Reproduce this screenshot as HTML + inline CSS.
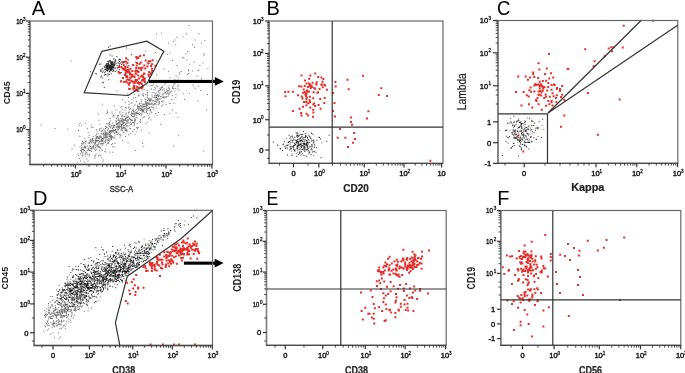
<!DOCTYPE html>
<html><head><meta charset="utf-8"><style>
html,body{margin:0;padding:0;background:#fff;}
body{width:685px;height:373px;overflow:hidden;}
svg{display:block;font-family:"Liberation Sans",sans-serif;filter:blur(0.35px);}
</style></head><body>
<svg width="685" height="373" viewBox="0 0 685 373">
<rect width="685" height="373" fill="#fff"/>
<path d="M127.2 117.3h1v1h-1zM157.7 96.4h1v1h-1zM142.6 106.2h1v1h-1zM99.2 128.7h1v1h-1zM105.6 134.3h1v1h-1zM156.8 98.9h1v1h-1zM148.1 118.3h1v1h-1zM143.9 104.3h1v1h-1zM117.8 119.7h1v1h-1zM104.6 134.2h1v1h-1zM104.4 130.6h1v1h-1zM101.4 130.5h1v1h-1zM117.8 127.3h1v1h-1zM116.7 115.3h1v1h-1zM123 127.4h1v1h-1zM177.3 85.8h1v1h-1zM144.3 107.8h1v1h-1zM127.8 116.1h1v1h-1zM173.6 83.5h1v1h-1zM96.6 130.7h1v1h-1zM94.8 139.4h1v1h-1zM131.9 113.5h1v1h-1zM85.6 151.7h1v1h-1zM81 150.7h1v1h-1zM119.2 111.8h1v1h-1zM116.2 127.3h1v1h-1zM161.6 85.8h1v1h-1zM128.4 111.8h1v1h-1zM119.4 121.5h1v1h-1zM120.4 106.4h1v1h-1zM102.2 138.1h1v1h-1zM77.9 155.3h1v1h-1zM95.3 138.5h1v1h-1zM132.8 109.3h1v1h-1zM96.5 136.3h1v1h-1zM106.4 122.9h1v1h-1zM77.6 153.6h1v1h-1zM148 98.6h1v1h-1zM95 142.5h1v1h-1zM105.2 125.9h1v1h-1zM156.8 100.3h1v1h-1zM118.3 125.7h1v1h-1zM152.2 100.4h1v1h-1zM132.2 112.7h1v1h-1zM138.6 114h1v1h-1zM87.7 132h1v1h-1zM122.3 126.8h1v1h-1zM117.5 126.7h1v1h-1zM156.1 101.5h1v1h-1zM105.5 135.5h1v1h-1zM125.4 113.4h1v1h-1zM85.4 146.2h1v1h-1zM110.7 136.5h1v1h-1zM106.6 137.6h1v1h-1zM94.3 143.7h1v1h-1zM147.1 92h1v1h-1zM112.1 136h1v1h-1zM168.2 95.6h1v1h-1zM126.4 128.9h1v1h-1zM126.5 120.9h1v1h-1zM130.5 102.9h1v1h-1zM134 122.3h1v1h-1zM92.6 140.7h1v1h-1zM113.9 105.3h1v1h-1zM101.6 141h1v1h-1zM112.6 116.6h1v1h-1zM88.6 134.7h1v1h-1zM172 86.5h1v1h-1zM102.1 149.8h1v1h-1zM131.1 111.2h1v1h-1zM105.2 137.3h1v1h-1zM158 112.1h1v1h-1zM133.6 129h1v1h-1zM92.9 142.2h1v1h-1zM150.4 99.8h1v1h-1zM163.7 84.6h1v1h-1zM157.9 91.5h1v1h-1zM123.9 124.9h1v1h-1zM94.7 145.6h1v1h-1zM96.4 140.8h1v1h-1zM161.1 101h1v1h-1zM121.6 115.1h1v1h-1zM96.1 140h1v1h-1zM154.2 103.6h1v1h-1zM130.4 121.6h1v1h-1zM126.3 130.7h1v1h-1zM110.8 134.9h1v1h-1zM113.5 126.9h1v1h-1zM100.9 140.8h1v1h-1zM83.1 142.4h1v1h-1zM154.3 86.9h1v1h-1zM116.4 131.9h1v1h-1zM124.1 121.8h1v1h-1zM104.7 136.6h1v1h-1zM142.7 94.4h1v1h-1zM81.1 149.1h1v1h-1zM108.8 126.2h1v1h-1zM81.2 144.5h1v1h-1zM90.8 124.7h1v1h-1zM169 88.4h1v1h-1zM131 123.2h1v1h-1zM115.7 132.2h1v1h-1zM120 118.2h1v1h-1zM150.7 99.2h1v1h-1zM106.8 139.6h1v1h-1zM123.4 95h1v1h-1zM134.3 112.5h1v1h-1zM110.3 137.2h1v1h-1zM121.8 130h1v1h-1zM140 121.9h1v1h-1zM157.8 103.9h1v1h-1zM96.7 144.5h1v1h-1zM163.1 95.8h1v1h-1zM76.9 161.7h1v1h-1zM142.4 104.1h1v1h-1zM150.4 104.1h1v1h-1zM94.9 150.3h1v1h-1zM113.5 146.8h1v1h-1zM147.8 102.8h1v1h-1zM80 153.3h1v1h-1zM128.6 119.1h1v1h-1zM143.3 116.6h1v1h-1zM120.4 123.9h1v1h-1zM136.8 123.1h1v1h-1zM99.3 130h1v1h-1zM97.6 138h1v1h-1zM112.8 130.2h1v1h-1zM94.8 147.2h1v1h-1zM107.8 142h1v1h-1zM164.9 82.8h1v1h-1zM125.7 112.6h1v1h-1zM109.2 136h1v1h-1zM101.9 130.5h1v1h-1zM164.6 82.4h1v1h-1zM112.7 137.2h1v1h-1zM170.4 91.5h1v1h-1zM121.3 128.5h1v1h-1zM121 119.5h1v1h-1zM155.7 104.5h1v1h-1zM139.3 107.2h1v1h-1zM125.7 130.3h1v1h-1zM114.6 120.6h1v1h-1zM153.9 92.5h1v1h-1zM112.4 131.4h1v1h-1zM158.2 89.9h1v1h-1zM85.1 152.9h1v1h-1zM116.5 131h1v1h-1zM117.5 115.5h1v1h-1zM165.1 92.6h1v1h-1zM101.5 134.1h1v1h-1zM145.7 112.1h1v1h-1zM132.5 108.6h1v1h-1zM137.3 107.4h1v1h-1zM129.6 128h1v1h-1zM169.6 103h1v1h-1zM104.3 151.1h1v1h-1zM111.6 130.9h1v1h-1zM96.5 141.3h1v1h-1zM83.9 161.4h1v1h-1zM98.8 137.9h1v1h-1zM160.8 88.5h1v1h-1zM151.5 103h1v1h-1zM90.2 148h1v1h-1zM128.9 111.5h1v1h-1zM119.5 111.2h1v1h-1zM128.5 106.6h1v1h-1zM134.3 121.1h1v1h-1zM105 127.9h1v1h-1zM167.3 90.1h1v1h-1zM118 128.7h1v1h-1zM127.5 122.8h1v1h-1zM130.4 113.9h1v1h-1zM95.6 144.6h1v1h-1zM85.5 140.9h1v1h-1zM110.1 126.4h1v1h-1zM140.6 99.3h1v1h-1zM147.2 113h1v1h-1zM139.9 110h1v1h-1zM92.5 138h1v1h-1zM159.4 93h1v1h-1zM145.6 103.3h1v1h-1zM153.5 104h1v1h-1zM121.7 109.3h1v1h-1zM159.5 88.1h1v1h-1zM85.1 146.5h1v1h-1zM80.1 160.4h1v1h-1zM99.1 136.1h1v1h-1zM99.7 143.5h1v1h-1zM94.4 157.7h1v1h-1zM122.7 119.1h1v1h-1zM85.1 147.4h1v1h-1zM126.7 130.7h1v1h-1zM92.8 145.3h1v1h-1zM134.8 119.8h1v1h-1zM82.2 148.6h1v1h-1zM104.9 151.4h1v1h-1zM162.4 104.5h1v1h-1zM121.8 127.9h1v1h-1zM147.3 109.8h1v1h-1zM133 97.6h1v1h-1zM129.8 124.2h1v1h-1zM98.7 138.3h1v1h-1zM126.9 124.7h1v1h-1zM85.3 155.7h1v1h-1zM146.8 102.3h1v1h-1zM165 80.8h1v1h-1zM151.6 103.7h1v1h-1zM85.2 143.2h1v1h-1zM106.9 130.2h1v1h-1zM107.4 128.7h1v1h-1zM90.5 141.4h1v1h-1zM128 97h1v1h-1zM147.5 115.2h1v1h-1zM106.7 136.5h1v1h-1zM153.2 108.5h1v1h-1zM146.7 121.4h1v1h-1zM93.9 143.4h1v1h-1zM142.7 92.7h1v1h-1zM151.7 91.9h1v1h-1zM96.3 129.3h1v1h-1zM124.4 116.3h1v1h-1zM128.9 117.3h1v1h-1zM128.3 100.7h1v1h-1zM91.3 148.2h1v1h-1zM131.6 101.9h1v1h-1zM128.1 119.7h1v1h-1zM151.3 102.5h1v1h-1zM145.3 102.4h1v1h-1zM104.8 133h1v1h-1zM138.2 106.2h1v1h-1zM154 95.2h1v1h-1zM155.7 85.3h1v1h-1zM95.9 141.1h1v1h-1zM130.1 133.2h1v1h-1zM98.9 150.3h1v1h-1zM125.4 127.7h1v1h-1zM163.6 88.3h1v1h-1zM110.9 144.1h1v1h-1zM101.2 136.6h1v1h-1zM120.3 126.6h1v1h-1zM130.9 112.8h1v1h-1zM92.1 145.8h1v1h-1zM110.4 127.2h1v1h-1zM92.5 142.2h1v1h-1zM133.5 105.5h1v1h-1zM150.3 99.9h1v1h-1zM112.1 151.8h1v1h-1zM110.4 130.9h1v1h-1zM121.5 120.6h1v1h-1zM97.8 143.4h1v1h-1zM101.7 143.5h1v1h-1zM107.7 123.6h1v1h-1zM118.2 125.3h1v1h-1zM88.8 153.9h1v1h-1zM142.4 110.9h1v1h-1zM127.8 121.6h1v1h-1zM104.9 148.6h1v1h-1zM85.5 141.2h1v1h-1zM140.1 108.6h1v1h-1zM90.3 138.7h1v1h-1zM95 155.4h1v1h-1zM91.2 126.7h1v1h-1zM90 141h1v1h-1zM159.4 92.4h1v1h-1zM105.1 142.1h1v1h-1zM106.7 139.9h1v1h-1zM149.1 113.5h1v1h-1zM128.5 103.9h1v1h-1zM96.7 146.6h1v1h-1zM114.7 125.8h1v1h-1zM154.7 93.4h1v1h-1zM110.1 136.2h1v1h-1zM139.2 103.7h1v1h-1zM87 128.2h1v1h-1zM138.7 107.2h1v1h-1zM141.8 94.6h1v1h-1zM148.7 98.1h1v1h-1zM134.7 117.5h1v1h-1zM109.7 134.4h1v1h-1zM87.5 160.6h1v1h-1zM118.4 122.1h1v1h-1zM142.9 95.4h1v1h-1zM96 133.5h1v1h-1zM103.2 128.4h1v1h-1zM122.4 112h1v1h-1zM136.5 112.6h1v1h-1zM156.1 92.5h1v1h-1zM92.4 126.8h1v1h-1zM98.7 146.2h1v1h-1zM146 104.4h1v1h-1zM131.3 119.4h1v1h-1zM135.6 111.8h1v1h-1zM178.5 89.4h1v1h-1zM166.3 93.5h1v1h-1zM150.5 111.3h1v1h-1zM142.9 110.4h1v1h-1zM109.1 134h1v1h-1zM131.9 120.1h1v1h-1zM100.5 127.8h1v1h-1zM142.5 106.8h1v1h-1zM143.2 106.1h1v1h-1zM138.6 112.6h1v1h-1zM113.7 115.6h1v1h-1zM112.3 145.9h1v1h-1zM111.5 130.1h1v1h-1zM82 141.3h1v1h-1zM151 88.6h1v1h-1zM123.9 120h1v1h-1zM111.6 130h1v1h-1zM123.6 115.8h1v1h-1zM136.7 111.6h1v1h-1zM108.6 125.3h1v1h-1zM149.1 107.1h1v1h-1zM159.4 90h1v1h-1zM109 130.5h1v1h-1zM91.1 150.9h1v1h-1zM140.8 129.5h1v1h-1zM172.4 81.5h1v1h-1zM91.8 138.1h1v1h-1zM134.5 104.3h1v1h-1zM148.7 109.4h1v1h-1zM161.2 87h1v1h-1zM94.9 139.5h1v1h-1zM86.9 145.4h1v1h-1zM172.7 82.3h1v1h-1zM92.7 136h1v1h-1zM95.5 136.6h1v1h-1zM124.7 101.8h1v1h-1zM117.9 114.8h1v1h-1zM140 105.3h1v1h-1zM95.1 141.3h1v1h-1zM157.7 94.1h1v1h-1zM99.3 123.4h1v1h-1zM142.9 103.6h1v1h-1zM84.6 154h1v1h-1zM115.8 131.4h1v1h-1zM83 150.5h1v1h-1zM106.6 126.4h1v1h-1zM104.6 139.9h1v1h-1zM138.6 106h1v1h-1zM116.8 116.8h1v1h-1zM82.8 142.1h1v1h-1zM175.5 93.9h1v1h-1zM156.8 99.4h1v1h-1zM159.1 103.3h1v1h-1zM97.7 133.2h1v1h-1zM111.1 139h1v1h-1zM100.6 133.1h1v1h-1zM94.4 142.1h1v1h-1zM123.5 131.6h1v1h-1zM90.2 139.4h1v1h-1zM97.3 139.9h1v1h-1zM154.4 102.8h1v1h-1zM119.6 136.7h1v1h-1zM96.6 136.1h1v1h-1zM131.4 99.3h1v1h-1zM103.2 134h1v1h-1zM120.3 123.6h1v1h-1zM99.7 136.6h1v1h-1zM124.8 135.9h1v1h-1zM130.6 120.1h1v1h-1zM124.8 130.2h1v1h-1zM110.2 120.5h1v1h-1zM146.9 112.9h1v1h-1zM156.5 114.7h1v1h-1zM98.4 147.1h1v1h-1zM92.9 144.9h1v1h-1zM89.2 145.5h1v1h-1zM171.3 98.9h1v1h-1zM160.7 87h1v1h-1zM97.2 137.2h1v1h-1zM169.5 92.7h1v1h-1zM96.6 145.6h1v1h-1zM119.6 120.6h1v1h-1zM119 127.8h1v1h-1zM162.7 93.4h1v1h-1zM85.3 151.2h1v1h-1zM105.8 133h1v1h-1zM129 109h1v1h-1zM85.4 147.5h1v1h-1zM99.6 145.4h1v1h-1zM118.1 118.1h1v1h-1zM153.3 96.8h1v1h-1zM141.2 113.6h1v1h-1zM146.8 94.6h1v1h-1zM141.8 109.5h1v1h-1zM139 102.7h1v1h-1zM150.1 109.9h1v1h-1zM134.5 133.8h1v1h-1zM137.8 127h1v1h-1zM103.1 132.9h1v1h-1zM93.3 147.4h1v1h-1zM143.3 109.4h1v1h-1zM98.6 142h1v1h-1zM161.2 105.6h1v1h-1zM125.8 107.6h1v1h-1zM107.9 142.9h1v1h-1zM162.6 93.1h1v1h-1zM95.5 153.6h1v1h-1zM120.9 125.8h1v1h-1zM89.5 140.2h1v1h-1zM169.3 92.2h1v1h-1zM124.3 127.3h1v1h-1zM145.4 105.2h1v1h-1zM100.8 140h1v1h-1zM145.2 100.9h1v1h-1zM133.9 93.8h1v1h-1zM130.6 124.2h1v1h-1zM164.1 96.6h1v1h-1zM114.5 129.8h1v1h-1zM113.7 130h1v1h-1zM133 121.9h1v1h-1zM148.3 98.9h1v1h-1zM105.8 127h1v1h-1zM134.2 112.9h1v1h-1zM100.7 149.4h1v1h-1zM124.6 109.6h1v1h-1zM141.9 117.3h1v1h-1zM88.6 142.6h1v1h-1zM136.1 101h1v1h-1zM166 90.7h1v1h-1zM112.8 114.9h1v1h-1zM116.5 126.5h1v1h-1zM140.1 118.9h1v1h-1zM119.6 134.4h1v1h-1zM138.9 106.5h1v1h-1zM88.1 149.5h1v1h-1zM124.4 127.9h1v1h-1zM121.6 115.9h1v1h-1zM161.4 96.3h1v1h-1zM84 150h1v1h-1zM116.1 122.6h1v1h-1zM131.6 112.8h1v1h-1zM123.4 122.7h1v1h-1zM90.9 147.3h1v1h-1zM125.6 114.5h1v1h-1zM99.5 134.8h1v1h-1zM94.3 149.3h1v1h-1zM153 100.3h1v1h-1zM99.4 147.2h1v1h-1zM114.5 138.2h1v1h-1zM141.3 113.7h1v1h-1zM136.4 131.4h1v1h-1zM121.9 114.5h1v1h-1zM145.9 111.1h1v1h-1zM116 123.9h1v1h-1zM128.1 134.3h1v1h-1zM148.8 117.2h1v1h-1zM134.8 96.9h1v1h-1zM129.8 107.9h1v1h-1zM111 135.9h1v1h-1zM124.3 128.8h1v1h-1zM111.5 137h1v1h-1zM141.5 108.6h1v1h-1zM114.5 135.2h1v1h-1zM118.1 132.6h1v1h-1zM141 107.8h1v1h-1zM119.3 134h1v1h-1zM106.2 113.1h1v1h-1zM147.2 108.1h1v1h-1zM109 121.8h1v1h-1zM150.1 109h1v1h-1zM143.4 104.4h1v1h-1zM116.5 119.7h1v1h-1zM136.4 114.7h1v1h-1zM82.2 143.6h1v1h-1zM109.3 122.5h1v1h-1zM155 88.6h1v1h-1zM126.3 120.2h1v1h-1zM126.5 126.2h1v1h-1zM133.8 123.8h1v1h-1zM136 112.7h1v1h-1zM125.5 129.6h1v1h-1zM114.5 129.3h1v1h-1zM100.4 139.5h1v1h-1zM102.4 140.3h1v1h-1zM106 144.5h1v1h-1zM116.7 125.5h1v1h-1zM177.8 84.5h1v1h-1zM109.6 131h1v1h-1zM117.3 128.5h1v1h-1zM108.9 123.5h1v1h-1zM126.3 129.6h1v1h-1zM163.7 89.8h1v1h-1zM155.2 101.2h1v1h-1zM109.3 123.9h1v1h-1zM102.1 139.6h1v1h-1zM155.8 101.1h1v1h-1zM119.5 121.5h1v1h-1zM132.3 131h1v1h-1zM90.3 150.1h1v1h-1zM155.1 113.1h1v1h-1zM106.8 142.8h1v1h-1zM118.4 119.2h1v1h-1zM97.2 136.4h1v1h-1zM114.2 133.1h1v1h-1zM149.3 103.5h1v1h-1zM146.1 103.5h1v1h-1zM118.5 123.8h1v1h-1zM146.8 92.6h1v1h-1zM113.3 125.1h1v1h-1zM111.5 111.6h1v1h-1zM123.4 125.7h1v1h-1zM97.5 133.2h1v1h-1zM108 127.8h1v1h-1zM134.6 110h1v1h-1zM142.8 109.6h1v1h-1zM87.7 137.1h1v1h-1zM138.6 95.1h1v1h-1zM146.9 95.5h1v1h-1zM115.4 109.5h1v1h-1zM85.4 140.2h1v1h-1zM136.6 127.4h1v1h-1zM99.4 128.2h1v1h-1zM132.2 122.1h1v1h-1zM139 106.6h1v1h-1zM134.1 115.6h1v1h-1zM104.5 132.7h1v1h-1zM111.5 137h1v1h-1zM80.1 150h1v1h-1zM148.8 102.6h1v1h-1zM105.4 139.1h1v1h-1zM89.1 149.8h1v1h-1zM104.5 129.8h1v1h-1zM108.8 132.1h1v1h-1zM136.9 105.2h1v1h-1zM80.8 151.4h1v1h-1zM103.1 137.7h1v1h-1zM156.1 97h1v1h-1zM150.6 99h1v1h-1zM130.9 114.9h1v1h-1zM125.7 117.8h1v1h-1zM100.8 140.2h1v1h-1zM152.6 104.8h1v1h-1zM141 100.8h1v1h-1zM123.6 122.6h1v1h-1zM96.6 139.8h1v1h-1zM101.8 140.4h1v1h-1zM112.5 127h1v1h-1zM109.4 132.4h1v1h-1zM87.7 142.7h1v1h-1zM115.2 131.3h1v1h-1zM118.6 126.9h1v1h-1zM106.4 134.7h1v1h-1zM112.5 131.3h1v1h-1zM108.6 132h1v1h-1zM114.3 125h1v1h-1zM130 118.9h1v1h-1zM121 124.9h1v1h-1zM100.9 139h1v1h-1zM146.1 108.6h1v1h-1zM123 127.3h1v1h-1zM118.1 122.2h1v1h-1zM140.2 108.1h1v1h-1zM141.6 113.6h1v1h-1zM150.9 106.5h1v1h-1zM146.3 101.6h1v1h-1zM132.8 109.6h1v1h-1zM137.2 108h1v1h-1zM96.7 139.7h1v1h-1zM137.1 106.2h1v1h-1zM103.5 137.1h1v1h-1zM102.8 132.3h1v1h-1zM91.8 139h1v1h-1zM113.7 132.5h1v1h-1zM81.5 146.8h1v1h-1zM134.2 114.2h1v1h-1zM142 110.6h1v1h-1zM146.1 109.4h1v1h-1zM94.8 141.7h1v1h-1zM131.4 115.6h1v1h-1zM148.3 99.7h1v1h-1zM81.7 154.6h1v1h-1zM98.6 142h1v1h-1zM104.5 132.5h1v1h-1zM119.7 125.8h1v1h-1zM98.1 143.2h1v1h-1zM124.9 123.3h1v1h-1zM110.4 138.6h1v1h-1zM133.8 119.4h1v1h-1zM125.2 120.1h1v1h-1zM134.6 112.3h1v1h-1zM102.7 132.8h1v1h-1zM136 112.1h1v1h-1zM141.3 109.9h1v1h-1zM139.9 119.7h1v1h-1zM89.4 146.4h1v1h-1zM161.8 87.1h1v1h-1zM127.3 117h1v1h-1zM104.8 136.5h1v1h-1zM116.8 122.9h1v1h-1zM122.6 119.7h1v1h-1zM123.3 121.5h1v1h-1zM102.9 138.4h1v1h-1zM105.4 135.9h1v1h-1zM111.9 128h1v1h-1zM143.4 108.9h1v1h-1zM116.9 125.2h1v1h-1zM85 146.1h1v1h-1zM118.9 121.5h1v1h-1zM99.5 136.6h1v1h-1zM82.1 152.7h1v1h-1zM168.6 85.5h1v1h-1zM105.1 134.7h1v1h-1zM125.1 124.2h1v1h-1zM110.2 130.1h1v1h-1zM87.8 147.8h1v1h-1zM156.8 94.2h1v1h-1zM159.6 98.6h1v1h-1zM97.7 143.9h1v1h-1zM115.1 129h1v1h-1zM111.6 124.4h1v1h-1zM95.9 137.3h1v1h-1zM134.4 117.6h1v1h-1zM143.6 112h1v1h-1zM142.2 108.7h1v1h-1zM134.3 117.7h1v1h-1zM82.9 147.3h1v1h-1zM101.2 137.4h1v1h-1zM122.6 122.9h1v1h-1zM137.6 113h1v1h-1zM113.4 124.5h1v1h-1zM117.4 129.8h1v1h-1zM148.4 106.7h1v1h-1zM83.7 144.7h1v1h-1zM105.1 131.5h1v1h-1zM106.1 136.4h1v1h-1zM172.4 86.1h1v1h-1zM102.3 129.8h1v1h-1zM88.9 150.3h1v1h-1zM115.2 128.8h1v1h-1zM133 113.3h1v1h-1zM96.4 149h1v1h-1zM146.8 102.8h1v1h-1zM99.5 136.9h1v1h-1zM136.4 111.8h1v1h-1zM98 137.6h1v1h-1zM153.7 96.8h1v1h-1zM99 140.7h1v1h-1zM139.2 107.6h1v1h-1zM149.4 100.9h1v1h-1zM103.2 142.8h1v1h-1zM90.8 147.7h1v1h-1zM126.5 121.7h1v1h-1zM121.2 125.6h1v1h-1zM120.8 126.5h1v1h-1zM145.7 111.2h1v1h-1zM119.6 125.7h1v1h-1zM121.6 130.4h1v1h-1zM121.8 121.1h1v1h-1zM119.3 125.3h1v1h-1zM116.4 124h1v1h-1zM97.7 140h1v1h-1zM106.6 136.7h1v1h-1zM104.8 141.6h1v1h-1zM103.5 134.9h1v1h-1zM144.2 106h1v1h-1zM92.9 142.3h1v1h-1zM99.3 136.6h1v1h-1zM121.3 118.1h1v1h-1zM107.3 134.1h1v1h-1zM100.7 131.5h1v1h-1zM112.4 131h1v1h-1zM121.7 123.7h1v1h-1zM133 111.1h1v1h-1zM168.6 87.7h1v1h-1zM151.6 96.8h1v1h-1zM116.6 134.1h1v1h-1zM119.7 121.7h1v1h-1zM117.3 133.8h1v1h-1zM101.4 139.7h1v1h-1zM165 91.7h1v1h-1zM89.1 141.9h1v1h-1zM100.5 142.8h1v1h-1zM134.6 120.2h1v1h-1zM127.4 115.4h1v1h-1zM104.9 134.7h1v1h-1zM160.7 97.7h1v1h-1zM114.2 129.8h1v1h-1zM128.5 125.2h1v1h-1zM89.2 142.8h1v1h-1zM154.1 100.4h1v1h-1zM92.3 139.8h1v1h-1zM113.8 136.8h1v1h-1zM154.8 96.7h1v1h-1zM160.9 86.9h1v1h-1zM156 97.1h1v1h-1zM147.6 102.7h1v1h-1zM102.2 144.6h1v1h-1zM84.1 147.1h1v1h-1zM119 126.3h1v1h-1zM88.1 148.4h1v1h-1zM165.6 96.6h1v1h-1zM81 150.3h1v1h-1zM109.6 136.8h1v1h-1zM99.5 141.1h1v1h-1zM83.1 148.9h1v1h-1zM121.9 124.1h1v1h-1zM89.5 145.7h1v1h-1zM156.3 94.9h1v1h-1zM136.3 116.8h1v1h-1zM113.1 125.9h1v1h-1zM150.5 106.2h1v1h-1zM145.5 108.4h1v1h-1zM109.8 132.8h1v1h-1zM150.2 99.3h1v1h-1zM161.6 94.5h1v1h-1zM130.4 118.5h1v1h-1zM108.7 134.4h1v1h-1zM157.7 98.7h1v1h-1zM162.6 96.9h1v1h-1zM109.3 130.1h1v1h-1zM90.1 145.9h1v1h-1zM151.5 95.2h1v1h-1zM136 116.7h1v1h-1zM102.6 138.5h1v1h-1zM124.8 118.5h1v1h-1zM108.2 138.2h1v1h-1zM158.4 98.4h1v1h-1zM112 122.4h1v1h-1zM98.3 139.7h1v1h-1zM83.8 142.2h1v1h-1zM110.2 136h1v1h-1zM171.8 94.9h1v1h-1zM100.7 136.7h1v1h-1zM116.3 126.3h1v1h-1zM168.4 89.9h1v1h-1zM82.4 152.1h1v1h-1zM104.8 137.1h1v1h-1zM148.7 108h1v1h-1zM90.5 141.1h1v1h-1zM162.5 100.2h1v1h-1zM149.3 99.5h1v1h-1zM94.9 143.1h1v1h-1zM129.4 122.5h1v1h-1zM126.1 123.2h1v1h-1zM135.7 108.8h1v1h-1zM108.3 131.8h1v1h-1zM112.6 128.4h1v1h-1zM101 137.4h1v1h-1zM108.5 139h1v1h-1zM97.4 136h1v1h-1zM156.2 99h1v1h-1zM155 100.9h1v1h-1zM109.8 133.3h1v1h-1zM134.9 113.8h1v1h-1zM120.3 129.6h1v1h-1zM105.1 137.3h1v1h-1zM110.7 134.9h1v1h-1zM167.6 93.1h1v1h-1zM109.6 138.6h1v1h-1zM127.8 112.6h1v1h-1zM163.4 97.5h1v1h-1zM105.8 133.8h1v1h-1zM146.5 103.4h1v1h-1zM91.7 140.2h1v1h-1zM140.6 102.9h1v1h-1zM146.5 103.1h1v1h-1zM149.1 100.2h1v1h-1zM167.2 91.7h1v1h-1zM137.8 105.8h1v1h-1zM168.3 94h1v1h-1zM106.2 136.7h1v1h-1zM123 121.7h1v1h-1zM99.9 136.3h1v1h-1zM90.9 142.4h1v1h-1zM117.8 123.1h1v1h-1zM137.8 108.5h1v1h-1zM144.7 106.3h1v1h-1zM82.2 149h1v1h-1zM162 89.6h1v1h-1zM103.3 136.3h1v1h-1zM105.7 131.9h1v1h-1zM148.2 103.4h1v1h-1zM155.4 104.4h1v1h-1zM141.4 111.4h1v1h-1zM110.9 131.7h1v1h-1zM118.6 120.1h1v1h-1zM150.4 97.9h1v1h-1zM111.2 125.6h1v1h-1zM146.3 107.1h1v1h-1zM144.7 103.4h1v1h-1zM119.5 125.7h1v1h-1zM158.2 96.1h1v1h-1zM113.4 130.3h1v1h-1zM139.8 113.2h1v1h-1zM133.2 113.2h1v1h-1zM108.9 131.7h1v1h-1zM123.5 119.2h1v1h-1zM126.3 120.7h1v1h-1zM125.2 118.1h1v1h-1zM93.2 139.8h1v1h-1zM173.5 84.4h1v1h-1zM167.8 87.2h1v1h-1zM87 149.7h1v1h-1zM162.6 101.5h1v1h-1zM124.7 118.5h1v1h-1zM92.9 146.3h1v1h-1zM147.1 104.5h1v1h-1zM117.7 123.5h1v1h-1zM138.2 109.8h1v1h-1zM146.7 102.4h1v1h-1zM124.6 119.3h1v1h-1zM86.6 154.2h1v1h-1zM146.8 97h1v1h-1zM136.7 113.4h1v1h-1zM157.2 98h1v1h-1zM103.3 134.2h1v1h-1zM143 106.3h1v1h-1zM154.8 102.9h1v1h-1zM109.5 132.1h1v1h-1zM115.2 130.1h1v1h-1zM110.1 135.2h1v1h-1zM81.2 142.9h1v1h-1zM100.8 143.1h1v1h-1zM109 140.8h1v1h-1zM92.3 147.3h1v1h-1zM143.2 110.8h1v1h-1zM115.6 122.8h1v1h-1zM125.3 119.5h1v1h-1zM106.9 132.6h1v1h-1zM112.5 129.3h1v1h-1zM141.7 111.5h1v1h-1zM118.7 122.6h1v1h-1zM129 117.8h1v1h-1zM116 121.2h1v1h-1zM126.5 120h1v1h-1zM154.7 98.4h1v1h-1zM104.8 133.9h1v1h-1zM122.7 120.2h1v1h-1zM134.6 119.1h1v1h-1zM90.5 140.8h1v1h-1zM165.9 88.7h1v1h-1zM121 121h1v1h-1zM103.5 141.5h1v1h-1zM140.5 114.9h1v1h-1zM146.9 105.1h1v1h-1zM131.6 113.6h1v1h-1zM158.7 95.1h1v1h-1zM91.6 148.6h1v1h-1zM122.3 119h1v1h-1zM138.9 113.9h1v1h-1zM158.7 100.9h1v1h-1zM132.5 115.7h1v1h-1zM131.2 120.1h1v1h-1zM114.1 132.4h1v1h-1zM125.9 125.2h1v1h-1zM126.3 117h1v1h-1zM156.1 101.2h1v1h-1zM146.6 101.9h1v1h-1zM142.5 106.5h1v1h-1zM159.8 96.1h1v1h-1zM89.1 145.4h1v1h-1zM143.3 103.5h1v1h-1zM120.7 120.1h1v1h-1zM141.4 104.9h1v1h-1zM108 139.9h1v1h-1zM118.1 132.4h1v1h-1zM146.4 105.6h1v1h-1zM86.5 152.6h1v1h-1zM107.9 133.3h1v1h-1zM121.2 124.1h1v1h-1zM150.8 102.5h1v1h-1zM105 132.4h1v1h-1zM147 100.1h1v1h-1zM104.6 137.7h1v1h-1zM107.9 133.3h1v1h-1zM125.9 117h1v1h-1zM133.4 116h1v1h-1zM154.8 98.6h1v1h-1zM154.2 102.8h1v1h-1zM104.2 137.1h1v1h-1zM139.4 107.6h1v1h-1zM132.1 116.3h1v1h-1zM115.5 129.3h1v1h-1zM142.8 104.1h1v1h-1zM155.8 96.8h1v1h-1zM120.9 127.5h1v1h-1zM159.4 98.5h1v1h-1zM94.5 147.4h1v1h-1zM95.4 135.1h1v1h-1zM142.7 105.9h1v1h-1zM106.3 132.8h1v1h-1zM126.9 119.5h1v1h-1zM121.9 122.3h1v1h-1zM95.1 140.2h1v1h-1zM142.2 110.8h1v1h-1zM143.4 109.5h1v1h-1zM96.1 137.9h1v1h-1zM104.9 141.4h1v1h-1zM144.6 108.3h1v1h-1zM157.2 95h1v1h-1zM151.6 103h1v1h-1zM121.1 121.1h1v1h-1zM110.8 134.9h1v1h-1zM123.3 132.3h1v1h-1zM170.8 90.5h1v1h-1zM192.5 84.8h1v1h-1zM84.9 141h1v1h-1zM79.5 146.2h1v1h-1zM71.5 148.5h1v1h-1zM188.8 92.9h1v1h-1zM82.7 155.5h1v1h-1zM156.2 95.5h1v1h-1zM110.9 125.3h1v1h-1zM100.3 147.7h1v1h-1zM101.3 140.2h1v1h-1zM152.3 85.2h1v1h-1zM174.6 88h1v1h-1zM140.7 109h1v1h-1zM102.6 159.5h1v1h-1zM98.7 154.4h1v1h-1zM150.5 100h1v1h-1zM151.2 112.2h1v1h-1zM107.3 112.3h1v1h-1zM116 117.9h1v1h-1zM133.8 81.6h1v1h-1zM184.2 99h1v1h-1zM137.9 81h1v1h-1zM175.4 97h1v1h-1zM153.5 89.3h1v1h-1zM138.3 93.7h1v1h-1zM132.4 112.4h1v1h-1zM154 103.5h1v1h-1zM133.6 125.2h1v1h-1zM160 123.7h1v1h-1zM97.9 145.8h1v1h-1zM112 143.2h1v1h-1zM178.7 73.5h1v1h-1zM120 134.7h1v1h-1zM173 88.3h1v1h-1zM188.2 69.2h1v1h-1zM142.3 106.4h1v1h-1zM84.4 146.1h1v1h-1zM166.5 96.1h1v1h-1zM152.4 106.9h1v1h-1zM106.4 123.4h1v1h-1zM179.3 72.2h1v1h-1zM130 128.1h1v1h-1zM81.1 124.7h1v1h-1zM81.8 140.7h1v1h-1zM102.5 161.3h1v1h-1zM146.5 62h1v1h-1zM169.5 77.2h1v1h-1zM86.4 158.4h1v1h-1zM78 129.9h1v1h-1zM143.2 145.8h1v1h-1zM123.1 80.8h1v1h-1zM127.6 142.6h1v1h-1zM169.3 112.7h1v1h-1zM182.7 93.3h1v1h-1zM197.8 69.9h1v1h-1zM165.3 97h1v1h-1zM74.1 144.8h1v1h-1zM94 155.6h1v1h-1zM143.7 89.3h1v1h-1zM192.3 70.4h1v1h-1zM137.6 95.5h1v1h-1zM122.3 117.4h1v1h-1zM123 125h1v1h-1zM107 111.8h1v1h-1zM109.6 151.7h1v1h-1zM104.8 141.1h1v1h-1zM84.9 122.7h1v1h-1zM138.5 109.3h1v1h-1zM127.9 106.8h1v1h-1zM156.9 86h1v1h-1zM148.9 103.9h1v1h-1zM189.1 63.7h1v1h-1zM114.4 143.1h1v1h-1zM180.8 70.9h1v1h-1zM122.1 139.9h1v1h-1zM152.1 100.2h1v1h-1zM173.5 102.8h1v1h-1zM121.4 114.5h1v1h-1zM133.6 111.1h1v1h-1zM150.7 85h1v1h-1zM88.9 155.5h1v1h-1zM136.2 126.9h1v1h-1zM101.3 157.4h1v1h-1zM148.1 108.1h1v1h-1zM198.2 69.5h1v1h-1zM196.6 75.8h1v1h-1zM109.5 133.5h1v1h-1zM137.1 128.2h1v1h-1zM121.6 106.2h1v1h-1zM119.8 113.6h1v1h-1zM164.1 114h1v1h-1zM159.1 101.7h1v1h-1zM140.8 105.7h1v1h-1zM145.3 123.3h1v1h-1zM144.9 101.5h1v1h-1zM155.4 95.1h1v1h-1zM188 70.3h1v1h-1zM192 44.3h1v1h-1zM197.9 85.8h1v1h-1zM176.6 65h1v1h-1zM84.4 137.7h1v1h-1zM125.1 106.9h1v1h-1zM169.1 102.7h1v1h-1zM111 130.2h1v1h-1zM146 105.8h1v1h-1zM78.9 125.2h1v1h-1zM99.2 137h1v1h-1zM122 99.3h1v1h-1zM81.5 155.3h1v1h-1zM123.3 126.9h1v1h-1zM106.5 136h1v1h-1zM177.4 116.8h1v1h-1zM111.3 137.8h1v1h-1zM117 134h1v1h-1zM167.5 91.6h1v1h-1zM141.8 106.5h1v1h-1zM100.3 154.9h1v1h-1zM146.4 84.4h1v1h-1zM98 155.6h1v1h-1zM102.1 143.1h1v1h-1zM150.3 119.5h1v1h-1zM133.6 122.6h1v1h-1zM111.7 113.3h1v1h-1zM138.8 90.8h1v1h-1zM148.7 132.4h1v1h-1zM78.9 158.1h1v1h-1zM106.8 110.2h1v1h-1zM108.4 135.8h1v1h-1zM177.5 76.8h1v1h-1zM79.4 123.1h1v1h-1zM116.4 90.5h1v1h-1zM97.9 113.4h1v1h-1zM158.1 102.4h1v1h-1zM172.1 87.8h1v1h-1zM80.8 147.8h1v1h-1zM177.2 88.6h1v1h-1zM155.7 107.6h1v1h-1zM101.8 103.7h1v1h-1zM186.8 74.1h1v1h-1zM109.6 118.1h1v1h-1zM168.1 70.7h1v1h-1zM82.2 141.1h1v1h-1zM125.6 116.4h1v1h-1zM132.1 109.9h1v1h-1zM183.5 57.6h1v1h-1zM174.4 78.7h1v1h-1zM142 142.9h1v1h-1zM79.3 135.7h1v1h-1zM127.1 93.6h1v1h-1zM121.7 129.3h1v1h-1zM200.6 79.6h1v1h-1zM153.2 106.7h1v1h-1zM145.2 50.4h1v1h-1zM153.1 83.4h1v1h-1zM167.9 42.4h1v1h-1zM156.1 60.5h1v1h-1zM159.9 89.1h1v1h-1zM188.4 25h1v1h-1zM207 94h1v1h-1zM174.3 90.5h1v1h-1zM186.5 59.4h1v1h-1zM194 46.8h1v1h-1zM188.2 73.1h1v1h-1zM187.2 51.1h1v1h-1zM144.6 98.4h1v1h-1zM201 77.7h1v1h-1zM155 52.1h1v1h-1zM156.2 97.2h1v1h-1zM177.6 79.2h1v1h-1zM182.6 36.4h1v1h-1zM193.6 61.8h1v1h-1zM163.5 68.6h1v1h-1zM205.9 109.5h1v1h-1zM185.3 53.4h1v1h-1zM199.4 64.9h1v1h-1zM175.5 112.4h1v1h-1zM149.1 62.9h1v1h-1zM145.3 98.9h1v1h-1zM186.1 33.2h1v1h-1zM172.2 59.9h1v1h-1zM173.1 41h1v1h-1zM165.7 104.1h1v1h-1zM156.1 74.2h1v1h-1zM175.3 44.2h1v1h-1zM161.1 32.8h1v1h-1zM202.5 62.4h1v1h-1zM156.1 33.2h1v1h-1zM207.4 68.2h1v1h-1zM200.4 90.1h1v1h-1zM169.4 52.4h1v1h-1zM194.7 39.6h1v1h-1zM182.2 57h1v1h-1zM174.8 39.5h1v1h-1zM197.3 100.4h1v1h-1zM198.5 33.2h1v1h-1zM157.6 91.2h1v1h-1zM203.4 54.5h1v1h-1zM146.6 90.1h1v1h-1zM144.9 93.9h1v1h-1zM175.9 36.7h1v1h-1zM164.1 92.6h1v1h-1zM172 109.6h1v1h-1zM175.6 75.5h1v1h-1zM174.9 82.5h1v1h-1zM203.5 53.5h1v1h-1zM204.2 40.2h1v1h-1zM167 91.5h1v1h-1zM178.1 135.2h1v1h-1zM70.6 60.4h1v1h-1zM54.4 128.1h1v1h-1zM96.1 73.7h1v1h-1zM144.1 116.2h1v1h-1zM98.4 119.8h1v1h-1zM203.2 150.4h1v1h-1zM173 145.5h1v1h-1zM194.8 87.7h1v1h-1zM139.4 121.1h1v1h-1zM166.8 53.8h1v1h-1zM200.9 42.5h1v1h-1zM40.7 124.5h1v1h-1zM135.1 150.1h1v1h-1zM67.2 128.8h1v1h-1zM306.3 135.5h1v1h-1zM292.5 146.6h1v1h-1zM305.8 140.8h1v1h-1zM307.4 150.4h1v1h-1zM307.8 143.5h1v1h-1zM289.6 143.6h1v1h-1zM303.1 138.9h1v1h-1zM289.8 141.4h1v1h-1zM302.8 149.3h1v1h-1zM306.9 141.3h1v1h-1zM286.6 144.8h1v1h-1zM290.1 147.5h1v1h-1zM299.9 143.3h1v1h-1zM305.9 144.3h1v1h-1zM291 150.5h1v1h-1zM299.2 137.7h1v1h-1zM306.2 149.5h1v1h-1zM302.4 137.3h1v1h-1zM313.8 140.8h1v1h-1zM302.2 137.9h1v1h-1zM307.3 143.4h1v1h-1zM300.9 139.5h1v1h-1zM301.2 143.8h1v1h-1zM296.5 147.7h1v1h-1zM304.2 143.2h1v1h-1zM297.1 146.1h1v1h-1zM297.8 142.5h1v1h-1zM308.3 152.5h1v1h-1zM299.2 151.1h1v1h-1zM305.2 143.2h1v1h-1zM307.9 139h1v1h-1zM285.4 145.2h1v1h-1zM308.3 153.4h1v1h-1zM298.2 141.9h1v1h-1zM301.5 139.6h1v1h-1zM297.5 133.2h1v1h-1zM298.5 138.8h1v1h-1zM292.8 138.3h1v1h-1zM285.7 147.4h1v1h-1zM306.5 136.2h1v1h-1zM286.1 137.8h1v1h-1zM306.9 147.6h1v1h-1zM288.3 140.8h1v1h-1zM290.5 142.2h1v1h-1zM293.5 139h1v1h-1zM302.6 137.5h1v1h-1zM295.6 132.1h1v1h-1zM292.2 153.5h1v1h-1zM309.9 138.1h1v1h-1zM301.1 142.4h1v1h-1zM296.9 151.8h1v1h-1zM300.1 143.2h1v1h-1zM295.8 152.9h1v1h-1zM303.8 141.1h1v1h-1zM305.5 155.4h1v1h-1zM291.8 134.7h1v1h-1zM296.6 142.9h1v1h-1zM304.6 148.3h1v1h-1zM301.6 145.7h1v1h-1zM297 141.4h1v1h-1zM299.7 145.5h1v1h-1zM299.2 133.6h1v1h-1zM308.4 142.3h1v1h-1zM299 153.1h1v1h-1zM300.1 147.8h1v1h-1zM306.2 156.2h1v1h-1zM294.9 149.6h1v1h-1zM312.1 149.4h1v1h-1zM300 141h1v1h-1zM299.7 150.8h1v1h-1zM289.1 149.6h1v1h-1zM321.3 142.2h1v1h-1zM289.5 143.7h1v1h-1zM309 151.6h1v1h-1zM301.3 146.7h1v1h-1zM313.2 155h1v1h-1zM309.4 151.8h1v1h-1zM304.4 140.3h1v1h-1zM313.2 134.3h1v1h-1zM513.4 131.3h1v1h-1zM514.3 125.2h1v1h-1zM523.6 125.7h1v1h-1zM513.7 134.1h1v1h-1zM521.9 132h1v1h-1zM513 127h1v1h-1zM524.5 124h1v1h-1zM509.7 130.3h1v1h-1zM510.1 118.1h1v1h-1zM511 132.4h1v1h-1zM520 137h1v1h-1zM515.1 131.8h1v1h-1zM525.4 131.2h1v1h-1zM531.7 133.2h1v1h-1zM517.1 130.8h1v1h-1zM528 135.3h1v1h-1zM522.6 131.8h1v1h-1zM515.1 136.9h1v1h-1zM518.3 139.6h1v1h-1zM509.2 122.5h1v1h-1zM530.1 127.5h1v1h-1zM526.1 130.3h1v1h-1zM522.8 123.3h1v1h-1zM516.2 120.7h1v1h-1zM512.1 133.6h1v1h-1zM517.2 121.2h1v1h-1zM516.7 135.2h1v1h-1zM526.5 131.7h1v1h-1zM517.2 141.8h1v1h-1zM520.8 126.1h1v1h-1zM524.8 139.6h1v1h-1zM518.3 131.8h1v1h-1zM529.2 138.7h1v1h-1zM522.1 134.5h1v1h-1zM521.8 144.3h1v1h-1zM520.2 120.9h1v1h-1zM519.9 137.8h1v1h-1zM523.7 128.5h1v1h-1zM498.6 130.1h1v1h-1zM521.9 127.4h1v1h-1zM513.8 137.4h1v1h-1zM520.5 130.6h1v1h-1zM520 135.7h1v1h-1zM541.6 125h1v1h-1zM507.6 123.2h1v1h-1zM513.5 130.3h1v1h-1zM517.3 128h1v1h-1zM512.7 129.1h1v1h-1zM519.9 138.5h1v1h-1zM521.1 132.9h1v1h-1zM520.9 138.6h1v1h-1zM516.6 130.5h1v1h-1zM523.7 143.6h1v1h-1zM526.8 117.4h1v1h-1zM518.3 133.6h1v1h-1zM519.4 140h1v1h-1zM524.9 126.9h1v1h-1zM531.4 141.5h1v1h-1zM512.5 129.8h1v1h-1zM518.8 144.9h1v1h-1zM531 120.8h1v1h-1zM507 137.1h1v1h-1zM521.1 141.3h1v1h-1zM536 139.1h1v1h-1zM525.8 138.9h1v1h-1zM530 136.6h1v1h-1zM516.4 133.3h1v1h-1zM525 123.8h1v1h-1zM543.3 129h1v1h-1zM527.6 133.5h1v1h-1zM524.2 141.4h1v1h-1zM521.2 130.5h1v1h-1zM530.7 140.5h1v1h-1zM537.4 136.1h1v1h-1zM99.1 273.5h1v1h-1zM101.1 247h1v1h-1zM104.3 276.5h1v1h-1zM113.9 255.6h1v1h-1zM106.4 277.8h1v1h-1zM102 275.4h1v1h-1zM125.5 270.4h1v1h-1zM121.8 267.8h1v1h-1zM85.9 284.8h1v1h-1zM100.4 271.8h1v1h-1zM136.7 257.4h1v1h-1zM149.5 249.5h1v1h-1zM111.3 279.2h1v1h-1zM83.8 286.8h1v1h-1zM107.6 255.5h1v1h-1zM115.2 259.5h1v1h-1zM80 299.9h1v1h-1zM110.1 269.7h1v1h-1zM82.2 275.5h1v1h-1zM112.5 255h1v1h-1zM141.1 252.7h1v1h-1zM81.6 288.4h1v1h-1zM76.6 291.5h1v1h-1zM125.8 271.5h1v1h-1zM93.1 290.9h1v1h-1zM73.8 279.8h1v1h-1zM135.8 251.2h1v1h-1zM104 264.4h1v1h-1zM90.9 269h1v1h-1zM64 288.9h1v1h-1zM84.2 276h1v1h-1zM71.3 289.1h1v1h-1zM91 264.7h1v1h-1zM119.9 264.5h1v1h-1zM56.8 294.8h1v1h-1zM134.2 246.6h1v1h-1zM132.3 260.8h1v1h-1zM157 241.4h1v1h-1zM81.3 279.3h1v1h-1zM105.5 272.4h1v1h-1zM119.7 262.5h1v1h-1zM144.1 247.2h1v1h-1zM95.4 276.5h1v1h-1zM99.6 276.6h1v1h-1zM112.6 271.1h1v1h-1zM100.6 280.1h1v1h-1zM57.5 300.5h1v1h-1zM143.6 251.9h1v1h-1zM87.7 281.3h1v1h-1zM79.2 283.2h1v1h-1zM115.4 260.8h1v1h-1zM90.4 281.7h1v1h-1zM117.4 262.7h1v1h-1zM90.3 257h1v1h-1zM114.9 271.5h1v1h-1zM125 257.5h1v1h-1zM136.5 254.6h1v1h-1zM112.7 262h1v1h-1zM118.5 270.3h1v1h-1zM150.9 252.2h1v1h-1zM174.6 231h1v1h-1zM134.6 253.9h1v1h-1zM112.7 261.2h1v1h-1zM80.2 282.8h1v1h-1zM76 292.6h1v1h-1zM66.8 285.8h1v1h-1zM74 298h1v1h-1zM68.5 291.9h1v1h-1zM118.8 256.3h1v1h-1zM89.4 282.7h1v1h-1zM111.3 274.5h1v1h-1zM80.3 284.9h1v1h-1zM133.2 262.5h1v1h-1zM83.5 273.8h1v1h-1zM88.6 274.5h1v1h-1zM109.6 276.2h1v1h-1zM154.1 242.7h1v1h-1zM112.9 272.7h1v1h-1zM98.3 268.3h1v1h-1zM76 285.2h1v1h-1zM90.8 272.1h1v1h-1zM91.4 283.8h1v1h-1zM79.5 286.4h1v1h-1zM112.1 279.7h1v1h-1zM141.6 249.3h1v1h-1zM83.5 286h1v1h-1zM120.8 271.1h1v1h-1zM86.8 273h1v1h-1zM77.9 299.1h1v1h-1zM69.2 274.2h1v1h-1zM72.3 296.1h1v1h-1zM84.8 276.9h1v1h-1zM136.2 260.2h1v1h-1zM80.3 290.6h1v1h-1zM71.6 287.6h1v1h-1zM82.6 283.9h1v1h-1zM184.6 220.6h1v1h-1zM107.9 264.2h1v1h-1zM73.9 294.6h1v1h-1zM141.8 245.9h1v1h-1zM111 265.6h1v1h-1zM125.3 265.9h1v1h-1zM116.6 261.7h1v1h-1zM52.1 296h1v1h-1zM61.5 295.1h1v1h-1zM122.9 270.4h1v1h-1zM108.3 272.8h1v1h-1zM99.2 278.9h1v1h-1zM78 276.6h1v1h-1zM80.7 292h1v1h-1zM95.3 277.1h1v1h-1zM129.3 258.5h1v1h-1zM81.5 282.9h1v1h-1zM125.7 268.8h1v1h-1zM124.4 258.1h1v1h-1zM163.4 236.8h1v1h-1zM99.2 277.8h1v1h-1zM73 285.3h1v1h-1zM82.9 278.4h1v1h-1zM119.2 271.2h1v1h-1zM101.2 267.7h1v1h-1zM131.3 260.4h1v1h-1zM143.6 239.2h1v1h-1zM100.9 280.4h1v1h-1zM64.6 283h1v1h-1zM87.8 292.3h1v1h-1zM88.8 268h1v1h-1zM95 277.2h1v1h-1zM87.4 279.3h1v1h-1zM78.4 297.3h1v1h-1zM128.1 273.2h1v1h-1zM122.5 257.3h1v1h-1zM107.2 271h1v1h-1zM73.1 281.2h1v1h-1zM118.5 265.5h1v1h-1zM115.5 260.6h1v1h-1zM106.2 264.5h1v1h-1zM114.1 278.3h1v1h-1zM96.8 276h1v1h-1zM80.7 276.1h1v1h-1zM82.5 294.2h1v1h-1zM153.6 246h1v1h-1zM62.6 289.9h1v1h-1zM96.6 290.1h1v1h-1zM93.3 269.4h1v1h-1zM107.5 267.2h1v1h-1zM147.3 253.6h1v1h-1zM92.4 272.2h1v1h-1zM174.2 225.7h1v1h-1zM154.7 246h1v1h-1zM117.7 266.1h1v1h-1zM56.5 297.3h1v1h-1zM103.7 270.8h1v1h-1zM126.9 257h1v1h-1zM115.2 273.7h1v1h-1zM110.2 280.7h1v1h-1zM110.7 263.6h1v1h-1zM99.9 260.9h1v1h-1zM72.3 285.3h1v1h-1zM58.5 284.9h1v1h-1zM114.3 263.6h1v1h-1zM113.2 260.6h1v1h-1zM85.5 286.6h1v1h-1zM84.5 265.9h1v1h-1zM88.1 284.8h1v1h-1zM163.8 232.9h1v1h-1zM77.5 292.7h1v1h-1zM98.9 265.3h1v1h-1zM78.3 280.8h1v1h-1zM86.8 275.2h1v1h-1zM126 261.1h1v1h-1zM121.2 264.1h1v1h-1zM145.7 249.1h1v1h-1zM134.8 255h1v1h-1zM86.6 286.7h1v1h-1zM61.1 296.8h1v1h-1zM111.9 271.9h1v1h-1zM162.2 239.5h1v1h-1zM146.8 243.6h1v1h-1zM105.1 276.3h1v1h-1zM133.2 257.1h1v1h-1zM115.4 277.6h1v1h-1zM63.7 301.8h1v1h-1zM146.6 247.2h1v1h-1zM105 274.3h1v1h-1zM132.1 264.2h1v1h-1zM109.7 267.4h1v1h-1zM70.7 283h1v1h-1zM58.4 298.3h1v1h-1zM96.3 276.4h1v1h-1zM80.5 277.6h1v1h-1zM86.3 278.3h1v1h-1zM108.1 259.8h1v1h-1zM103.7 256.3h1v1h-1zM151.4 245.4h1v1h-1zM85.2 295.7h1v1h-1zM160.5 235.6h1v1h-1zM118.9 274.2h1v1h-1zM112.9 255.9h1v1h-1zM112.9 272.4h1v1h-1zM113.6 264.5h1v1h-1zM113 280.7h1v1h-1zM132.2 261.9h1v1h-1zM107.4 258.9h1v1h-1zM80.4 292.1h1v1h-1zM117.4 274.7h1v1h-1zM150.4 248.4h1v1h-1zM106.8 255.5h1v1h-1zM145.2 243.6h1v1h-1zM150.4 249.2h1v1h-1zM115.7 270.9h1v1h-1zM67 287.7h1v1h-1zM74.8 281.3h1v1h-1zM92.9 284h1v1h-1zM137.6 250.7h1v1h-1zM84.1 298.1h1v1h-1zM150.9 247.8h1v1h-1zM118.8 275.7h1v1h-1zM97.7 268.3h1v1h-1zM87.2 279h1v1h-1zM80.3 277.9h1v1h-1zM92.3 290.4h1v1h-1zM174.6 223.3h1v1h-1zM99.7 264.6h1v1h-1zM110.5 270.4h1v1h-1zM131.2 265.1h1v1h-1zM58.2 294h1v1h-1zM127 268.4h1v1h-1zM156.1 243.2h1v1h-1zM94.7 272.5h1v1h-1zM113.4 267.1h1v1h-1zM86.4 274.1h1v1h-1zM113.9 259.9h1v1h-1zM100.5 278.5h1v1h-1zM145.4 255.7h1v1h-1zM104.9 280.9h1v1h-1zM84.9 286.1h1v1h-1zM79 284.2h1v1h-1zM97.8 274h1v1h-1zM98.6 275h1v1h-1zM130.4 257.9h1v1h-1zM69.5 282.5h1v1h-1zM126.3 272.4h1v1h-1zM126.5 268.7h1v1h-1zM119 265.8h1v1h-1zM71.2 284.5h1v1h-1zM113.8 259.2h1v1h-1zM73.9 289.4h1v1h-1zM100.5 280.9h1v1h-1zM76.5 287.9h1v1h-1zM80.7 292.8h1v1h-1zM105.4 278.3h1v1h-1zM117.2 257.4h1v1h-1zM112 257.4h1v1h-1zM92.7 284.1h1v1h-1zM84.2 288.4h1v1h-1zM96.9 287.5h1v1h-1zM107.7 272.8h1v1h-1zM140.3 257.8h1v1h-1zM123.6 260.2h1v1h-1zM125.9 267.7h1v1h-1zM129.9 266.1h1v1h-1zM109.3 260.4h1v1h-1zM110.2 271.6h1v1h-1zM73.6 299.2h1v1h-1zM79.9 280.2h1v1h-1zM115.1 252.9h1v1h-1zM120.3 265.8h1v1h-1zM97.5 268.1h1v1h-1zM114.1 270.6h1v1h-1zM81.7 270h1v1h-1zM111 269.7h1v1h-1zM122.8 257.4h1v1h-1zM120.5 266.8h1v1h-1zM123.1 260h1v1h-1zM92.9 261.3h1v1h-1zM93.8 270.3h1v1h-1zM106.9 281.8h1v1h-1zM146.4 247.3h1v1h-1zM146 248.1h1v1h-1zM94 283.6h1v1h-1zM105.1 270.6h1v1h-1zM163.6 229.8h1v1h-1zM114.3 283.7h1v1h-1zM113.6 275.7h1v1h-1zM92.1 292.7h1v1h-1zM58 293.1h1v1h-1zM163.4 234.4h1v1h-1zM136.2 242.7h1v1h-1zM106.6 262.9h1v1h-1zM121.8 282h1v1h-1zM108.5 262.9h1v1h-1zM95.9 270.8h1v1h-1zM75.1 281.1h1v1h-1zM72.1 285h1v1h-1zM75.3 286.1h1v1h-1zM116.6 261.3h1v1h-1zM88.4 273.8h1v1h-1zM74.7 290.4h1v1h-1zM156.8 240.5h1v1h-1zM106.6 268.6h1v1h-1zM82.1 290.7h1v1h-1zM101.4 269.2h1v1h-1zM145.7 259.4h1v1h-1zM81.5 294.4h1v1h-1zM165.2 236.6h1v1h-1zM88.3 281.1h1v1h-1zM104.7 284.2h1v1h-1zM112.9 267.4h1v1h-1zM75.4 281.5h1v1h-1zM149.9 242.1h1v1h-1zM120.3 255.4h1v1h-1zM70.2 289.4h1v1h-1zM100.6 265.9h1v1h-1zM81 277.9h1v1h-1zM106.4 268.6h1v1h-1zM163.6 234.9h1v1h-1zM66.5 297.6h1v1h-1zM90.9 307.7h1v1h-1zM156.6 241.5h1v1h-1zM99.8 274.7h1v1h-1zM82.9 286.5h1v1h-1zM59.3 288.9h1v1h-1zM66.4 289h1v1h-1zM112.2 267h1v1h-1zM110 281.4h1v1h-1zM89.8 276.2h1v1h-1zM131.2 256.7h1v1h-1zM104.4 277.1h1v1h-1zM110.8 275.7h1v1h-1zM72.3 293.1h1v1h-1zM105.1 275.7h1v1h-1zM98 272.8h1v1h-1zM124.4 260.5h1v1h-1zM102.1 277.7h1v1h-1zM146.9 251.1h1v1h-1zM151.2 243.3h1v1h-1zM152.3 242.9h1v1h-1zM105.1 277.5h1v1h-1zM100.8 268.8h1v1h-1zM113.7 260h1v1h-1zM138.7 257.2h1v1h-1zM72.2 288.9h1v1h-1zM67.6 290.3h1v1h-1zM89.4 289.5h1v1h-1zM87.4 285.6h1v1h-1zM65.6 284.8h1v1h-1zM118.2 272.8h1v1h-1zM117.4 277.7h1v1h-1zM137.3 258.4h1v1h-1zM115.2 261.4h1v1h-1zM77.6 269.8h1v1h-1zM96.9 279.7h1v1h-1zM80.3 287.2h1v1h-1zM102.9 283.1h1v1h-1zM114.6 263.6h1v1h-1zM106.6 264.8h1v1h-1zM94 274.6h1v1h-1zM166.9 237.9h1v1h-1zM128.9 271.2h1v1h-1zM111.7 257.3h1v1h-1zM125.9 266.1h1v1h-1zM62.8 290.6h1v1h-1zM87.2 284.6h1v1h-1zM103.8 277.4h1v1h-1zM126.5 262.1h1v1h-1zM148.6 239.9h1v1h-1zM76.2 293.4h1v1h-1zM121.8 256.4h1v1h-1zM94.4 273.6h1v1h-1zM150.4 240.9h1v1h-1zM64.3 282.5h1v1h-1zM102.2 249.3h1v1h-1zM98.2 292.6h1v1h-1zM86.1 275.6h1v1h-1zM109 271.7h1v1h-1zM174.1 226.8h1v1h-1zM107.4 273.4h1v1h-1zM76.6 274.7h1v1h-1zM102.9 278h1v1h-1zM89.7 287.6h1v1h-1zM111.3 270.7h1v1h-1zM84.4 277.5h1v1h-1zM101.8 279.6h1v1h-1zM108.8 263.3h1v1h-1zM144.9 247.4h1v1h-1zM75.9 286h1v1h-1zM62.2 289.3h1v1h-1zM108.6 263.3h1v1h-1zM100.8 281.5h1v1h-1zM156.1 244.1h1v1h-1zM88.6 273.9h1v1h-1zM126.2 260.8h1v1h-1zM72.5 299.6h1v1h-1zM84.9 280.1h1v1h-1zM159.2 237.9h1v1h-1zM126.9 271.3h1v1h-1zM108.2 283.5h1v1h-1zM69 285.3h1v1h-1zM56.9 303h1v1h-1zM112.8 262.1h1v1h-1zM153 246.6h1v1h-1zM67.7 283.6h1v1h-1zM105.2 255.9h1v1h-1zM61.8 297h1v1h-1zM124.8 280.3h1v1h-1zM166.7 234.5h1v1h-1zM84.2 266.6h1v1h-1zM82.6 274.8h1v1h-1zM81.9 281.2h1v1h-1zM83.7 270.5h1v1h-1zM128.2 265.7h1v1h-1zM75.7 284.1h1v1h-1zM113.3 270h1v1h-1zM108.7 264.8h1v1h-1zM87.7 265.4h1v1h-1zM82.6 286.3h1v1h-1zM89.3 297.1h1v1h-1zM99 262.6h1v1h-1zM127.8 265.7h1v1h-1zM124.1 269.6h1v1h-1zM119.1 254.5h1v1h-1zM81.9 277.2h1v1h-1zM84.9 266.3h1v1h-1zM150.7 244.6h1v1h-1zM93.7 279.4h1v1h-1zM107.3 272.4h1v1h-1zM91.5 273.6h1v1h-1zM115.7 269.4h1v1h-1zM104.8 285.5h1v1h-1zM148.4 251.8h1v1h-1zM145.2 243.5h1v1h-1zM117.2 275.6h1v1h-1zM91.7 269.5h1v1h-1zM104.1 275.8h1v1h-1zM148.8 245.3h1v1h-1zM128.5 244.8h1v1h-1zM170.1 230.6h1v1h-1zM163.2 228.1h1v1h-1zM130.4 264.4h1v1h-1zM110.3 265.7h1v1h-1zM86.9 277.1h1v1h-1zM63.8 285.4h1v1h-1zM146.8 257.5h1v1h-1zM117 254.1h1v1h-1zM67.1 280.5h1v1h-1zM87.1 281.8h1v1h-1zM65.2 292.6h1v1h-1zM62.6 303.9h1v1h-1zM122.5 263.6h1v1h-1zM66.4 279.1h1v1h-1zM122.3 265.5h1v1h-1zM113.8 271.7h1v1h-1zM99.5 283.1h1v1h-1zM108.5 275.7h1v1h-1zM72.4 280.1h1v1h-1zM82.7 290h1v1h-1zM80.6 290.1h1v1h-1zM67 284.4h1v1h-1zM133.6 255.9h1v1h-1zM101.4 274.5h1v1h-1zM151.4 240.4h1v1h-1zM98.4 280h1v1h-1zM107.4 280h1v1h-1zM96 258.1h1v1h-1zM138.9 256.6h1v1h-1zM107.4 272.8h1v1h-1zM133.9 254.2h1v1h-1zM117.1 263.1h1v1h-1zM106.6 265.3h1v1h-1zM127.7 270h1v1h-1zM80.7 285.2h1v1h-1zM79.2 281.6h1v1h-1zM100.4 264.1h1v1h-1zM136.1 266.6h1v1h-1zM57.1 295.1h1v1h-1zM90.1 283.3h1v1h-1zM97.4 286.5h1v1h-1zM174.4 226.3h1v1h-1zM179 226h1v1h-1zM87.8 280.8h1v1h-1zM100.4 273.3h1v1h-1zM103.8 253.7h1v1h-1zM83 279.6h1v1h-1zM78.2 287.4h1v1h-1zM120.8 280.3h1v1h-1zM76.4 293.3h1v1h-1zM72 297.2h1v1h-1zM148.7 256.2h1v1h-1zM141.3 255.3h1v1h-1zM107.4 287.6h1v1h-1zM97.3 290.3h1v1h-1zM90.5 284.5h1v1h-1zM119.9 268.3h1v1h-1zM127 270.5h1v1h-1zM137.5 259h1v1h-1zM146 256.4h1v1h-1zM134 262.5h1v1h-1zM128.4 269.3h1v1h-1zM96.3 288.3h1v1h-1zM81 293.4h1v1h-1zM144.6 260.4h1v1h-1zM121.2 274.5h1v1h-1zM137.4 264.3h1v1h-1zM107.2 285.6h1v1h-1zM121.8 273.3h1v1h-1zM107.8 279.3h1v1h-1zM73.3 289.2h1v1h-1zM90.3 290.5h1v1h-1zM73.7 288.7h1v1h-1zM129.6 264.9h1v1h-1zM81.4 282.7h1v1h-1zM86.5 284.1h1v1h-1zM132.1 264.2h1v1h-1zM94 283.2h1v1h-1zM84.3 281.3h1v1h-1zM117.5 277.8h1v1h-1zM97.2 281.6h1v1h-1zM72.7 291.8h1v1h-1zM126.4 268.3h1v1h-1zM86.4 293h1v1h-1zM97.5 282.8h1v1h-1zM145.1 255.7h1v1h-1zM139.8 252.1h1v1h-1zM71.2 287.3h1v1h-1zM71.4 290.5h1v1h-1zM75.9 287.2h1v1h-1zM84 284.9h1v1h-1zM85 288.6h1v1h-1zM95.8 284.7h1v1h-1zM99.7 282.6h1v1h-1zM85.1 290.4h1v1h-1zM70.6 294.5h1v1h-1zM79.1 292.5h1v1h-1zM129.9 262.8h1v1h-1zM112.8 275.9h1v1h-1zM114.6 271h1v1h-1zM138.6 264.9h1v1h-1zM149.2 256.3h1v1h-1zM100.6 282.3h1v1h-1zM126.8 269.6h1v1h-1zM105.6 275.8h1v1h-1zM123.9 270.9h1v1h-1zM80.5 292.5h1v1h-1zM99.3 282.5h1v1h-1zM130.4 267.7h1v1h-1zM127.4 273h1v1h-1zM81.2 289.4h1v1h-1zM104.4 286.8h1v1h-1zM113.9 278h1v1h-1zM107.3 278.5h1v1h-1zM102.1 276.7h1v1h-1zM77.9 288.8h1v1h-1zM102.6 290.1h1v1h-1zM79.7 287.1h1v1h-1zM101.8 286.3h1v1h-1zM91.9 280.5h1v1h-1zM117.7 278.7h1v1h-1zM140.1 258h1v1h-1zM70.5 292.8h1v1h-1zM122.2 264.5h1v1h-1zM117.7 271.8h1v1h-1zM92.6 276.3h1v1h-1zM127.7 269.8h1v1h-1zM128.2 266.9h1v1h-1zM100 281h1v1h-1zM86.8 289.9h1v1h-1zM148.1 257.4h1v1h-1zM136.1 265h1v1h-1zM114 275h1v1h-1zM74.6 292.4h1v1h-1zM83.7 292.1h1v1h-1zM81.3 290h1v1h-1zM82.8 291.1h1v1h-1zM120.6 271.5h1v1h-1zM137.3 265.3h1v1h-1zM128.9 264h1v1h-1zM103.3 281.9h1v1h-1zM77.6 288h1v1h-1zM78.9 289.1h1v1h-1zM101.8 279.1h1v1h-1zM107.1 278h1v1h-1zM125.3 275.1h1v1h-1zM129.4 264.6h1v1h-1zM96.9 283.4h1v1h-1zM77.6 289.2h1v1h-1zM114.9 275.4h1v1h-1zM79.9 294.2h1v1h-1zM71.8 294.1h1v1h-1zM80 284.7h1v1h-1zM102.9 279.8h1v1h-1zM83.4 287.2h1v1h-1zM115.5 271h1v1h-1zM102.1 278.2h1v1h-1zM125 268.2h1v1h-1zM84.8 288.1h1v1h-1zM66.4 311.2h1v1h-1zM54.2 325.6h1v1h-1zM63.3 310.8h1v1h-1zM61.7 298.7h1v1h-1zM66.1 312.8h1v1h-1zM79.8 292.7h1v1h-1zM44.8 317.1h1v1h-1zM64.2 312h1v1h-1zM49.2 309.8h1v1h-1zM61.3 295.6h1v1h-1zM76.8 300.3h1v1h-1zM73 303.6h1v1h-1zM76 295.5h1v1h-1zM81.7 293.5h1v1h-1zM61.6 317.2h1v1h-1zM62.1 309.2h1v1h-1zM54.1 310h1v1h-1zM61.1 305.7h1v1h-1zM71.3 305.6h1v1h-1zM74.1 303.8h1v1h-1zM75.3 300.8h1v1h-1zM67.5 294.9h1v1h-1zM44.3 314.6h1v1h-1zM73.3 298.8h1v1h-1zM82.4 298.3h1v1h-1zM86.1 304.6h1v1h-1zM46.7 324.5h1v1h-1zM60.5 315.4h1v1h-1zM67.1 308.2h1v1h-1zM71.6 301.6h1v1h-1zM80.6 302h1v1h-1zM44.2 314.9h1v1h-1zM87.7 293.3h1v1h-1zM64.2 301.5h1v1h-1zM95.8 291.7h1v1h-1zM81.8 299.2h1v1h-1zM62.8 325.1h1v1h-1zM92.2 296.5h1v1h-1zM67.3 304.7h1v1h-1zM50.4 321.9h1v1h-1zM54.8 309.6h1v1h-1zM68.2 314.4h1v1h-1zM78.5 306.4h1v1h-1zM60 336.6h1v1h-1zM90.7 286.8h1v1h-1zM57.1 311.7h1v1h-1zM97.7 290.5h1v1h-1zM74.3 305.8h1v1h-1zM77.2 306.6h1v1h-1zM62.4 301.3h1v1h-1zM67.7 300.5h1v1h-1zM61.9 313h1v1h-1zM66.3 314.8h1v1h-1zM83.3 290.3h1v1h-1zM78.1 289.2h1v1h-1zM81.4 306.6h1v1h-1zM63.2 316.2h1v1h-1zM58.8 321h1v1h-1zM69.8 297.3h1v1h-1zM92.7 291.6h1v1h-1zM75.4 303.8h1v1h-1zM55.7 316.6h1v1h-1zM79.4 298.8h1v1h-1zM86.3 295.9h1v1h-1zM77.6 308.8h1v1h-1zM77.4 298.4h1v1h-1zM74.2 298.7h1v1h-1zM69 302.1h1v1h-1zM62.4 305.2h1v1h-1zM77.8 302.8h1v1h-1zM64.4 307.1h1v1h-1zM52.9 310.5h1v1h-1zM87.2 305.1h1v1h-1zM88.6 296.8h1v1h-1zM51 312.6h1v1h-1zM79.1 308.2h1v1h-1zM71.6 300h1v1h-1zM58.8 310.9h1v1h-1zM59.4 310.1h1v1h-1zM53.8 310.2h1v1h-1zM65.4 305.1h1v1h-1zM54.5 314h1v1h-1zM72.8 292.2h1v1h-1zM91.1 290.8h1v1h-1zM57 313.7h1v1h-1zM56.3 314.7h1v1h-1zM67.2 308.9h1v1h-1zM49.8 333.8h1v1h-1zM52.9 320.2h1v1h-1zM53.7 312.9h1v1h-1zM81.7 297.6h1v1h-1zM68.4 307h1v1h-1zM80.3 302.9h1v1h-1zM82.6 296.3h1v1h-1zM60.7 324.4h1v1h-1zM55 305.2h1v1h-1zM47.1 321.5h1v1h-1zM77.1 305h1v1h-1zM67.8 297.1h1v1h-1zM82.5 301.9h1v1h-1zM74.9 307.6h1v1h-1zM54.9 309.1h1v1h-1zM64.8 326.1h1v1h-1zM63.4 315.1h1v1h-1zM49.5 312.9h1v1h-1zM53.1 311.1h1v1h-1zM75.3 296.7h1v1h-1zM73 305.2h1v1h-1zM64.7 309.4h1v1h-1zM51.3 304.3h1v1h-1zM57 303.7h1v1h-1zM65.1 302.6h1v1h-1zM76.7 298.3h1v1h-1zM64.1 306h1v1h-1zM77.9 296h1v1h-1zM62.1 315.5h1v1h-1zM71.4 311.9h1v1h-1zM78.3 301.5h1v1h-1zM62.5 290.8h1v1h-1zM67.2 306.5h1v1h-1zM47.2 321.1h1v1h-1zM52.4 315h1v1h-1zM73.6 304.8h1v1h-1zM49.6 316.8h1v1h-1zM54 301.8h1v1h-1zM67.2 287h1v1h-1zM89.8 298.1h1v1h-1zM99.4 286.6h1v1h-1zM77.5 303.1h1v1h-1zM60.8 307.6h1v1h-1zM54 312.7h1v1h-1zM62.9 320.5h1v1h-1zM46.2 308.3h1v1h-1zM58.8 311.7h1v1h-1zM74.6 294.1h1v1h-1zM73.4 304.8h1v1h-1zM90.2 297.1h1v1h-1zM61.6 316.8h1v1h-1zM64 310.2h1v1h-1zM77.3 291.4h1v1h-1zM56.5 314.5h1v1h-1zM56.4 320.1h1v1h-1zM96.5 297h1v1h-1zM58.8 328.6h1v1h-1zM86.6 300.3h1v1h-1zM61.7 300.8h1v1h-1zM87.4 292.2h1v1h-1zM79.6 299h1v1h-1zM59.1 320.5h1v1h-1zM47.8 309.3h1v1h-1zM73.7 310h1v1h-1zM60.7 316.1h1v1h-1zM59.7 303.5h1v1h-1zM76 306.3h1v1h-1zM64.3 302.7h1v1h-1zM57.6 311.9h1v1h-1zM85 295.2h1v1h-1zM80.9 301.2h1v1h-1zM80.6 291h1v1h-1zM60.1 315.4h1v1h-1zM96.1 278.3h1v1h-1zM66.6 303.6h1v1h-1zM61.8 306.4h1v1h-1zM51.6 327.3h1v1h-1zM82.7 302.8h1v1h-1zM76.4 298.6h1v1h-1zM89.2 288.2h1v1h-1zM49.9 316.4h1v1h-1zM48.4 312.7h1v1h-1zM87.6 310.5h1v1h-1zM56.1 289.4h1v1h-1zM60.3 311.4h1v1h-1zM50.3 296.1h1v1h-1zM65.7 315.3h1v1h-1zM54.9 306.9h1v1h-1zM47.9 328.4h1v1h-1zM94.6 289.4h1v1h-1zM52.3 323.4h1v1h-1zM62.4 311.8h1v1h-1zM53.7 323.1h1v1h-1zM80.8 298.8h1v1h-1zM78.9 279.1h1v1h-1zM91.1 290.1h1v1h-1zM64.3 295.1h1v1h-1zM78.1 306.5h1v1h-1zM81 302.8h1v1h-1zM84.1 298.1h1v1h-1zM51.3 318.1h1v1h-1zM66 308.8h1v1h-1zM71.7 299.1h1v1h-1zM60.5 328h1v1h-1zM80.2 301.6h1v1h-1zM72.5 302.4h1v1h-1zM80.6 289.2h1v1h-1zM77.1 296.6h1v1h-1zM64.2 308.6h1v1h-1zM50.3 314.1h1v1h-1zM55.7 308.7h1v1h-1zM65.4 306.7h1v1h-1zM92.8 286h1v1h-1zM54.3 313.4h1v1h-1zM82.3 288.3h1v1h-1zM55.1 305.2h1v1h-1zM70.7 299.3h1v1h-1zM88.3 301.1h1v1h-1zM65.8 312.2h1v1h-1zM55.4 313.7h1v1h-1zM57.8 301.5h1v1h-1zM76.5 298.2h1v1h-1zM74.8 309h1v1h-1zM71.5 313.5h1v1h-1zM55 301.2h1v1h-1zM77.3 297.7h1v1h-1zM82.8 298.8h1v1h-1zM64.9 310.8h1v1h-1zM56.4 312h1v1h-1zM70.4 309.6h1v1h-1zM80.6 289.7h1v1h-1zM66.2 320.8h1v1h-1zM69 296.7h1v1h-1zM77 301.4h1v1h-1zM90.5 298.1h1v1h-1zM48.8 325.2h1v1h-1zM73.4 309.3h1v1h-1zM47.9 323.2h1v1h-1zM58.4 322.8h1v1h-1zM75.7 301.7h1v1h-1zM53.2 320.2h1v1h-1zM74 314.7h1v1h-1zM79.1 294.7h1v1h-1zM75.3 292.4h1v1h-1zM82.1 291.8h1v1h-1zM71.4 315.3h1v1h-1zM65.8 317h1v1h-1zM96.9 288.5h1v1h-1zM60.1 312.8h1v1h-1zM50 318h1v1h-1zM67.2 315.7h1v1h-1zM70.1 290.5h1v1h-1zM61 305.6h1v1h-1zM92.5 291.3h1v1h-1zM60.1 313.7h1v1h-1zM54.4 314.6h1v1h-1zM66.8 303.8h1v1h-1zM55.9 315.6h1v1h-1zM72 284.6h1v1h-1zM58.6 337.9h1v1h-1zM59.9 317.1h1v1h-1zM74.3 309.3h1v1h-1zM72.9 298h1v1h-1zM47.3 320.3h1v1h-1zM70.5 321.7h1v1h-1zM70.1 319.8h1v1h-1zM60.8 311h1v1h-1zM61 299.7h1v1h-1zM70.4 305.9h1v1h-1zM79.7 298h1v1h-1zM78.6 306.2h1v1h-1zM82.9 289.3h1v1h-1zM65.5 305h1v1h-1zM56.4 314.8h1v1h-1zM75.9 298.2h1v1h-1zM52.7 322.9h1v1h-1zM45.8 311.3h1v1h-1zM50.7 305.4h1v1h-1zM46.1 314.8h1v1h-1zM64.1 315.9h1v1h-1zM61.6 307.1h1v1h-1zM94 288.6h1v1h-1zM84.1 303.1h1v1h-1zM82.1 300.2h1v1h-1zM76.1 297.7h1v1h-1zM54.9 315.1h1v1h-1zM54.2 312.8h1v1h-1zM80.7 303.1h1v1h-1zM78 301.8h1v1h-1zM47.9 311.9h1v1h-1zM63.1 305.2h1v1h-1zM56.7 308.7h1v1h-1zM68.3 308.9h1v1h-1zM65.5 311.4h1v1h-1zM64.3 301.2h1v1h-1zM71.8 302.9h1v1h-1zM79.3 302.6h1v1h-1zM86.1 303.4h1v1h-1zM66.6 309.6h1v1h-1zM62.5 326.4h1v1h-1zM85 297.8h1v1h-1zM46 323h1v1h-1zM77.2 298.2h1v1h-1zM48.3 310.2h1v1h-1zM59.3 312.7h1v1h-1zM90.7 297.7h1v1h-1zM58.5 314.2h1v1h-1zM47.9 318.4h1v1h-1zM51.7 312.8h1v1h-1zM92.1 287.7h1v1h-1zM64.3 306.8h1v1h-1zM60.7 314.2h1v1h-1zM87.1 301.7h1v1h-1zM84 275.6h1v1h-1zM56.2 317.8h1v1h-1zM51.4 324h1v1h-1zM87 304.2h1v1h-1zM62.2 313.1h1v1h-1zM65.8 313.6h1v1h-1zM52.8 311.1h1v1h-1zM63.9 308.5h1v1h-1zM87.9 299.4h1v1h-1zM87.6 288.2h1v1h-1zM55.2 307.5h1v1h-1zM73.1 305.3h1v1h-1zM52.2 304.5h1v1h-1zM67.9 307.5h1v1h-1zM81.1 289.6h1v1h-1zM58 314.1h1v1h-1zM68.8 305.3h1v1h-1zM55 309.2h1v1h-1zM58 304.1h1v1h-1zM72.1 300h1v1h-1zM60.6 291.7h1v1h-1zM55.2 310.1h1v1h-1zM61.3 312.3h1v1h-1zM78.5 309.4h1v1h-1zM63.4 304.9h1v1h-1zM71.5 303.5h1v1h-1zM58.1 324.1h1v1h-1zM72.8 317.6h1v1h-1zM47.2 314.3h1v1h-1zM47.5 324.7h1v1h-1zM55.7 323h1v1h-1zM77.7 303.5h1v1h-1zM52.3 306.3h1v1h-1zM64.5 301.2h1v1h-1zM98 293.4h1v1h-1zM58 332.4h1v1h-1zM54.1 313.5h1v1h-1zM56.7 325.4h1v1h-1zM68.2 321.5h1v1h-1zM90.2 287.7h1v1h-1zM45 314h1v1h-1zM68.3 318.5h1v1h-1zM44.3 324.7h1v1h-1zM97.8 293.4h1v1h-1zM64.6 308.1h1v1h-1zM74 307.7h1v1h-1zM58 307.2h1v1h-1zM64.8 328.2h1v1h-1zM82.4 290.8h1v1h-1zM50.3 301.6h1v1h-1zM56 314.6h1v1h-1zM59.3 324h1v1h-1zM81 295.4h1v1h-1zM87.8 295.4h1v1h-1zM76.9 293.7h1v1h-1zM55.9 312.1h1v1h-1zM60.6 302.6h1v1h-1zM75.1 294.2h1v1h-1zM65 296.3h1v1h-1zM61.4 306h1v1h-1zM98.3 300.5h1v1h-1zM58.2 312h1v1h-1zM80.1 301.6h1v1h-1zM52.5 332.3h1v1h-1zM89.2 291h1v1h-1zM58.8 303.4h1v1h-1zM88.9 298h1v1h-1zM76.2 293.1h1v1h-1zM86.3 299h1v1h-1zM71.5 312.8h1v1h-1zM48.3 307.6h1v1h-1zM63 305.2h1v1h-1zM95.4 301.3h1v1h-1zM49.6 307.1h1v1h-1zM67.6 301h1v1h-1zM65.2 308.6h1v1h-1zM63.8 306h1v1h-1zM59.6 304.8h1v1h-1zM56.4 325.3h1v1h-1zM55.4 308.8h1v1h-1zM56.5 315.2h1v1h-1zM45.8 315h1v1h-1zM76.7 299.4h1v1h-1zM87.7 287h1v1h-1zM55.7 320.9h1v1h-1zM46.8 314.1h1v1h-1zM60.8 320.6h1v1h-1zM50 306.8h1v1h-1zM64.8 304.9h1v1h-1zM55.9 316.6h1v1h-1zM70.1 306.2h1v1h-1zM77.5 296.5h1v1h-1zM83.8 295.8h1v1h-1zM77 292.4h1v1h-1zM82.2 299h1v1h-1zM100.8 274.4h1v1h-1zM64.4 310.9h1v1h-1zM52.6 325.6h1v1h-1zM53.3 321.6h1v1h-1zM64.3 315h1v1h-1zM73.5 299.4h1v1h-1zM83.2 301.9h1v1h-1zM53 311.2h1v1h-1zM67.2 305.9h1v1h-1zM48.6 315.9h1v1h-1zM70.2 279h1v1h-1zM85.7 303.4h1v1h-1zM60.6 314.6h1v1h-1zM73.9 309.3h1v1h-1zM72.2 296.8h1v1h-1zM75.5 308.6h1v1h-1zM52 318h1v1h-1zM65.9 289h1v1h-1zM47.9 304.7h1v1h-1zM63.3 309.6h1v1h-1zM48.5 312.6h1v1h-1zM95.6 292h1v1h-1zM62.6 305.2h1v1h-1zM56 325.2h1v1h-1zM88.5 283.2h1v1h-1zM63.7 297.4h1v1h-1zM68 299.1h1v1h-1zM85.2 287.9h1v1h-1zM68.4 302h1v1h-1zM61.7 309.4h1v1h-1zM77.1 291.6h1v1h-1zM58.4 314.8h1v1h-1zM52.3 325.3h1v1h-1zM75.5 310h1v1h-1zM65.5 323.5h1v1h-1zM100.1 296.2h1v1h-1zM68.8 305.9h1v1h-1zM88.4 307.6h1v1h-1zM45.6 322.5h1v1h-1zM43.1 330.4h1v1h-1zM60.2 309h1v1h-1zM82.5 283.9h1v1h-1zM66.4 298.3h1v1h-1zM72.1 306h1v1h-1zM62.5 315h1v1h-1zM62.1 309h1v1h-1zM60.8 319.7h1v1h-1zM58.4 302.2h1v1h-1zM45.4 313.1h1v1h-1zM74.7 310.5h1v1h-1zM58.7 312h1v1h-1zM88.6 295.5h1v1h-1zM70.9 316.1h1v1h-1zM53 323.6h1v1h-1zM59.5 305h1v1h-1zM53.3 315.8h1v1h-1zM79 288.7h1v1h-1zM57.4 312.6h1v1h-1zM68.8 309h1v1h-1zM63.3 294.4h1v1h-1zM60.4 323.6h1v1h-1zM83.6 310.7h1v1h-1zM68.5 311h1v1h-1zM57.9 319.6h1v1h-1zM54.1 326.6h1v1h-1zM58.6 310.3h1v1h-1zM53.8 322.6h1v1h-1zM73 306.3h1v1h-1zM77.2 290.2h1v1h-1zM71.5 298h1v1h-1zM76.2 298.1h1v1h-1zM77.5 309h1v1h-1zM68.3 306.4h1v1h-1zM52.6 322.2h1v1h-1zM74.2 300.4h1v1h-1zM44.1 310.1h1v1h-1zM64.1 324.8h1v1h-1zM54.1 336.7h1v1h-1zM73.5 305.5h1v1h-1zM74.3 301.9h1v1h-1zM61 321.4h1v1h-1zM70.3 296.7h1v1h-1zM76.6 300.7h1v1h-1zM65.7 295.5h1v1h-1zM55.9 316.8h1v1h-1zM50.5 317.9h1v1h-1zM85.3 294.4h1v1h-1zM49.3 311.6h1v1h-1zM55.2 301.4h1v1h-1zM78.5 294.5h1v1h-1zM45 326.2h1v1h-1zM52.6 312.4h1v1h-1zM61.4 321h1v1h-1zM53.4 308.1h1v1h-1zM48.5 317.3h1v1h-1zM79.1 297.2h1v1h-1zM54.2 312.4h1v1h-1zM88 300.2h1v1h-1zM48 303.1h1v1h-1zM58.2 318.7h1v1h-1zM69.7 311.2h1v1h-1zM50.9 316.3h1v1h-1zM64.7 308.5h1v1h-1zM66.7 305.9h1v1h-1zM71.2 310.4h1v1h-1zM91.6 294.9h1v1h-1zM61.3 302.4h1v1h-1zM88.4 296.4h1v1h-1zM57.7 321.4h1v1h-1zM72.6 306.5h1v1h-1zM63.4 309.3h1v1h-1zM80.8 301.9h1v1h-1zM69.9 302.9h1v1h-1zM84.1 294.7h1v1h-1zM52.1 299.8h1v1h-1zM56.9 311h1v1h-1zM68 314.1h1v1h-1zM71.3 301.2h1v1h-1zM61.1 302.5h1v1h-1zM80.8 305.9h1v1h-1zM61.9 311.5h1v1h-1zM91.3 295.1h1v1h-1zM90.5 297.3h1v1h-1zM45.4 322.6h1v1h-1zM73.2 303.7h1v1h-1zM84.7 291.9h1v1h-1zM46.6 329.8h1v1h-1zM76.7 302h1v1h-1zM70.3 299.4h1v1h-1zM67.4 308.5h1v1h-1zM57.7 322.5h1v1h-1zM77.6 291.4h1v1h-1zM56.7 324.3h1v1h-1zM53.7 313.2h1v1h-1zM60.8 327.8h1v1h-1zM96.9 294.2h1v1h-1zM62.8 308.7h1v1h-1zM52.7 325.1h1v1h-1zM63.5 320.3h1v1h-1zM78.6 298.3h1v1h-1zM71.6 306.2h1v1h-1zM75.3 298.3h1v1h-1zM82.3 305.2h1v1h-1zM57.5 300.1h1v1h-1zM60.8 309.4h1v1h-1zM84.3 283.4h1v1h-1zM61.1 315h1v1h-1zM67.4 289.3h1v1h-1zM82.3 291.4h1v1h-1zM72.5 306.3h1v1h-1zM88.3 293h1v1h-1zM44.7 316.1h1v1h-1zM73 297.1h1v1h-1zM67.2 303.4h1v1h-1zM63.9 294.9h1v1h-1zM58.1 314.7h1v1h-1zM61.4 317h1v1h-1zM79.7 304.4h1v1h-1zM65.5 307.6h1v1h-1zM54.6 323.5h1v1h-1zM74.9 306.2h1v1h-1zM79.6 305.7h1v1h-1zM62.1 312.8h1v1h-1zM51.7 315.8h1v1h-1zM77.7 295.9h1v1h-1z" fill="#5a5a5a" fill-opacity="0.85"/>
<path d="M109 64.4h1v1h-1zM109.3 66.2h1v1h-1zM107 67h1v1h-1zM110.6 70.3h1v1h-1zM109.9 60.3h1v1h-1zM107.5 68.5h1v1h-1zM108 69h1v1h-1zM107.4 65h1v1h-1zM107 66.5h1v1h-1zM108.8 67.8h1v1h-1zM112.2 68.4h1v1h-1zM111.9 62.4h1v1h-1zM103.6 66.5h1v1h-1zM110.3 68.1h1v1h-1zM111 69h1v1h-1zM108.6 66.1h1v1h-1zM106.3 63.1h1v1h-1zM110.1 69.4h1v1h-1zM111.1 64.7h1v1h-1zM109.5 69h1v1h-1zM108.9 66.6h1v1h-1zM108.8 65.9h1v1h-1zM108.9 65.6h1v1h-1zM110.5 69.2h1v1h-1zM113 67.4h1v1h-1zM106.8 63h1v1h-1zM108.5 64.7h1v1h-1zM111.1 69.5h1v1h-1zM106.6 67.4h1v1h-1zM105.9 65.5h1v1h-1zM107 68h1v1h-1zM109.5 66h1v1h-1zM107.6 67.4h1v1h-1zM106.4 67.3h1v1h-1zM109.4 65.6h1v1h-1zM109.8 65h1v1h-1zM105.8 69.6h1v1h-1zM111.9 62.7h1v1h-1zM108.9 66h1v1h-1zM108.8 66.4h1v1h-1zM113 67.1h1v1h-1zM109.8 67h1v1h-1zM107.8 67.2h1v1h-1zM114.5 64.2h1v1h-1zM107.4 68.7h1v1h-1zM110.2 68.4h1v1h-1zM111.6 66.1h1v1h-1zM108.9 71h1v1h-1zM110.5 68.9h1v1h-1zM110 65.9h1v1h-1zM113.9 62.3h1v1h-1zM108.3 69.3h1v1h-1zM109.7 67.4h1v1h-1zM110.5 65.4h1v1h-1zM107.7 63.9h1v1h-1zM104.5 65.2h1v1h-1zM110.5 66.5h1v1h-1zM110.3 67.6h1v1h-1zM111.1 67.2h1v1h-1zM110.2 62.7h1v1h-1zM112.5 66.7h1v1h-1zM109.5 65h1v1h-1zM110.3 66.7h1v1h-1zM107.3 68.8h1v1h-1zM108 65.4h1v1h-1zM109 65.2h1v1h-1zM106 63.7h1v1h-1zM108.4 64.8h1v1h-1zM105.4 64.7h1v1h-1zM113 65h1v1h-1zM113.9 63.4h1v1h-1zM109.4 68.6h1v1h-1zM110.5 66.5h1v1h-1zM108 65.8h1v1h-1zM112.3 65.2h1v1h-1zM109.7 65.2h1v1h-1zM110.1 67.4h1v1h-1zM109.1 67.3h1v1h-1zM108.4 64.7h1v1h-1zM107.1 68h1v1h-1zM110.7 65.6h1v1h-1zM107.3 67h1v1h-1zM111.4 67.2h1v1h-1zM111.4 69.1h1v1h-1zM111.1 64.3h1v1h-1zM108.8 65.9h1v1h-1zM108.9 61.3h1v1h-1zM107.1 67.6h1v1h-1zM110 64.9h1v1h-1zM106.3 63.3h1v1h-1zM109.9 66.7h1v1h-1zM110 67.4h1v1h-1zM110.4 63.9h1v1h-1zM104.4 68.8h1v1h-1zM108.8 64.4h1v1h-1zM106.9 70h1v1h-1zM110.1 62.2h1v1h-1zM104.6 68.9h1v1h-1zM109.2 71.2h1v1h-1zM105.7 69h1v1h-1zM113.2 64.9h1v1h-1zM106.3 68.2h1v1h-1zM108.1 64.4h1v1h-1zM108 67.2h1v1h-1zM105.8 69.8h1v1h-1zM107.3 65.3h1v1h-1zM111 66.1h1v1h-1zM110.2 68.8h1v1h-1zM112.4 66.9h1v1h-1zM106.6 64.4h1v1h-1zM108.1 64.9h1v1h-1zM106.6 64.4h1v1h-1zM111.1 67.8h1v1h-1zM114 64.7h1v1h-1zM110.8 67.1h1v1h-1zM108.6 64.8h1v1h-1zM106.6 65.5h1v1h-1zM107.7 67.7h1v1h-1zM112.5 64.5h1v1h-1zM105.8 66.7h1v1h-1zM111.3 62.9h1v1h-1zM115.5 62.8h1v1h-1zM111.4 62h1v1h-1zM108.8 73.9h1v1h-1zM100.8 75.6h1v1h-1zM111.9 68.8h1v1h-1zM110.2 61.1h1v1h-1zM108.1 63.3h1v1h-1zM110.9 69.4h1v1h-1zM107.2 67.3h1v1h-1zM115.2 61.5h1v1h-1zM111.8 66h1v1h-1zM110.1 61.4h1v1h-1zM107.2 70.8h1v1h-1zM107.9 67.5h1v1h-1zM113.3 65.5h1v1h-1zM104.6 67.3h1v1h-1zM105.1 71.2h1v1h-1zM108.4 64.6h1v1h-1zM120.1 62.6h1v1h-1zM114.5 67h1v1h-1zM121.5 61.5h1v1h-1zM111.6 66.8h1v1h-1zM110.8 67.8h1v1h-1zM98.9 63.8h1v1h-1zM109.6 69.3h1v1h-1zM119.3 58.6h1v1h-1zM113.6 63.9h1v1h-1zM115.3 61.4h1v1h-1zM113.2 58.8h1v1h-1zM110.5 63.7h1v1h-1zM111.4 67.4h1v1h-1zM114.6 68h1v1h-1zM114.3 60.8h1v1h-1zM112.6 61h1v1h-1zM116.8 66.7h1v1h-1zM110.9 62.2h1v1h-1zM110.6 73.2h1v1h-1zM110.1 66.2h1v1h-1zM104.6 66.5h1v1h-1zM119 63.5h1v1h-1zM102.2 77.5h1v1h-1zM107.8 62.3h1v1h-1zM127.9 59.4h1v1h-1zM109.1 65.7h1v1h-1zM107.5 73.2h1v1h-1zM110.8 64.1h1v1h-1zM116.3 56h1v1h-1zM111.4 66.9h1v1h-1zM116.6 64.9h1v1h-1zM115.6 69.8h1v1h-1zM112.3 70.7h1v1h-1zM130.9 54.3h1v1h-1zM111.5 64.1h1v1h-1zM107.5 65.8h1v1h-1zM108.2 66.2h1v1h-1zM112.3 61.4h1v1h-1zM113.4 62.7h1v1h-1zM111.6 55.6h1v1h-1zM112.6 64.9h1v1h-1zM103.2 70.6h1v1h-1zM118.9 69.3h1v1h-1zM111 68.1h1v1h-1zM109 64.9h1v1h-1zM103.9 72.3h1v1h-1zM106.1 64.2h1v1h-1zM106.3 66.4h1v1h-1zM108.1 60.5h1v1h-1zM105.5 74.3h1v1h-1zM112.8 66.3h1v1h-1zM110.2 61.6h1v1h-1zM104.9 69.3h1v1h-1zM109.5 69.8h1v1h-1zM107.4 69.6h1v1h-1zM117.4 62.4h1v1h-1zM95.4 72.9h1v1h-1zM108.4 64.8h1v1h-1zM102.1 71.8h1v1h-1zM110.6 69h1v1h-1zM115 59.6h1v1h-1zM100.3 71.1h1v1h-1zM122.5 63.3h1v1h-1zM108.3 79.3h1v1h-1zM118.9 59.3h1v1h-1zM109.3 60h1v1h-1zM108 46.8h1v1h-1zM126.7 58.8h1v1h-1zM113.5 58.2h1v1h-1zM119.1 64.9h1v1h-1zM104.8 74h1v1h-1zM100.3 63.4h1v1h-1zM123.6 73.8h1v1h-1zM128.4 65.1h1v1h-1zM126.3 64.5h1v1h-1zM125.9 47.6h1v1h-1zM112.5 63.4h1v1h-1zM111 63.2h1v1h-1zM118.2 59.4h1v1h-1zM107.2 60.9h1v1h-1zM112.7 70.4h1v1h-1zM103.8 74.7h1v1h-1zM121.1 64h1v1h-1zM100.7 70.6h1v1h-1zM120.8 72.1h1v1h-1zM100.5 76.6h1v1h-1zM109.7 45.5h1v1h-1zM100.5 69.6h1v1h-1zM118.2 62.4h1v1h-1zM102.2 82.1h1v1h-1zM106.7 68.2h1v1h-1zM120.2 59.4h1v1h-1zM102.2 68.2h1v1h-1zM114.7 71h1v1h-1zM105.8 67.6h1v1h-1zM90.1 77.1h1v1h-1zM111.1 61.5h1v1h-1zM117.3 68.3h1v1h-1zM100.3 70.7h1v1h-1zM109.6 54.6h1v1h-1zM107.4 75.6h1v1h-1zM100.4 69.1h1v1h-1zM113 69.5h1v1h-1zM107.4 73.5h1v1h-1zM135.2 61.5h1v1h-1zM102.8 82.3h1v1h-1zM115.3 60h1v1h-1zM119 61h1v1h-1zM90.1 71.2h1v1h-1zM103.8 87h1v1h-1zM117.9 66.9h1v1h-1zM313.5 150.9h1v1h-1zM311.9 145.6h1v1h-1zM297.6 138.9h1v1h-1zM305.1 135.9h1v1h-1zM306.6 139.8h1v1h-1zM303.1 145.8h1v1h-1zM302.1 145.1h1v1h-1zM312.3 140h1v1h-1zM309.6 136.7h1v1h-1zM294.3 136.7h1v1h-1zM301.4 139.5h1v1h-1zM294.2 150.8h1v1h-1zM304.8 137.1h1v1h-1zM294 150h1v1h-1zM303.4 142.8h1v1h-1zM299.4 140.7h1v1h-1zM313.7 147h1v1h-1zM299.2 143.8h1v1h-1zM310.8 148.7h1v1h-1zM303.7 149.7h1v1h-1zM305.6 145.5h1v1h-1zM314.2 145.4h1v1h-1zM303.1 143.4h1v1h-1zM311 145.5h1v1h-1zM289.4 138.2h1v1h-1zM307 145.8h1v1h-1zM298.7 144.8h1v1h-1zM299.5 139.4h1v1h-1zM300.6 154.5h1v1h-1zM312.9 139.4h1v1h-1zM286.6 145.1h1v1h-1zM300.8 134.1h1v1h-1zM295.1 139.8h1v1h-1zM309.2 136.1h1v1h-1zM297.3 138.9h1v1h-1zM303.9 143.1h1v1h-1zM297.5 145.3h1v1h-1zM305.5 149.2h1v1h-1zM308.1 147.8h1v1h-1zM297.5 149.6h1v1h-1zM300.9 146.7h1v1h-1zM296.3 140.7h1v1h-1zM308.9 151.4h1v1h-1zM285 147.7h1v1h-1zM296.9 148.1h1v1h-1zM300.6 136.9h1v1h-1zM300 137.8h1v1h-1zM297 140.4h1v1h-1zM291.2 146.3h1v1h-1zM316.3 139.7h1v1h-1zM282.9 143.6h1v1h-1zM311.4 143.9h1v1h-1zM304.1 146.5h1v1h-1zM294.3 145h1v1h-1zM300.5 134.1h1v1h-1zM307 142h1v1h-1zM309.6 146.3h1v1h-1zM293.8 145.2h1v1h-1zM308.8 146.3h1v1h-1zM310.9 140.5h1v1h-1zM297.9 144.7h1v1h-1zM289.6 145.7h1v1h-1zM303.5 147.1h1v1h-1zM305.6 144.6h1v1h-1zM318.5 136.7h1v1h-1zM292.7 146.5h1v1h-1zM296.2 135.6h1v1h-1zM311.9 151.5h1v1h-1zM293.5 148.9h1v1h-1zM288.6 134.8h1v1h-1zM303.7 145.7h1v1h-1zM292.5 145.8h1v1h-1zM304.5 138.8h1v1h-1zM297.9 154h1v1h-1zM288.8 140.9h1v1h-1zM307.9 149.7h1v1h-1zM301.8 153.3h1v1h-1zM288.1 142h1v1h-1zM284.4 146.3h1v1h-1zM293.9 145.3h1v1h-1zM304.7 146.7h1v1h-1zM300.2 143.7h1v1h-1zM301.5 149.3h1v1h-1zM306.2 142.3h1v1h-1zM303.5 154.9h1v1h-1zM284.1 141.3h1v1h-1zM297.6 143.9h1v1h-1zM310.7 138.4h1v1h-1zM299.4 149h1v1h-1zM295.9 139.8h1v1h-1zM296.9 141h1v1h-1zM308.9 141.8h1v1h-1zM277.2 144.5h1v1h-1zM296.2 155.7h1v1h-1zM286.8 147.4h1v1h-1zM305.8 143.6h1v1h-1zM303.9 142.6h1v1h-1zM294.6 143.9h1v1h-1zM306 143.3h1v1h-1zM291.5 136.1h1v1h-1zM289.7 146.6h1v1h-1zM292.2 136.8h1v1h-1zM307.1 137.8h1v1h-1zM291.9 140.2h1v1h-1zM293.4 145h1v1h-1zM302 148.8h1v1h-1zM298 144.9h1v1h-1zM307 144.7h1v1h-1zM295.2 143.8h1v1h-1zM290.8 148h1v1h-1zM296.7 134.5h1v1h-1zM300.8 145.5h1v1h-1zM314.1 143.7h1v1h-1zM296.1 141.8h1v1h-1zM300.8 146.6h1v1h-1zM310.6 149.2h1v1h-1zM294.1 143.3h1v1h-1zM303.4 148h1v1h-1zM304.3 150.9h1v1h-1zM299.3 144.2h1v1h-1zM300.7 136.5h1v1h-1zM306.9 147.3h1v1h-1zM289.8 148.5h1v1h-1zM300.3 140h1v1h-1zM305.7 145h1v1h-1zM298.7 135h1v1h-1zM295.5 142h1v1h-1zM287 154.6h1v1h-1zM292.6 139.7h1v1h-1zM297 132.5h1v1h-1zM292.9 148.5h1v1h-1zM292.3 141.8h1v1h-1zM296.8 145.4h1v1h-1zM303.6 144.6h1v1h-1zM301 151.2h1v1h-1zM287.6 141.9h1v1h-1zM296.4 132.7h1v1h-1zM301.6 148.7h1v1h-1zM298.9 140.7h1v1h-1zM306.5 144.2h1v1h-1zM304.2 148.5h1v1h-1zM305.9 144.2h1v1h-1zM299.7 152.3h1v1h-1zM298 142.5h1v1h-1zM302.6 140.7h1v1h-1zM303.1 131h1v1h-1zM308.5 139.7h1v1h-1zM306.6 148.8h1v1h-1zM297.3 145h1v1h-1zM290.5 139.6h1v1h-1zM297.3 146.3h1v1h-1zM298.6 147.2h1v1h-1zM305.7 139.9h1v1h-1zM296.6 148.3h1v1h-1zM313 141.6h1v1h-1zM311.3 147.4h1v1h-1zM304.9 135.9h1v1h-1zM302.2 133.9h1v1h-1zM292.9 146.8h1v1h-1zM304.3 143.9h1v1h-1zM300.6 144.7h1v1h-1zM301.8 140.8h1v1h-1zM296.3 142.3h1v1h-1zM298.8 152.3h1v1h-1zM302.5 142.7h1v1h-1zM282.4 144.2h1v1h-1zM320.4 157.3h1v1h-1zM311.7 133.4h1v1h-1zM312.7 142.5h1v1h-1zM304.8 132.9h1v1h-1zM310.5 153.9h1v1h-1zM279.7 148h1v1h-1zM296.3 135.8h1v1h-1zM303.4 137h1v1h-1zM308.4 134.8h1v1h-1zM294.1 143.1h1v1h-1zM326.3 140.8h1v1h-1zM290 136.5h1v1h-1zM298 141.6h1v1h-1zM306.9 137.1h1v1h-1zM287.6 144.6h1v1h-1zM311.3 144h1v1h-1zM328.7 134.8h1v1h-1zM304.9 134.9h1v1h-1zM307.5 142.4h1v1h-1zM291.3 154.9h1v1h-1zM282.1 150.1h1v1h-1zM295.6 139.7h1v1h-1zM297.9 136h1v1h-1zM313.8 151.3h1v1h-1zM272.8 141.5h1v1h-1zM280.1 148.5h1v1h-1zM296.5 146.5h1v1h-1zM297.1 136.7h1v1h-1zM315.5 151.8h1v1h-1zM306.7 149.1h1v1h-1zM277.4 144.8h1v1h-1zM319.1 137.1h1v1h-1zM311 132.5h1v1h-1zM319.9 138.5h1v1h-1zM301.7 135.7h1v1h-1zM300.7 140.2h1v1h-1zM297.3 134.9h1v1h-1zM316 147.3h1v1h-1zM520.5 130.3h1v1h-1zM505.5 140.8h1v1h-1zM529.2 142.1h1v1h-1zM512.4 123.8h1v1h-1zM505.1 130h1v1h-1zM513.4 121.9h1v1h-1zM534.9 129.7h1v1h-1zM523.6 137.1h1v1h-1zM533.2 125.1h1v1h-1zM524.4 144.6h1v1h-1zM513.4 142.7h1v1h-1zM523.9 122.2h1v1h-1zM509.1 136.1h1v1h-1zM512.2 125.2h1v1h-1zM512 131.7h1v1h-1zM514.9 137.4h1v1h-1zM513.4 115.8h1v1h-1zM520.6 124.9h1v1h-1zM523.6 140.6h1v1h-1zM516.1 121.5h1v1h-1zM518.3 138.5h1v1h-1zM525.6 136.6h1v1h-1zM524.5 142h1v1h-1zM518.5 134.6h1v1h-1zM533.4 137.2h1v1h-1zM519.1 127.1h1v1h-1zM514.4 131.4h1v1h-1zM520.2 140h1v1h-1zM516.2 137.4h1v1h-1zM506.3 129.4h1v1h-1zM535.4 127.8h1v1h-1zM528.2 142h1v1h-1zM521.9 139.3h1v1h-1zM526.7 128.5h1v1h-1zM528.5 125.5h1v1h-1zM526.8 133.6h1v1h-1zM513.6 145.1h1v1h-1zM511.8 131.7h1v1h-1zM522.7 134.4h1v1h-1zM527 138.8h1v1h-1zM510.5 148h1v1h-1zM531.7 131.1h1v1h-1zM529.8 129.7h1v1h-1zM519.3 139.5h1v1h-1zM512.3 133.7h1v1h-1zM522.2 144.1h1v1h-1zM505.8 135.8h1v1h-1zM527.7 129h1v1h-1zM521.9 122.8h1v1h-1zM525.1 121.3h1v1h-1zM523.2 135.4h1v1h-1zM520.8 147.2h1v1h-1zM514.2 133.1h1v1h-1zM519.3 125.7h1v1h-1zM528.4 140.4h1v1h-1zM530.9 136.2h1v1h-1zM522.7 129.3h1v1h-1zM514.7 138.3h1v1h-1zM514.8 137.4h1v1h-1zM518.5 120.4h1v1h-1zM519.4 130.8h1v1h-1zM514.6 130.6h1v1h-1zM525.8 145.7h1v1h-1zM519.5 146.3h1v1h-1zM520.5 125.5h1v1h-1zM531.3 128.9h1v1h-1zM518.7 139.8h1v1h-1zM531.3 125h1v1h-1zM528.2 128.5h1v1h-1zM525.8 146.5h1v1h-1zM519 140.9h1v1h-1zM514.2 136.7h1v1h-1zM518 135h1v1h-1zM513.6 130.6h1v1h-1zM523.3 130.7h1v1h-1zM525.4 142.1h1v1h-1zM507.5 142.6h1v1h-1zM520.9 132.5h1v1h-1zM529.1 117.7h1v1h-1zM508.2 137.3h1v1h-1zM521.1 124.1h1v1h-1zM519.3 141.1h1v1h-1zM506.9 122.6h1v1h-1zM524.2 120.4h1v1h-1zM516.3 136.5h1v1h-1zM514.9 134.2h1v1h-1zM517.1 139.7h1v1h-1zM517.2 130.9h1v1h-1zM519.3 139.5h1v1h-1zM523.5 137.5h1v1h-1zM516.5 138.4h1v1h-1zM510.5 121.5h1v1h-1zM514.3 125.3h1v1h-1zM517.2 130.8h1v1h-1zM525.6 129.4h1v1h-1zM523.1 135.7h1v1h-1zM517.5 120h1v1h-1zM521.3 138.7h1v1h-1zM533.7 132.3h1v1h-1zM515.6 123.8h1v1h-1zM523 133.5h1v1h-1zM524.7 129.7h1v1h-1zM513.3 137.5h1v1h-1zM527.5 126.4h1v1h-1zM518.5 136.9h1v1h-1zM521.1 122.9h1v1h-1zM535.8 138.7h1v1h-1zM512.3 125h1v1h-1zM521.3 134.2h1v1h-1zM525.9 127.1h1v1h-1zM520.8 130.4h1v1h-1zM524.3 134.7h1v1h-1zM521 132.8h1v1h-1zM524.9 130.8h1v1h-1zM528.5 148.6h1v1h-1zM521.1 126.7h1v1h-1zM517.1 139.2h1v1h-1zM519.7 142.1h1v1h-1zM512.1 146h1v1h-1zM531.4 140.9h1v1h-1zM528.5 133.5h1v1h-1zM513.2 135.2h1v1h-1zM514.9 129.5h1v1h-1zM519.4 146h1v1h-1zM532.4 121h1v1h-1zM525.5 135.5h1v1h-1zM521.7 137.5h1v1h-1zM513.8 121.2h1v1h-1zM522.7 133.8h1v1h-1zM542.2 118.7h1v1h-1zM527.4 138.4h1v1h-1zM520.1 122.2h1v1h-1zM518.1 118.5h1v1h-1zM520.8 148.4h1v1h-1zM519.1 121.9h1v1h-1zM510.8 147h1v1h-1zM524.2 145h1v1h-1zM518 127h1v1h-1zM518.1 155.5h1v1h-1zM520.5 123.5h1v1h-1zM524.1 145.3h1v1h-1zM520 143.5h1v1h-1zM526.7 132.9h1v1h-1zM534.1 122.7h1v1h-1zM530 136.8h1v1h-1zM510.6 122.4h1v1h-1zM538.7 121.2h1v1h-1zM520.9 149.2h1v1h-1zM531.4 120.2h1v1h-1zM514.1 126h1v1h-1zM505.6 130.3h1v1h-1zM527.2 141.7h1v1h-1zM525.1 129.7h1v1h-1zM515.9 133.9h1v1h-1zM526.7 141.7h1v1h-1zM520.9 128.3h1v1h-1zM502 154.9h1v1h-1zM512.9 143h1v1h-1zM540.9 136.9h1v1h-1zM524.3 128.3h1v1h-1zM520.4 123.5h1v1h-1zM82.7 282.2h1v1h-1zM99.8 271.2h1v1h-1zM124.6 264h1v1h-1zM71.9 276.9h1v1h-1zM80.6 296.4h1v1h-1zM84.2 275.4h1v1h-1zM108 272.2h1v1h-1zM121.7 268.5h1v1h-1zM148.4 252.1h1v1h-1zM146.4 248h1v1h-1zM84.6 284.6h1v1h-1zM82.7 277.9h1v1h-1zM127.5 268.2h1v1h-1zM131.6 256h1v1h-1zM105.9 278.7h1v1h-1zM140.8 247h1v1h-1zM114.6 270h1v1h-1zM112.1 245.9h1v1h-1zM129.6 251.7h1v1h-1zM112.6 273h1v1h-1zM123.5 259.6h1v1h-1zM148.8 248.3h1v1h-1zM93.4 260.5h1v1h-1zM122.2 275.1h1v1h-1zM162.6 235h1v1h-1zM123.8 264.9h1v1h-1zM132.9 248.1h1v1h-1zM137.4 252.5h1v1h-1zM57.6 290.7h1v1h-1zM123.3 267.7h1v1h-1zM124.5 264h1v1h-1zM120 268.9h1v1h-1zM119.3 269.8h1v1h-1zM103 268.7h1v1h-1zM113.6 269.6h1v1h-1zM104.9 267.8h1v1h-1zM108 264.7h1v1h-1zM73.4 286h1v1h-1zM71.7 270.2h1v1h-1zM127.7 270.9h1v1h-1zM79.1 283.4h1v1h-1zM125.8 271h1v1h-1zM91.2 278.1h1v1h-1zM115.3 256.5h1v1h-1zM91.2 268.4h1v1h-1zM101 274.3h1v1h-1zM115.1 287.3h1v1h-1zM87.4 280.2h1v1h-1zM106.4 266.6h1v1h-1zM86.1 284.7h1v1h-1zM74.7 286.2h1v1h-1zM142.2 253.1h1v1h-1zM175.6 222.9h1v1h-1zM135.6 259.7h1v1h-1zM97.9 258.9h1v1h-1zM67.8 294.5h1v1h-1zM88.7 269.3h1v1h-1zM137.4 253.5h1v1h-1zM133.8 257h1v1h-1zM68 287.5h1v1h-1zM116.1 280.9h1v1h-1zM104 253.4h1v1h-1zM145.5 248.9h1v1h-1zM126.3 261.1h1v1h-1zM101.3 282.3h1v1h-1zM79.8 295.4h1v1h-1zM130.7 250.6h1v1h-1zM81.3 273.5h1v1h-1zM60.2 296.2h1v1h-1zM81.2 273.3h1v1h-1zM116 265.2h1v1h-1zM90.1 276.8h1v1h-1zM102.7 264.1h1v1h-1zM101.9 270.6h1v1h-1zM93.1 270.2h1v1h-1zM92.6 274.4h1v1h-1zM129.4 244.4h1v1h-1zM96.8 273.1h1v1h-1zM81.1 294.5h1v1h-1zM146.7 251h1v1h-1zM72.2 283.9h1v1h-1zM98.3 262.3h1v1h-1zM157.7 241.8h1v1h-1zM70.5 290.9h1v1h-1zM104.5 269.9h1v1h-1zM85.5 283.3h1v1h-1zM65.4 283.7h1v1h-1zM129.6 243.8h1v1h-1zM107.8 270.6h1v1h-1zM71.2 301.9h1v1h-1zM113.2 272.8h1v1h-1zM73.1 276.8h1v1h-1zM63.9 289.4h1v1h-1zM70.8 289.4h1v1h-1zM65.7 294.6h1v1h-1zM112 259.2h1v1h-1zM106.1 251.4h1v1h-1zM118.8 264.9h1v1h-1zM70.1 283.1h1v1h-1zM143.4 253.2h1v1h-1zM125.2 265.1h1v1h-1zM88.2 288.7h1v1h-1zM167.3 235.6h1v1h-1zM108.9 268.6h1v1h-1zM118.8 266.8h1v1h-1zM114.5 273.5h1v1h-1zM80.3 283.1h1v1h-1zM93.7 270.7h1v1h-1zM96.5 271h1v1h-1zM180.4 227.3h1v1h-1zM94.8 286.9h1v1h-1zM94.6 264.4h1v1h-1zM127.6 268.1h1v1h-1zM122.7 267.6h1v1h-1zM73.8 286.2h1v1h-1zM109.9 274h1v1h-1zM127.9 256.2h1v1h-1zM106.5 272.8h1v1h-1zM81 282.2h1v1h-1zM103.6 274h1v1h-1zM156.1 238.7h1v1h-1zM113.9 271.5h1v1h-1zM108.2 274.2h1v1h-1zM58 291.3h1v1h-1zM94.1 302.2h1v1h-1zM128.2 258.8h1v1h-1zM112 261.3h1v1h-1zM118.2 275.6h1v1h-1zM76.1 281.7h1v1h-1zM157.3 240.5h1v1h-1zM128.6 254.2h1v1h-1zM100.8 276.5h1v1h-1zM79.2 273.9h1v1h-1zM109.7 260.7h1v1h-1zM109.6 275.8h1v1h-1zM66.9 276.7h1v1h-1zM93.7 283.1h1v1h-1zM143.3 247.6h1v1h-1zM102 263.3h1v1h-1zM75.1 286.9h1v1h-1zM144.2 249.7h1v1h-1zM102.6 279.5h1v1h-1zM61 297.7h1v1h-1zM77.9 278.5h1v1h-1zM155.1 239.7h1v1h-1zM166.2 234.4h1v1h-1zM151.6 242.9h1v1h-1zM76.9 282.5h1v1h-1zM99.7 290.2h1v1h-1zM83.2 264.1h1v1h-1zM117.7 268h1v1h-1zM77.2 285.7h1v1h-1zM85.7 301.3h1v1h-1zM74.1 296.4h1v1h-1zM95.4 280.3h1v1h-1zM85 277.8h1v1h-1zM93.2 277.1h1v1h-1zM86.9 281.5h1v1h-1zM94 273.5h1v1h-1zM118.4 270.4h1v1h-1zM118.1 274.3h1v1h-1zM89.3 280h1v1h-1zM139.8 257.8h1v1h-1zM62.5 290.4h1v1h-1zM69.2 283.6h1v1h-1zM84.8 272.1h1v1h-1zM129.7 253.2h1v1h-1zM73 287.9h1v1h-1zM152.1 239.1h1v1h-1zM107 274.9h1v1h-1zM124.4 254h1v1h-1zM105.7 278.5h1v1h-1zM101.4 267.3h1v1h-1zM96.6 279.4h1v1h-1zM95.2 271.3h1v1h-1zM113 254.6h1v1h-1zM157.6 237.5h1v1h-1zM84.9 296.6h1v1h-1zM102.9 279.2h1v1h-1zM112.9 269.8h1v1h-1zM130.4 263.6h1v1h-1zM56.6 294.2h1v1h-1zM129.8 259.8h1v1h-1zM64.7 285.2h1v1h-1zM135.2 258.1h1v1h-1zM123.2 258.5h1v1h-1zM112.9 261.5h1v1h-1zM73.5 280.9h1v1h-1zM137.7 259.3h1v1h-1zM110.6 271.1h1v1h-1zM152.5 249.3h1v1h-1zM77.4 284.3h1v1h-1zM138.1 250.5h1v1h-1zM77.6 278.8h1v1h-1zM127.5 249.2h1v1h-1zM95.1 279.6h1v1h-1zM110.9 264.4h1v1h-1zM110.3 278.5h1v1h-1zM104.2 270.5h1v1h-1zM110.9 269h1v1h-1zM75.6 290.1h1v1h-1zM143.5 250.5h1v1h-1zM81.1 287.7h1v1h-1zM92.8 266.5h1v1h-1zM123.1 263.5h1v1h-1zM103.2 271h1v1h-1zM89.2 275.4h1v1h-1zM78.9 273.7h1v1h-1zM118.2 263.1h1v1h-1zM70.5 292.7h1v1h-1zM108.6 266.5h1v1h-1zM109.3 270.1h1v1h-1zM86.8 266.5h1v1h-1zM148.4 243.8h1v1h-1zM140.1 252.5h1v1h-1zM91.4 284.6h1v1h-1zM90.7 284.8h1v1h-1zM187.9 223.7h1v1h-1zM93.6 278.1h1v1h-1zM79.8 279.9h1v1h-1zM112.4 281h1v1h-1zM81.9 285.7h1v1h-1zM86.8 283.1h1v1h-1zM91.3 278.1h1v1h-1zM110.5 263h1v1h-1zM82.8 278.2h1v1h-1zM154.4 246.9h1v1h-1zM99.1 274.8h1v1h-1zM111.7 250.8h1v1h-1zM82.4 281.4h1v1h-1zM118.2 252.4h1v1h-1zM121.1 279.9h1v1h-1zM110.2 271.3h1v1h-1zM134.9 249.8h1v1h-1zM59.1 289.6h1v1h-1zM143.3 253.4h1v1h-1zM105.4 270.7h1v1h-1zM109.9 259.5h1v1h-1zM108.8 274.9h1v1h-1zM69.2 289.6h1v1h-1zM113.9 259.8h1v1h-1zM134 246.8h1v1h-1zM113.7 280h1v1h-1zM127 270h1v1h-1zM60.7 303.4h1v1h-1zM76.8 283.9h1v1h-1zM82.3 280.5h1v1h-1zM115.9 267.7h1v1h-1zM110.2 254.6h1v1h-1zM173.9 229.5h1v1h-1zM82.7 273.6h1v1h-1zM148.6 245h1v1h-1zM163.4 236h1v1h-1zM103.5 274.2h1v1h-1zM62.4 289.1h1v1h-1zM88.1 287h1v1h-1zM107.2 289.3h1v1h-1zM60.1 298.8h1v1h-1zM83.7 282.8h1v1h-1zM86.9 277.1h1v1h-1zM122 271.1h1v1h-1zM120.6 256.5h1v1h-1zM82.3 294.5h1v1h-1zM130.7 265.2h1v1h-1zM105.8 272h1v1h-1zM114.8 281.1h1v1h-1zM154.5 248.8h1v1h-1zM75.8 283.5h1v1h-1zM95.5 273.9h1v1h-1zM72.8 275.2h1v1h-1zM64 298.1h1v1h-1zM119.7 265.8h1v1h-1zM178.1 224.6h1v1h-1zM97.1 273.5h1v1h-1zM132.7 261.2h1v1h-1zM90.6 277h1v1h-1zM76.5 297.4h1v1h-1zM98 267.5h1v1h-1zM95.2 263.3h1v1h-1zM89.3 290.8h1v1h-1zM114 271.4h1v1h-1zM103.1 287.7h1v1h-1zM99.5 280.2h1v1h-1zM141.8 250.9h1v1h-1zM134.8 252.8h1v1h-1zM121.7 262.4h1v1h-1zM117.6 276.5h1v1h-1zM92.1 267.6h1v1h-1zM102.5 266.5h1v1h-1zM101.7 277h1v1h-1zM120.9 253h1v1h-1zM102.4 281.1h1v1h-1zM112 275.8h1v1h-1zM81.5 280.9h1v1h-1zM67.3 282.3h1v1h-1zM177.9 220h1v1h-1zM67.9 300h1v1h-1zM144.1 251.5h1v1h-1zM94.3 270.3h1v1h-1zM117 277.9h1v1h-1zM96.5 263.4h1v1h-1zM127.2 258.1h1v1h-1zM112.8 269.9h1v1h-1zM69.5 305.8h1v1h-1zM166.3 233h1v1h-1zM108.6 265.7h1v1h-1zM118.2 253.5h1v1h-1zM77.4 290.8h1v1h-1zM68.8 291.3h1v1h-1zM97.7 269.9h1v1h-1zM106.2 279.7h1v1h-1zM100.4 290.3h1v1h-1zM116.6 270.8h1v1h-1zM83.4 296.8h1v1h-1zM118.7 257.3h1v1h-1zM80 277.2h1v1h-1zM167.5 228.2h1v1h-1zM102.8 260.2h1v1h-1zM105.6 262.5h1v1h-1zM93.9 272.1h1v1h-1zM107.5 263.6h1v1h-1zM120 269.6h1v1h-1zM90.3 271.6h1v1h-1zM116.9 261.6h1v1h-1zM118.9 269.9h1v1h-1zM68.2 283.8h1v1h-1zM105.6 272.7h1v1h-1zM89.9 277.7h1v1h-1zM118.3 274h1v1h-1zM120.3 259.2h1v1h-1zM101.9 280.3h1v1h-1zM120.4 268.2h1v1h-1zM75.3 278.4h1v1h-1zM129.1 267.3h1v1h-1zM141.6 246h1v1h-1zM95.8 265.7h1v1h-1zM106.6 267.9h1v1h-1zM80.3 290.5h1v1h-1zM130.7 261.7h1v1h-1zM161.8 245.1h1v1h-1zM144.3 250.2h1v1h-1zM102.7 249.6h1v1h-1zM77.7 275.9h1v1h-1zM92.2 278.4h1v1h-1zM76.1 286.6h1v1h-1zM115.1 257.5h1v1h-1zM145.4 244.8h1v1h-1zM148.4 246.6h1v1h-1zM68.8 288.2h1v1h-1zM123.9 244.8h1v1h-1zM104.7 279.2h1v1h-1zM81.4 283.8h1v1h-1zM140.3 253.2h1v1h-1zM65.8 284.8h1v1h-1zM93.2 276.7h1v1h-1zM117.3 274.9h1v1h-1zM80.5 288.5h1v1h-1zM143.8 257.4h1v1h-1zM164.4 234.5h1v1h-1zM106.2 251.8h1v1h-1zM123.3 257.8h1v1h-1zM116.3 251.8h1v1h-1zM101.5 283.6h1v1h-1zM70.7 309.2h1v1h-1zM85.4 292.4h1v1h-1zM113.2 256.8h1v1h-1zM106.1 269.9h1v1h-1zM108.1 271.2h1v1h-1zM85.4 283.4h1v1h-1zM114.9 252.1h1v1h-1zM105.1 287.4h1v1h-1zM120.8 266.8h1v1h-1zM93 291.9h1v1h-1zM149.8 247.7h1v1h-1zM107.1 283.4h1v1h-1zM90.9 273.1h1v1h-1zM115.5 279.1h1v1h-1zM146.2 254.6h1v1h-1zM102.9 280h1v1h-1zM92.9 272h1v1h-1zM97 261.9h1v1h-1zM86.3 285.5h1v1h-1zM62.8 297h1v1h-1zM136.2 252.5h1v1h-1zM88.3 257.8h1v1h-1zM149.4 248.1h1v1h-1zM92.9 285.5h1v1h-1zM128.5 263.5h1v1h-1zM190.9 217.1h1v1h-1zM66.5 285.1h1v1h-1zM123.6 266h1v1h-1zM76.4 282.7h1v1h-1zM105.5 279.9h1v1h-1zM119.4 256.6h1v1h-1zM66.1 298.7h1v1h-1zM70.3 272.1h1v1h-1zM126.7 270.4h1v1h-1zM133.5 264.6h1v1h-1zM73.7 299.2h1v1h-1zM138.6 242h1v1h-1zM160.6 236.9h1v1h-1zM94 289.3h1v1h-1zM143 254.9h1v1h-1zM104.3 268.4h1v1h-1zM163.5 229.9h1v1h-1zM95.3 247.3h1v1h-1zM97.7 271.5h1v1h-1zM93.8 267.7h1v1h-1zM132.8 259.5h1v1h-1zM100.8 291.6h1v1h-1zM93.9 295.8h1v1h-1zM124 262.4h1v1h-1zM133.8 251.4h1v1h-1zM95.4 283.6h1v1h-1zM114.9 274.2h1v1h-1zM109.2 278.8h1v1h-1zM114.5 262.8h1v1h-1zM105.6 266.5h1v1h-1zM144.7 253h1v1h-1zM78.9 278.5h1v1h-1zM103 276.6h1v1h-1zM130.7 251.7h1v1h-1zM62.1 290.3h1v1h-1zM105.3 270.7h1v1h-1zM147.3 247.6h1v1h-1zM115.2 265.6h1v1h-1zM124.8 247.8h1v1h-1zM92.6 287.8h1v1h-1zM139.4 249.8h1v1h-1zM115.3 275.8h1v1h-1zM141.6 247.5h1v1h-1zM112.3 272.1h1v1h-1zM162.8 239.4h1v1h-1zM84.1 296.9h1v1h-1zM107.7 280.3h1v1h-1zM105.7 277.2h1v1h-1zM87.2 269.4h1v1h-1zM96.2 286.1h1v1h-1zM113.2 274.9h1v1h-1zM65.8 299.1h1v1h-1zM129.1 268.8h1v1h-1zM74.2 294.5h1v1h-1zM148.9 252.9h1v1h-1zM149.1 248.9h1v1h-1zM120.3 254.8h1v1h-1zM112 267.6h1v1h-1zM87 287.4h1v1h-1zM101.4 260.3h1v1h-1zM68.8 297.3h1v1h-1zM64.6 303.9h1v1h-1zM151.7 243.2h1v1h-1zM132.2 263.6h1v1h-1zM123 267.7h1v1h-1zM72.7 293.9h1v1h-1zM119.5 270.5h1v1h-1zM94.9 276.4h1v1h-1zM119 265.4h1v1h-1zM58.9 302.1h1v1h-1zM99.1 276.2h1v1h-1zM95 284.9h1v1h-1zM137.1 256.7h1v1h-1zM102.6 284.1h1v1h-1zM86 280.9h1v1h-1zM70.5 291.7h1v1h-1zM134.8 258.5h1v1h-1zM94.5 270.9h1v1h-1zM103.1 289h1v1h-1zM107.9 270.3h1v1h-1zM120.4 261.6h1v1h-1zM128.7 255.5h1v1h-1zM107.1 270.5h1v1h-1zM113.7 261.1h1v1h-1zM80 296.7h1v1h-1zM78.2 276.2h1v1h-1zM129.2 260.7h1v1h-1zM82.9 277.6h1v1h-1zM96.6 262.2h1v1h-1zM139.2 263.8h1v1h-1zM76.1 269h1v1h-1zM114.6 278.8h1v1h-1zM130.1 246.2h1v1h-1zM124.9 253.4h1v1h-1zM103.2 284.2h1v1h-1zM105.1 273.1h1v1h-1zM77.3 281.2h1v1h-1zM73 287.9h1v1h-1zM65.2 292.4h1v1h-1zM148.3 254.1h1v1h-1zM77.9 282h1v1h-1zM97.6 285.8h1v1h-1zM112.2 286.2h1v1h-1zM87.2 283.4h1v1h-1zM129.4 256.3h1v1h-1zM122.6 259.6h1v1h-1zM108.2 267h1v1h-1zM107.6 265.1h1v1h-1zM160.8 230.4h1v1h-1zM82.8 284.2h1v1h-1zM105.9 276.2h1v1h-1zM120.4 263.8h1v1h-1zM131.7 257.2h1v1h-1zM117.5 262.5h1v1h-1zM113.5 271.7h1v1h-1zM163.8 233h1v1h-1zM80.6 281h1v1h-1zM123.1 270.8h1v1h-1zM97.4 290.8h1v1h-1zM76.2 274.7h1v1h-1zM124.5 263.2h1v1h-1zM80.8 283.5h1v1h-1zM136.4 253h1v1h-1zM127.9 265.3h1v1h-1zM122.2 265.8h1v1h-1zM111.2 267.6h1v1h-1zM87.4 282.8h1v1h-1zM79.5 281.1h1v1h-1zM118.1 280.1h1v1h-1zM180 223h1v1h-1zM95.4 273.8h1v1h-1zM74.5 293.9h1v1h-1zM59.5 298.3h1v1h-1zM110.7 268.9h1v1h-1zM158.6 239.6h1v1h-1zM65.7 292.2h1v1h-1zM138.6 248.7h1v1h-1zM96.6 273.2h1v1h-1zM121.5 257.5h1v1h-1zM125.5 258.8h1v1h-1zM73.1 287.8h1v1h-1zM70.1 288.3h1v1h-1zM111.5 261.2h1v1h-1zM104.9 284.5h1v1h-1zM77.5 287.1h1v1h-1zM91.8 287.1h1v1h-1zM86.5 283.9h1v1h-1zM92.1 275.9h1v1h-1zM91.1 279.2h1v1h-1zM101 283.2h1v1h-1zM134 264.5h1v1h-1zM85.7 286.3h1v1h-1zM113.6 271.5h1v1h-1zM132.4 265.2h1v1h-1zM112.5 281.6h1v1h-1zM93.2 279.5h1v1h-1zM83.5 286.9h1v1h-1zM71.3 284h1v1h-1zM61.3 310.6h1v1h-1zM80.8 287.6h1v1h-1zM95.2 272.1h1v1h-1zM65.4 291.8h1v1h-1zM75.7 280.4h1v1h-1zM60.2 294.3h1v1h-1zM63.5 289.5h1v1h-1zM85.4 285.4h1v1h-1zM137.7 253.1h1v1h-1zM179.9 225.1h1v1h-1zM109 265h1v1h-1zM64.8 298.3h1v1h-1zM79.3 291.4h1v1h-1zM103.7 273.8h1v1h-1zM170.2 230h1v1h-1zM139.7 254.9h1v1h-1zM104.2 267.3h1v1h-1zM107.2 288.6h1v1h-1zM87.1 284.2h1v1h-1zM76.7 295.1h1v1h-1zM81.6 272.9h1v1h-1zM87.2 270h1v1h-1zM89.6 276.7h1v1h-1zM76.6 294.6h1v1h-1zM80.1 273.4h1v1h-1zM105.6 270.5h1v1h-1zM89 286.4h1v1h-1zM84.7 282.9h1v1h-1zM104.1 267.4h1v1h-1zM134.6 242.5h1v1h-1zM66.1 298.4h1v1h-1zM96.4 262.6h1v1h-1zM178.7 223.6h1v1h-1zM76.1 300.3h1v1h-1zM102.3 278.7h1v1h-1zM93.1 283.4h1v1h-1zM81.4 284.1h1v1h-1zM117.3 262.7h1v1h-1zM110.9 258.1h1v1h-1zM95.6 266.9h1v1h-1zM102.9 279.5h1v1h-1zM72.1 305.4h1v1h-1zM141.2 249.2h1v1h-1zM122.9 252.4h1v1h-1zM97.6 271.3h1v1h-1zM125.5 263.7h1v1h-1zM129.9 259.9h1v1h-1zM83.5 277.3h1v1h-1zM132.3 261.7h1v1h-1zM119.1 273.7h1v1h-1zM148.3 252.7h1v1h-1zM77.8 269.2h1v1h-1zM123.9 262.7h1v1h-1zM93.4 287.8h1v1h-1zM138.9 252.9h1v1h-1zM114.8 268.3h1v1h-1zM85.8 292.1h1v1h-1zM85.7 277.8h1v1h-1zM152.1 243.5h1v1h-1zM116.6 274.5h1v1h-1zM64.1 294.7h1v1h-1zM82.6 294.6h1v1h-1zM104.4 274.2h1v1h-1zM79.8 291.6h1v1h-1zM67.5 289.6h1v1h-1zM83.8 259.1h1v1h-1zM64.8 298.8h1v1h-1zM130.3 258.9h1v1h-1zM116.3 275.7h1v1h-1zM99.3 273.2h1v1h-1zM136.3 262.9h1v1h-1zM80.2 303.3h1v1h-1zM55.9 300.2h1v1h-1zM128.3 267.1h1v1h-1zM111.1 272.5h1v1h-1zM90 281.2h1v1h-1zM109.1 272.7h1v1h-1zM109.2 257h1v1h-1zM132.9 256.7h1v1h-1zM69.3 288.6h1v1h-1zM86.5 274.1h1v1h-1zM110.5 272.5h1v1h-1zM117.3 269.4h1v1h-1zM110.2 274.7h1v1h-1zM116 278.7h1v1h-1zM120.1 249.2h1v1h-1zM168.3 234h1v1h-1zM115 274.1h1v1h-1zM74.3 291.3h1v1h-1zM79.1 288.7h1v1h-1zM146.1 252.6h1v1h-1zM108 265.3h1v1h-1zM61.3 292.8h1v1h-1zM107.3 270.6h1v1h-1zM154.6 238.3h1v1h-1zM116.2 275.8h1v1h-1zM87.8 275.7h1v1h-1zM125.5 257.4h1v1h-1zM90.8 290.3h1v1h-1zM106.4 278.2h1v1h-1zM121.7 276.2h1v1h-1zM116.5 260.2h1v1h-1zM73.4 291.5h1v1h-1zM95.5 296.2h1v1h-1zM107.3 258.8h1v1h-1zM69.5 281.3h1v1h-1zM79.1 277.8h1v1h-1zM116.8 249.3h1v1h-1zM72.5 287.9h1v1h-1zM71 290.2h1v1h-1zM66.1 297.4h1v1h-1zM124.9 263.4h1v1h-1zM89.2 277.1h1v1h-1zM86.2 274.5h1v1h-1zM109.9 256.1h1v1h-1zM168 231.6h1v1h-1zM83.7 289.9h1v1h-1zM80.3 289.2h1v1h-1zM92.7 295.9h1v1h-1zM62.5 299.8h1v1h-1zM88.3 269.9h1v1h-1zM90.5 265.3h1v1h-1zM122.9 265.7h1v1h-1zM115.1 272.5h1v1h-1zM96 268.2h1v1h-1zM59.8 294.7h1v1h-1zM60.4 292h1v1h-1zM128.9 256.1h1v1h-1zM116.8 279.9h1v1h-1zM114 260.4h1v1h-1zM130.9 259.9h1v1h-1zM104.5 261.9h1v1h-1zM90.9 282.6h1v1h-1zM72.5 276.3h1v1h-1zM93.4 276.7h1v1h-1zM79.5 283.2h1v1h-1zM145.6 252.8h1v1h-1zM122.4 256h1v1h-1zM85 275.3h1v1h-1zM104.6 270.3h1v1h-1zM109.4 257.3h1v1h-1zM153.4 245.6h1v1h-1zM102.2 278.3h1v1h-1zM154.4 243h1v1h-1zM80.7 286.1h1v1h-1zM114.3 270.3h1v1h-1zM69.3 284.7h1v1h-1zM104.9 269.5h1v1h-1zM158.6 235.3h1v1h-1zM117.9 262.9h1v1h-1zM61.9 287.6h1v1h-1zM103.7 277.8h1v1h-1zM150.4 246.7h1v1h-1zM108.6 279.3h1v1h-1zM80.5 263h1v1h-1zM97.6 279h1v1h-1zM123.5 264.2h1v1h-1zM94.5 275.5h1v1h-1zM94.2 281.6h1v1h-1zM71.2 297.5h1v1h-1zM69.6 296.7h1v1h-1zM74 287h1v1h-1zM76.5 301.1h1v1h-1zM122.4 273.9h1v1h-1zM112.7 270.3h1v1h-1zM130.2 260.8h1v1h-1zM74.9 287.5h1v1h-1zM97.8 268.1h1v1h-1zM106.8 273.5h1v1h-1zM110.9 266.7h1v1h-1zM91.2 259.7h1v1h-1zM127.8 267.5h1v1h-1zM125.6 262.4h1v1h-1zM106.9 274.2h1v1h-1zM83.8 283.8h1v1h-1zM122.5 259.2h1v1h-1zM73.5 303.9h1v1h-1zM86.3 290h1v1h-1zM100.8 288.7h1v1h-1zM112 263.5h1v1h-1zM89.3 280.5h1v1h-1zM169.2 232.6h1v1h-1zM193 215.6h1v1h-1zM120.7 257.1h1v1h-1zM86.1 291.8h1v1h-1zM127.7 255.1h1v1h-1zM138.6 260.4h1v1h-1zM95.4 301h1v1h-1zM91 293.9h1v1h-1zM156.1 238.6h1v1h-1zM106.6 271.8h1v1h-1zM99.2 274.9h1v1h-1zM113.3 273.1h1v1h-1zM96.6 276.1h1v1h-1zM107.4 258h1v1h-1zM77.8 278h1v1h-1zM93.8 286.3h1v1h-1zM75.7 285.3h1v1h-1zM157.5 238.1h1v1h-1zM116.2 266.4h1v1h-1zM92.9 261.6h1v1h-1zM183.8 224.5h1v1h-1zM72.5 283.2h1v1h-1zM91.5 279.5h1v1h-1zM138.3 240.9h1v1h-1zM77.9 265.8h1v1h-1zM69.1 293.6h1v1h-1zM135.7 247.4h1v1h-1zM69.5 290.8h1v1h-1zM71.5 293h1v1h-1zM117.8 263.7h1v1h-1zM79.5 291.3h1v1h-1zM95.2 267.2h1v1h-1zM79.9 269.5h1v1h-1zM112.9 256.3h1v1h-1zM71.9 298.5h1v1h-1zM85.2 272.2h1v1h-1zM115.4 269.4h1v1h-1zM85.8 295.9h1v1h-1zM75.2 291.4h1v1h-1zM92.6 274.6h1v1h-1zM144.8 244.8h1v1h-1zM69.8 283.2h1v1h-1zM102.6 275.2h1v1h-1zM64.7 290.1h1v1h-1zM83.9 280.4h1v1h-1zM146.3 251.4h1v1h-1zM122 271.9h1v1h-1zM115.2 270.3h1v1h-1zM144.2 251.2h1v1h-1zM133 260h1v1h-1zM97.4 264.8h1v1h-1zM196.4 217.5h1v1h-1zM139.3 258.2h1v1h-1zM98 276h1v1h-1zM80.1 280.9h1v1h-1zM115.5 256.1h1v1h-1zM123.9 262.9h1v1h-1zM84.3 264.5h1v1h-1zM114.2 273.3h1v1h-1zM90.7 284.9h1v1h-1zM128.4 250.8h1v1h-1zM100.5 274.2h1v1h-1zM80.7 288.6h1v1h-1zM86.1 278h1v1h-1zM68.4 295.8h1v1h-1zM90.7 288.1h1v1h-1zM98.7 275.5h1v1h-1zM114.5 266.2h1v1h-1zM147.7 250.5h1v1h-1zM128.5 265.5h1v1h-1zM79.7 278.8h1v1h-1zM109 266.6h1v1h-1zM64.8 286.3h1v1h-1zM66.3 292.5h1v1h-1zM75.7 285.1h1v1h-1zM136.6 257.8h1v1h-1zM115.3 268.5h1v1h-1zM73.6 282.4h1v1h-1zM86.7 283.4h1v1h-1zM101.4 269.3h1v1h-1zM157.7 238.1h1v1h-1zM69.7 287.8h1v1h-1zM108.6 264.1h1v1h-1zM75.4 266h1v1h-1zM117.7 267.4h1v1h-1zM99.7 275.9h1v1h-1zM97.7 266.4h1v1h-1zM105.4 268.5h1v1h-1zM61.5 291.8h1v1h-1zM66.6 292.7h1v1h-1zM140.1 252.9h1v1h-1zM112 270.5h1v1h-1zM87.8 283h1v1h-1zM115.8 258.2h1v1h-1zM74.7 282.9h1v1h-1zM126.8 260.1h1v1h-1zM86.3 299.7h1v1h-1zM102.9 288.4h1v1h-1zM84.1 277.1h1v1h-1zM138.8 257h1v1h-1zM124.1 267.5h1v1h-1zM125.1 256.1h1v1h-1zM116.6 274h1v1h-1zM84.4 265.9h1v1h-1zM115.5 259.5h1v1h-1zM93.8 278.8h1v1h-1zM146.1 251.6h1v1h-1zM118.6 263.1h1v1h-1zM87.8 264.6h1v1h-1zM137.3 255.6h1v1h-1zM124.1 267.5h1v1h-1zM80.1 284.1h1v1h-1zM79.6 279.2h1v1h-1zM60.3 298.1h1v1h-1zM124.8 262.9h1v1h-1zM121.4 254.8h1v1h-1zM87.1 288.4h1v1h-1zM86.2 284.7h1v1h-1zM65.2 282.8h1v1h-1zM104.8 280.9h1v1h-1zM73.4 268.8h1v1h-1zM160.5 238.6h1v1h-1zM88.1 265.3h1v1h-1zM77.2 283.4h1v1h-1zM141.6 245.3h1v1h-1zM72.2 268.6h1v1h-1zM67.9 285.1h1v1h-1zM120 267h1v1h-1zM98.6 279.8h1v1h-1zM127.6 260.7h1v1h-1zM116.8 284.6h1v1h-1zM167.9 232.7h1v1h-1zM150.3 242.3h1v1h-1zM119.9 278.9h1v1h-1zM125.8 259.7h1v1h-1zM98.6 272.8h1v1h-1zM117.3 249.7h1v1h-1zM97.2 277.7h1v1h-1zM115.3 252.8h1v1h-1zM92.3 275.3h1v1h-1zM104.7 263.8h1v1h-1zM106.2 269.5h1v1h-1zM81.2 280.7h1v1h-1zM115.7 255.4h1v1h-1zM83.4 271.1h1v1h-1zM62.9 296.2h1v1h-1zM109.6 265.4h1v1h-1zM78.1 282.2h1v1h-1zM99 275.7h1v1h-1zM68.7 266.1h1v1h-1zM96.4 271.6h1v1h-1zM75 274.1h1v1h-1zM93.8 276.8h1v1h-1zM79.2 302.2h1v1h-1zM85.8 298.9h1v1h-1zM103.9 284.3h1v1h-1zM67.1 283.7h1v1h-1zM94.3 275.5h1v1h-1zM175.5 223.3h1v1h-1zM151.8 243.7h1v1h-1zM85.1 267.3h1v1h-1zM118.1 263.3h1v1h-1zM65.8 304h1v1h-1zM64.2 292.2h1v1h-1zM57.1 297.5h1v1h-1zM85.8 276.2h1v1h-1zM124.8 271.6h1v1h-1zM67.2 309.9h1v1h-1zM139.3 251.5h1v1h-1zM99.2 253.9h1v1h-1zM89.3 278.4h1v1h-1zM116.3 276.7h1v1h-1zM86 268.8h1v1h-1zM110.3 267.6h1v1h-1zM87.9 268.8h1v1h-1zM130.4 261.6h1v1h-1zM123.6 254.4h1v1h-1zM122.2 261.3h1v1h-1zM113.7 255.1h1v1h-1zM117.8 262.1h1v1h-1zM77.6 290.6h1v1h-1zM102.2 285.2h1v1h-1zM106.2 278.3h1v1h-1zM76.3 296.5h1v1h-1zM142.7 261.5h1v1h-1zM108.4 265.4h1v1h-1zM88.2 287h1v1h-1zM132.7 268.1h1v1h-1zM97.4 286.4h1v1h-1zM122.1 280.4h1v1h-1zM124.9 272.8h1v1h-1zM78.9 296.5h1v1h-1zM91.1 284.7h1v1h-1zM124.6 266.4h1v1h-1zM82.2 286.8h1v1h-1zM124 271.1h1v1h-1zM120.5 276.5h1v1h-1zM124.9 270.6h1v1h-1zM89.7 287.5h1v1h-1zM90.7 286.9h1v1h-1zM121.7 279.7h1v1h-1zM118.7 277.3h1v1h-1zM92.3 284h1v1h-1zM110.4 274.4h1v1h-1zM87.6 286.3h1v1h-1zM75.4 286.7h1v1h-1zM130.4 269.9h1v1h-1zM72.7 292.2h1v1h-1zM87.2 287.2h1v1h-1zM128.2 270.5h1v1h-1zM90.3 286.9h1v1h-1zM104.6 278.7h1v1h-1zM117.7 270.5h1v1h-1zM102.8 281.1h1v1h-1zM91.2 282.6h1v1h-1zM138.5 257.2h1v1h-1zM96.6 282.8h1v1h-1zM83.5 294.3h1v1h-1zM102 291.1h1v1h-1zM103.9 283.7h1v1h-1zM130.5 269.2h1v1h-1zM137.5 262.2h1v1h-1zM112.4 275h1v1h-1zM131.1 261.4h1v1h-1zM75.8 292.8h1v1h-1zM133.5 265.7h1v1h-1zM123.5 270.1h1v1h-1zM77 286h1v1h-1zM94 286.2h1v1h-1zM137.2 266.3h1v1h-1zM79.6 275.7h1v1h-1zM87.4 284.4h1v1h-1zM124.9 270.9h1v1h-1zM71.9 290h1v1h-1zM96.2 290.4h1v1h-1zM114.6 274.8h1v1h-1zM116.5 280.1h1v1h-1zM80.5 285.9h1v1h-1zM81.4 291.5h1v1h-1zM128.2 268.4h1v1h-1zM108.4 269.5h1v1h-1zM96.9 280.4h1v1h-1zM117.1 268.2h1v1h-1zM141.5 257.8h1v1h-1zM89.2 287.8h1v1h-1zM91.8 285.4h1v1h-1zM126 271.7h1v1h-1zM114.7 277.6h1v1h-1zM96.5 282.1h1v1h-1zM110.3 280.3h1v1h-1zM114.2 277.2h1v1h-1zM123.2 276h1v1h-1zM103.2 284.7h1v1h-1zM72.4 293.5h1v1h-1zM131.5 268.5h1v1h-1zM76.2 287h1v1h-1zM99.5 287.5h1v1h-1zM124.4 273.7h1v1h-1zM78.1 291h1v1h-1zM123 268.8h1v1h-1zM138.9 262h1v1h-1zM116 272h1v1h-1zM136.2 266.8h1v1h-1zM119 277.2h1v1h-1zM76.3 292.9h1v1h-1zM113.5 270.7h1v1h-1zM123.4 266.1h1v1h-1zM107.6 282h1v1h-1zM120.8 269h1v1h-1zM105 281.5h1v1h-1zM134.4 266.7h1v1h-1zM79.5 291.1h1v1h-1zM83.3 294h1v1h-1zM101 276h1v1h-1zM109.3 286.1h1v1h-1zM80 298.5h1v1h-1zM82.7 299.6h1v1h-1zM147.6 257.8h1v1h-1zM105.9 276h1v1h-1zM98.9 282.2h1v1h-1zM144.8 252.3h1v1h-1zM93.7 281.4h1v1h-1zM119 281.3h1v1h-1zM112.8 270h1v1h-1zM73.1 284.5h1v1h-1zM88.1 289.3h1v1h-1zM83.1 289.4h1v1h-1zM111.2 274.3h1v1h-1zM72.7 294h1v1h-1zM143.9 254.8h1v1h-1zM86.3 287.1h1v1h-1zM136.4 262.9h1v1h-1zM98.6 281.1h1v1h-1zM119.8 275h1v1h-1zM93.7 280.7h1v1h-1zM95.2 287.5h1v1h-1zM137.7 263.4h1v1h-1zM103 277h1v1h-1zM76.5 293h1v1h-1zM97.2 286.5h1v1h-1zM109.9 277.9h1v1h-1zM143.5 260h1v1h-1zM123.2 266.5h1v1h-1zM103.8 279.1h1v1h-1zM102.5 285.4h1v1h-1zM74.2 286.2h1v1h-1zM79.3 294.5h1v1h-1zM77.3 284.4h1v1h-1zM75.5 291.2h1v1h-1zM146.6 258.4h1v1h-1zM69.8 294h1v1h-1zM121.8 280.8h1v1h-1zM122 270.6h1v1h-1zM142.7 260.7h1v1h-1zM88.3 288.1h1v1h-1zM125.2 271.3h1v1h-1zM117.3 277.7h1v1h-1zM140.9 261.3h1v1h-1zM147 253h1v1h-1zM70.6 295.2h1v1h-1zM100.1 287.1h1v1h-1zM95.2 284.9h1v1h-1zM76.4 295.7h1v1h-1zM113.2 276.2h1v1h-1zM110.1 279.6h1v1h-1zM68.9 291.3h1v1h-1zM76.6 286.7h1v1h-1zM102.4 287h1v1h-1zM69.2 290.3h1v1h-1zM90 287h1v1h-1zM125.6 274.8h1v1h-1zM128.1 267.8h1v1h-1zM85.9 295h1v1h-1zM93.7 279.3h1v1h-1zM115.6 272h1v1h-1zM107.9 281.1h1v1h-1zM134.7 257.5h1v1h-1zM120.3 278.8h1v1h-1zM100 289.2h1v1h-1zM118.1 276.5h1v1h-1zM90 290.1h1v1h-1zM133 261.5h1v1h-1zM147.6 255.8h1v1h-1zM110.6 274.5h1v1h-1zM115.1 281.3h1v1h-1zM116.2 265.7h1v1h-1zM125.6 272.3h1v1h-1zM117.5 276.7h1v1h-1zM91.9 285.9h1v1h-1zM119.1 274.4h1v1h-1zM109.7 285.5h1v1h-1zM123.5 278.2h1v1h-1zM126.7 267.2h1v1h-1zM77.1 289.7h1v1h-1zM141.5 258.6h1v1h-1zM107.4 283.7h1v1h-1zM137.3 262.4h1v1h-1zM85 283.5h1v1h-1zM69.9 285.2h1v1h-1zM109.2 280.4h1v1h-1zM147 255.9h1v1h-1zM105.6 283.5h1v1h-1zM69.9 290.1h1v1h-1zM74.4 287.5h1v1h-1zM134.7 264.9h1v1h-1zM121.2 274.2h1v1h-1zM112.3 278.8h1v1h-1zM136.1 263.7h1v1h-1zM116.3 270.9h1v1h-1zM89.1 281.1h1v1h-1zM135 266.9h1v1h-1zM76.3 294.1h1v1h-1zM131.9 265.9h1v1h-1zM129.9 266.4h1v1h-1zM137.3 262h1v1h-1zM78.1 291h1v1h-1zM93.9 287.6h1v1h-1zM133.2 265.7h1v1h-1zM135.7 266h1v1h-1zM146.1 259.2h1v1h-1zM106.3 274.8h1v1h-1zM111.4 279.7h1v1h-1zM137.6 264.6h1v1h-1zM77 294.1h1v1h-1zM96.5 286.4h1v1h-1zM101.5 285.7h1v1h-1zM133.2 262.8h1v1h-1zM80.7 291.2h1v1h-1zM119.4 271.6h1v1h-1zM124.1 272.4h1v1h-1zM85.9 286h1v1h-1zM120 270.6h1v1h-1zM98.4 290h1v1h-1zM90.4 290h1v1h-1zM103.7 281.8h1v1h-1zM96.7 277.9h1v1h-1zM138.8 263.9h1v1h-1zM98.6 283.4h1v1h-1zM142.7 260.9h1v1h-1zM141.3 257.7h1v1h-1zM114.7 276.1h1v1h-1zM94.8 286.2h1v1h-1zM144.7 259.9h1v1h-1zM90.8 287.6h1v1h-1zM94.9 283.5h1v1h-1zM117.9 274.9h1v1h-1zM128.3 271.6h1v1h-1z" fill="#000" fill-opacity="0.85"/>
<path d="M143.3 80h2v2h-2zM135.7 57.4h2v2h-2zM128.2 79h2v2h-2zM143.3 64.4h2v2h-2zM138.1 81.6h2v2h-2zM137.2 74.4h2v2h-2zM147.7 60.2h2v2h-2zM133.5 75.9h2v2h-2zM143.8 77.4h2v2h-2zM138.1 77.5h2v2h-2zM139.2 55.1h2v2h-2zM135.6 85.8h2v2h-2zM124.2 67.5h2v2h-2zM144.7 59.5h2v2h-2zM123.2 61.1h2v2h-2zM137.3 57h2v2h-2zM151.2 70h2v2h-2zM133.6 82.1h2v2h-2zM147.2 62.4h2v2h-2zM118.1 66h2v2h-2zM141.5 85.7h2v2h-2zM128.1 87.8h2v2h-2zM140 75.4h2v2h-2zM137.7 67.3h2v2h-2zM120.4 66h2v2h-2zM140.3 69h2v2h-2zM134.4 70.3h2v2h-2zM135.2 72.7h2v2h-2zM129.7 73.3h2v2h-2zM150 64.9h2v2h-2zM122.9 64.2h2v2h-2zM134.6 72.6h2v2h-2zM122.5 60.9h2v2h-2zM127.5 69h2v2h-2zM126.4 62.1h2v2h-2zM140.7 82.7h2v2h-2zM144 81h2v2h-2zM149.7 72.9h2v2h-2zM137.6 71h2v2h-2zM150.1 72.3h2v2h-2zM136.6 81.8h2v2h-2zM126.7 66.2h2v2h-2zM128.9 72h2v2h-2zM146.4 65.6h2v2h-2zM140.8 87.5h2v2h-2zM141.7 79.1h2v2h-2zM118.4 72.2h2v2h-2zM133 86.4h2v2h-2zM130.9 73.7h2v2h-2zM136.1 69.9h2v2h-2zM128.8 88.1h2v2h-2zM132.1 64.1h2v2h-2zM143.5 72.8h2v2h-2zM121.5 67.6h2v2h-2zM151 63.2h2v2h-2zM154.3 64.8h2v2h-2zM124.3 66.1h2v2h-2zM148.1 70.9h2v2h-2zM138 82.7h2v2h-2zM134.3 80.2h2v2h-2zM121.9 76.9h2v2h-2zM117.6 71h2v2h-2zM139.5 67h2v2h-2zM125.2 75.8h2v2h-2zM148.3 75.4h2v2h-2zM135.2 66.9h2v2h-2zM139.6 86.4h2v2h-2zM151.7 59.3h2v2h-2zM139.5 81.7h2v2h-2zM132.2 87.5h2v2h-2zM133.6 81.4h2v2h-2zM121.6 61.2h2v2h-2zM135.1 88.3h2v2h-2zM129.5 67.7h2v2h-2zM136 62h2v2h-2zM141.9 75.8h2v2h-2zM120.2 80.2h2v2h-2zM142.9 72.6h2v2h-2zM126.7 81.8h2v2h-2zM134.9 80.5h2v2h-2zM149.4 60.3h2v2h-2zM125.2 57.3h2v2h-2zM135.3 55.9h2v2h-2zM131.5 75h2v2h-2zM124.8 71.9h2v2h-2zM137.3 86.4h2v2h-2zM136.7 90.1h2v2h-2zM148.5 75.8h2v2h-2zM144.2 67.4h2v2h-2zM147.5 73.8h2v2h-2zM143.5 79.2h2v2h-2zM135.7 64.6h2v2h-2zM125.7 74.9h2v2h-2zM127 71.3h2v2h-2zM133.1 85h2v2h-2zM142.9 54.3h2v2h-2zM142.7 77.3h2v2h-2zM132.7 85.7h2v2h-2zM137.2 56.4h2v2h-2zM134.7 79.1h2v2h-2zM150.9 67.8h2v2h-2zM141 79.6h2v2h-2zM125.1 70h2v2h-2zM125.9 69.4h2v2h-2zM118.9 71.9h2v2h-2zM138.5 62.9h2v2h-2zM122.3 67.9h2v2h-2zM139.8 61.4h2v2h-2zM126 68.9h2v2h-2zM126.4 76h2v2h-2zM123.3 80.9h2v2h-2zM123.4 68.9h2v2h-2zM124.9 60.6h2v2h-2zM141.5 74.4h2v2h-2zM128.9 81.8h2v2h-2zM127.9 83.8h2v2h-2zM141.4 66.8h2v2h-2zM126.2 78.5h2v2h-2zM128.9 73.5h2v2h-2zM131.3 70h2v2h-2zM124.2 73.9h2v2h-2zM130.6 75.9h2v2h-2zM139 82.2h2v2h-2zM134.7 69.4h2v2h-2zM133.2 82.3h2v2h-2zM133 87.1h2v2h-2zM130.6 80h2v2h-2zM134.8 79.7h2v2h-2zM129.2 76.9h2v2h-2zM127.9 71.1h2v2h-2zM130.5 79.7h2v2h-2zM134.5 78.9h2v2h-2zM131.7 80.7h2v2h-2zM133.4 89.8h2v2h-2zM119.9 80.6h2v2h-2zM136 79.1h2v2h-2zM141.7 84.8h2v2h-2zM136.7 70.3h2v2h-2zM128.4 71.3h2v2h-2zM125.8 75.1h2v2h-2zM131.4 73.7h2v2h-2zM125.1 80.5h2v2h-2zM133.6 75.4h2v2h-2zM324.1 84.6h2v2h-2zM302.1 91.7h2v2h-2zM287.4 90.8h2v2h-2zM284.2 91.1h2v2h-2zM323.4 83.7h2v2h-2zM307.1 102.2h2v2h-2zM301.5 97.5h2v2h-2zM300.5 74.5h2v2h-2zM297.1 94.3h2v2h-2zM321.5 80.7h2v2h-2zM307.2 114.6h2v2h-2zM325.9 88.7h2v2h-2zM306 89.5h2v2h-2zM284.5 95.2h2v2h-2zM316.4 91.8h2v2h-2zM304.3 93.5h2v2h-2zM305.6 112.8h2v2h-2zM323.7 96.9h2v2h-2zM305.4 104.2h2v2h-2zM319.6 107.7h2v2h-2zM308 82.5h2v2h-2zM300.5 114.5h2v2h-2zM313.1 102.5h2v2h-2zM302 105.7h2v2h-2zM320.3 83.8h2v2h-2zM317.6 104h2v2h-2zM308.6 99.2h2v2h-2zM314.1 87.8h2v2h-2zM305.2 101h2v2h-2zM317 91.3h2v2h-2zM305.7 96.5h2v2h-2zM314.2 105.1h2v2h-2zM298.5 107.8h2v2h-2zM309 101.2h2v2h-2zM312.2 108.8h2v2h-2zM300.1 111.9h2v2h-2zM303.9 79.4h2v2h-2zM302.7 88.4h2v2h-2zM315.3 83h2v2h-2zM300.8 95.4h2v2h-2zM312.4 111.6h2v2h-2zM323.3 102.1h2v2h-2zM311.6 81.7h2v2h-2zM291.9 90.7h2v2h-2zM309.3 106.6h2v2h-2zM318.5 87.9h2v2h-2zM305.2 93.1h2v2h-2zM319.2 97.9h2v2h-2zM314.2 72.4h2v2h-2zM312.3 103.6h2v2h-2zM305.5 98.3h2v2h-2zM303 101.1h2v2h-2zM305.5 82.5h2v2h-2zM308.7 85h2v2h-2zM313.3 87.1h2v2h-2zM312.3 97.2h2v2h-2zM305.1 95.1h2v2h-2zM308.8 95.8h2v2h-2zM312 115.7h2v2h-2zM291.9 109.9h2v2h-2zM300.4 85.6h2v2h-2zM308.2 90.6h2v2h-2zM322.4 78h2v2h-2zM310.2 84.4h2v2h-2zM320.4 76.5h2v2h-2zM321.7 86.2h2v2h-2zM308.9 83.6h2v2h-2zM310.5 84.4h2v2h-2zM312.6 91.3h2v2h-2zM306.9 85.9h2v2h-2zM306.3 91.2h2v2h-2zM309.7 86.9h2v2h-2zM317.2 75.9h2v2h-2zM309.4 84.7h2v2h-2zM310.9 86.1h2v2h-2zM309.3 74.4h2v2h-2zM303.9 91.1h2v2h-2zM321 83.5h2v2h-2zM298.1 85.3h2v2h-2zM308.2 77.7h2v2h-2zM315.5 83.6h2v2h-2zM303.7 84.9h2v2h-2zM315.7 81.2h2v2h-2zM334.4 80.9h2v2h-2zM334.7 85.5h2v2h-2zM332 92h2v2h-2zM333.5 102h2v2h-2zM332 110h2v2h-2zM334 115.5h2v2h-2zM346.5 78.7h2v2h-2zM347.7 88.3h2v2h-2zM362 74.8h2v2h-2zM380.3 87.2h2v2h-2zM377.8 93.9h2v2h-2zM386 95h2v2h-2zM367.4 110.3h2v2h-2zM366 117.6h2v2h-2zM349.9 116.5h2v2h-2zM349.9 121h2v2h-2zM351 123.8h2v2h-2zM339 127.9h2v2h-2zM344.4 136.7h2v2h-2zM353.1 132h2v2h-2zM354 138h2v2h-2zM336.7 136.7h2v2h-2zM347 146h2v2h-2zM352 141.8h2v2h-2zM429.4 159.8h2v2h-2zM529.6 86.4h2v2h-2zM550.6 100h2v2h-2zM541.7 89.8h2v2h-2zM541.8 79.9h2v2h-2zM552.8 83.5h2v2h-2zM539.6 83.3h2v2h-2zM543.5 86.1h2v2h-2zM540.3 83.6h2v2h-2zM547.3 82.1h2v2h-2zM543.2 97.1h2v2h-2zM542.1 87.5h2v2h-2zM538.7 85.2h2v2h-2zM541.9 85.7h2v2h-2zM547.2 85.9h2v2h-2zM527.7 95.6h2v2h-2zM539.4 90.1h2v2h-2zM537.7 93.9h2v2h-2zM538.4 68.5h2v2h-2zM528.3 89.2h2v2h-2zM544.6 93.6h2v2h-2zM535.1 99h2v2h-2zM538.8 87.4h2v2h-2zM537.2 76.9h2v2h-2zM530.2 90.7h2v2h-2zM537.5 83.6h2v2h-2zM529.1 76.5h2v2h-2zM534.5 83.5h2v2h-2zM538.3 93.5h2v2h-2zM540.2 94.4h2v2h-2zM540.5 91.5h2v2h-2zM547.9 52.9h2v2h-2zM537.6 62.2h2v2h-2zM545.8 67.5h2v2h-2zM567.2 68h2v2h-2zM532.2 71.6h2v2h-2zM532.2 73.3h2v2h-2zM544 72.9h2v2h-2zM550 72.2h2v2h-2zM517.2 75.5h2v2h-2zM524.7 75.5h2v2h-2zM533.3 75.9h2v2h-2zM526.9 78.7h2v2h-2zM552.2 76.5h2v2h-2zM538.7 80.8h2v2h-2zM545.1 79.7h2v2h-2zM548.3 77.6h2v2h-2zM534.4 83h2v2h-2zM533.3 84.5h2v2h-2zM535.5 84h2v2h-2zM540.8 85.1h2v2h-2zM543 86.2h2v2h-2zM550.5 84h2v2h-2zM553.7 84h2v2h-2zM561.2 85.1h2v2h-2zM515 90.9h2v2h-2zM522.6 90.9h2v2h-2zM533.3 90.5h2v2h-2zM537.6 90.5h2v2h-2zM537.6 93.7h2v2h-2zM546.2 89.4h2v2h-2zM550.5 88.8h2v2h-2zM555.8 87.9h2v2h-2zM559 87.9h2v2h-2zM525.8 94.3h2v2h-2zM536.5 96.9h2v2h-2zM545.1 95.8h2v2h-2zM548.8 95.8h2v2h-2zM552.6 95.2h2v2h-2zM555.8 94.3h2v2h-2zM551.5 92.2h2v2h-2zM561.2 93.7h2v2h-2zM535.5 100.1h2v2h-2zM547.3 100.1h2v2h-2zM550.5 101.2h2v2h-2zM555.4 101.2h2v2h-2zM563.3 99.1h2v2h-2zM520.4 104.4h2v2h-2zM528 103.3h2v2h-2zM537.6 103.3h2v2h-2zM545.1 104.8h2v2h-2zM548.3 103.3h2v2h-2zM551.5 104.4h2v2h-2zM531.2 106.6h2v2h-2zM540.8 108.7h2v2h-2zM551.5 108.1h2v2h-2zM563.3 114.5h2v2h-2zM622.7 24.7h2v2h-2zM652.3 19.7h2v2h-2zM584.2 48.2h2v2h-2zM607.7 47.5h2v2h-2zM610.3 46.2h2v2h-2zM612.7 46.2h2v2h-2zM621.7 46.5h2v2h-2zM611 50.2h2v2h-2zM603.6 55.2h2v2h-2zM593.6 60.3h2v2h-2zM592.6 65.3h2v2h-2zM566.7 67.7h2v2h-2zM586.9 92.1h2v2h-2zM618.7 98.5h2v2h-2zM560 125.7h2v2h-2zM596.9 133.7h2v2h-2zM556 87h2v2h-2zM559 90h2v2h-2zM555 97h2v2h-2zM560 96h2v2h-2zM536.6 127h2v2h-2zM522.3 150.6h2v2h-2zM516.5 135.5h2v2h-2zM188.2 253.3h2v2h-2zM163.2 255.6h2v2h-2zM148.8 263.5h2v2h-2zM186.2 253.3h2v2h-2zM153.7 267.6h2v2h-2zM165 263.4h2v2h-2zM186.7 237.6h2v2h-2zM156.5 256.6h2v2h-2zM180.2 257h2v2h-2zM176.5 242.5h2v2h-2zM196.8 247.9h2v2h-2zM163.3 251.3h2v2h-2zM161.4 258.7h2v2h-2zM173.1 256.3h2v2h-2zM159.8 258.7h2v2h-2zM165.5 259.4h2v2h-2zM174.9 249.4h2v2h-2zM180.7 250h2v2h-2zM178 244.6h2v2h-2zM175 247.5h2v2h-2zM149.6 262h2v2h-2zM177.7 251h2v2h-2zM155.4 262.8h2v2h-2zM186.7 247.4h2v2h-2zM188.6 243.2h2v2h-2zM157.6 259.3h2v2h-2zM193 243.9h2v2h-2zM175.6 251.9h2v2h-2zM180.5 250h2v2h-2zM181.1 252.8h2v2h-2zM181 259.5h2v2h-2zM149 261.4h2v2h-2zM172.2 250.2h2v2h-2zM196.3 248.2h2v2h-2zM182.4 239.5h2v2h-2zM168.9 261.1h2v2h-2zM194 240.5h2v2h-2zM189.5 245.2h2v2h-2zM165.5 254.5h2v2h-2zM185.1 242.5h2v2h-2zM155.3 256.1h2v2h-2zM150.7 263.5h2v2h-2zM171.1 259.5h2v2h-2zM186.5 253.5h2v2h-2zM178.4 249.4h2v2h-2zM166.8 250.9h2v2h-2zM182.4 249.1h2v2h-2zM179.6 248.1h2v2h-2zM192.2 242.4h2v2h-2zM181.9 253.1h2v2h-2zM175.7 247.7h2v2h-2zM157.6 258.4h2v2h-2zM194.7 247.9h2v2h-2zM170.7 259.5h2v2h-2zM173.2 245.8h2v2h-2zM195.7 242.8h2v2h-2zM171.2 254.8h2v2h-2zM176.9 250.6h2v2h-2zM170.9 248.4h2v2h-2zM186.1 247.1h2v2h-2zM174.2 243.5h2v2h-2zM151.4 264.7h2v2h-2zM146.7 269.8h2v2h-2zM190.1 246.7h2v2h-2zM183 253.5h2v2h-2zM150.4 265.6h2v2h-2zM186.1 241.7h2v2h-2zM172.9 249.4h2v2h-2zM181.1 248.3h2v2h-2zM193 249.3h2v2h-2zM161.5 263.5h2v2h-2zM144.2 265.1h2v2h-2zM177.4 250h2v2h-2zM161 261.4h2v2h-2zM180.4 252h2v2h-2zM174.8 243.5h2v2h-2zM175.6 246.3h2v2h-2zM184.6 247.9h2v2h-2zM151 262.2h2v2h-2zM169.2 252.6h2v2h-2zM151.5 261.9h2v2h-2zM172.3 261.8h2v2h-2zM161.3 267.4h2v2h-2zM198.2 251.5h2v2h-2zM189.6 257.4h2v2h-2zM183.4 248.6h2v2h-2zM187.4 245.5h2v2h-2zM158.3 264.4h2v2h-2zM169.5 252h2v2h-2zM173.7 250.1h2v2h-2zM144.7 267.2h2v2h-2zM159.9 266.9h2v2h-2zM183.1 241.5h2v2h-2zM191.1 248.5h2v2h-2zM168.8 254.5h2v2h-2zM151.1 267.6h2v2h-2zM187.6 249h2v2h-2zM168.2 265.2h2v2h-2zM155.9 262.8h2v2h-2zM155.7 269.6h2v2h-2zM182.1 247.4h2v2h-2zM165.1 264h2v2h-2zM172.3 250h2v2h-2zM164.8 266h2v2h-2zM191.3 245h2v2h-2zM168.7 252.2h2v2h-2zM167 255.2h2v2h-2zM194.3 249.7h2v2h-2zM185 248.5h2v2h-2zM195.5 245.1h2v2h-2zM182.1 248.7h2v2h-2zM180.9 241.4h2v2h-2zM157 263.8h2v2h-2zM167.8 259.3h2v2h-2zM149.7 264h2v2h-2zM165.2 254h2v2h-2zM175.9 262.8h2v2h-2zM153.9 265.3h2v2h-2zM153.7 268.7h2v2h-2zM170.2 258.2h2v2h-2zM179.9 253.6h2v2h-2zM179.4 247.4h2v2h-2zM165.7 256.5h2v2h-2zM153.1 264.1h2v2h-2zM197.1 250.3h2v2h-2zM169.8 251h2v2h-2zM168.3 255h2v2h-2zM145.1 270h2v2h-2zM181.7 249h2v2h-2zM182 245h2v2h-2zM182.1 256.8h2v2h-2zM170 262.8h2v2h-2zM169.2 260.2h2v2h-2zM186.6 251.8h2v2h-2zM196.3 257.8h2v2h-2zM174.8 255.4h2v2h-2zM173.6 246.5h2v2h-2zM186.7 249h2v2h-2zM158.8 253.7h2v2h-2zM159 274.9h2v2h-2zM181.5 249.8h2v2h-2zM171.8 245.8h2v2h-2zM187.1 249.7h2v2h-2zM182.8 253h2v2h-2zM142.5 265.9h2v2h-2zM171.7 260.2h2v2h-2zM179.8 251.8h2v2h-2zM192.7 253h2v2h-2zM179.1 249.7h2v2h-2zM155.9 260.9h2v2h-2zM193.6 243.4h2v2h-2zM188.4 250h2v2h-2zM165.3 256.9h2v2h-2zM167.2 262.6h2v2h-2zM182.1 248.9h2v2h-2zM176.5 252.5h2v2h-2zM156.3 258.3h2v2h-2zM166.3 250.8h2v2h-2zM197.8 252.2h2v2h-2zM165.7 254.4h2v2h-2zM150.9 269.9h2v2h-2zM178 254.6h2v2h-2zM175.2 247.6h2v2h-2zM183.1 247.3h2v2h-2zM137.1 287.3h2v2h-2zM124.8 300.1h2v2h-2zM126.2 281.8h2v2h-2zM134.3 294.1h2v2h-2zM126.7 302.6h2v2h-2zM134.6 291h2v2h-2zM135.2 274h2v2h-2zM132.6 278.3h2v2h-2zM132.2 287.5h2v2h-2zM133.8 284.3h2v2h-2zM130.8 281h2v2h-2zM137.3 287.4h2v2h-2zM137.2 286.4h2v2h-2zM129.1 293h2v2h-2zM142.5 286.8h2v2h-2zM128.3 289.6h2v2h-2zM149.5 343.6h2v2h-2zM162 343.6h2v2h-2zM173 343.6h2v2h-2zM178 343.6h2v2h-2zM194 343.6h2v2h-2zM395.5 269.5h2v2h-2zM388.4 273.5h2v2h-2zM411.5 250.8h2v2h-2zM383.8 269.6h2v2h-2zM396.6 274.7h2v2h-2zM387.6 268.9h2v2h-2zM412 267.9h2v2h-2zM401.5 266.8h2v2h-2zM416.9 257.3h2v2h-2zM406.8 264.4h2v2h-2zM406 268.9h2v2h-2zM380.9 277.6h2v2h-2zM375.8 280.2h2v2h-2zM406.3 257.1h2v2h-2zM413.8 266.1h2v2h-2zM413.4 253.2h2v2h-2zM420 257.7h2v2h-2zM414.7 259.2h2v2h-2zM402.7 267.7h2v2h-2zM409.5 264.4h2v2h-2zM395.3 273.7h2v2h-2zM421.1 255.6h2v2h-2zM420.6 262.5h2v2h-2zM411.6 264.5h2v2h-2zM387.9 268.5h2v2h-2zM402.4 257.5h2v2h-2zM408.3 265.8h2v2h-2zM413.5 262.9h2v2h-2zM406.6 267.5h2v2h-2zM411.9 261.1h2v2h-2zM410.6 260.2h2v2h-2zM406.9 265.2h2v2h-2zM382.6 272.6h2v2h-2zM409.9 265.8h2v2h-2zM398.6 275.7h2v2h-2zM414.1 258h2v2h-2zM383.3 280.4h2v2h-2zM402.4 248.8h2v2h-2zM392.5 272.5h2v2h-2zM400.3 260.6h2v2h-2zM420.6 267.7h2v2h-2zM411.7 256.8h2v2h-2zM415.6 265.9h2v2h-2zM414 255.5h2v2h-2zM378.3 266.5h2v2h-2zM409.5 266.7h2v2h-2zM411.3 266.8h2v2h-2zM409.2 258h2v2h-2zM389.6 280.9h2v2h-2zM396.1 264.8h2v2h-2zM408.2 271.7h2v2h-2zM390.8 262.5h2v2h-2zM401.6 259.5h2v2h-2zM398.9 266.5h2v2h-2zM382.3 266.6h2v2h-2zM380.4 273.8h2v2h-2zM387.1 257.7h2v2h-2zM400 266.5h2v2h-2zM417.6 256.9h2v2h-2zM410.8 256.5h2v2h-2zM392.3 268.6h2v2h-2zM412.6 260.3h2v2h-2zM412.9 258.8h2v2h-2zM417.7 263.5h2v2h-2zM408.8 264.1h2v2h-2zM404.3 265.5h2v2h-2zM409.6 270.1h2v2h-2zM382.2 271.1h2v2h-2zM406.4 268.3h2v2h-2zM378.8 270.6h2v2h-2zM406.5 266.6h2v2h-2zM408.3 265.8h2v2h-2zM396.5 263.5h2v2h-2zM384.4 261.6h2v2h-2zM401.9 257.7h2v2h-2zM384.3 264.8h2v2h-2zM395.8 269.5h2v2h-2zM408.5 261.7h2v2h-2zM380 271.5h2v2h-2zM418.9 261.7h2v2h-2zM416.1 264h2v2h-2zM396.6 274.3h2v2h-2zM413.5 257.8h2v2h-2zM412.7 264.2h2v2h-2zM409.2 266.3h2v2h-2zM397.1 260.7h2v2h-2zM395.1 267.4h2v2h-2zM388.5 264.2h2v2h-2zM412.7 260.1h2v2h-2zM407.8 265.1h2v2h-2zM421 250.7h2v2h-2zM406.1 258.7h2v2h-2zM377.2 270.3h2v2h-2zM387.6 269.4h2v2h-2zM377.8 269h2v2h-2zM390.6 269.7h2v2h-2zM402.4 259.3h2v2h-2zM404.2 261.4h2v2h-2zM405.7 266.9h2v2h-2zM394.8 268.4h2v2h-2zM416.3 260.5h2v2h-2zM398.6 265.5h2v2h-2zM389.1 273.7h2v2h-2zM397.6 273.5h2v2h-2zM395.2 264.3h2v2h-2zM385.4 265.5h2v2h-2zM405.5 258.3h2v2h-2zM401.2 274h2v2h-2zM377 269.4h2v2h-2zM393.5 260.4h2v2h-2zM381.5 271.6h2v2h-2zM394.7 272.7h2v2h-2zM386 263.2h2v2h-2zM380.4 271.1h2v2h-2zM395.7 258.7h2v2h-2zM377.7 269.3h2v2h-2zM378.3 279.5h2v2h-2zM411.8 263.1h2v2h-2zM388.3 267.2h2v2h-2zM412.4 262.1h2v2h-2zM398.4 267.5h2v2h-2zM404.1 263.5h2v2h-2zM414.5 254.5h2v2h-2zM383.4 264.8h2v2h-2zM379.2 282.3h2v2h-2zM428 249.4h2v2h-2zM388.7 255.7h2v2h-2zM360 291.5h2v2h-2zM369.7 289.4h2v2h-2zM371.5 296.1h2v2h-2zM372.7 302.9h2v2h-2zM364.3 306.7h2v2h-2zM360.6 309.9h2v2h-2zM373.9 307.2h2v2h-2zM367.3 312.7h2v2h-2zM368.5 312.7h2v2h-2zM372.7 312.7h2v2h-2zM370.9 316.6h2v2h-2zM372.7 317.8h2v2h-2zM361.8 318.6h2v2h-2zM373.3 322.4h2v2h-2zM378.1 306.3h2v2h-2zM381.1 309.9h2v2h-2zM382.3 292.2h2v2h-2zM384.8 294.6h2v2h-2zM387.2 293h2v2h-2zM389.6 290.3h2v2h-2zM383 297.3h2v2h-2zM382.3 301.1h2v2h-2zM384.8 303.5h2v2h-2zM385.4 307.9h2v2h-2zM388.4 309.3h2v2h-2zM389 308.7h2v2h-2zM390.2 311.5h2v2h-2zM384.8 319.2h2v2h-2zM383.6 320h2v2h-2zM394.4 312.1h2v2h-2zM394.4 316.3h2v2h-2zM394.4 301.5h2v2h-2zM395 299.4h2v2h-2zM395.6 296.3h2v2h-2zM395 293h2v2h-2zM397.4 308.7h2v2h-2zM398 309.6h2v2h-2zM399.8 302.7h2v2h-2zM399.8 305.7h2v2h-2zM403.5 299.1h2v2h-2zM403.5 303.5h2v2h-2zM402.9 290h2v2h-2zM402.9 287.6h2v2h-2zM405.9 294.6h2v2h-2zM406.5 302.7h2v2h-2zM406.5 306.7h2v2h-2zM404.7 309.1h2v2h-2zM407.1 309.6h2v2h-2zM408.3 297h2v2h-2zM410.7 296.1h2v2h-2zM411.3 297h2v2h-2zM411.9 291.5h2v2h-2zM414.3 289.4h2v2h-2zM419.1 287.9h2v2h-2zM419.1 289.8h2v2h-2zM416.1 297.9h2v2h-2zM412.5 309.9h2v2h-2zM427 292.4h2v2h-2zM413.1 285.4h2v2h-2zM386 285.8h2v2h-2zM392.6 285.2h2v2h-2zM399 284h2v2h-2zM405 283h2v2h-2zM376 285h2v2h-2zM380 288h2v2h-2zM397 287.8h2v2h-2zM409 287.5h2v2h-2zM530.1 256.8h2v2h-2zM536.6 266.3h2v2h-2zM523.6 244.5h2v2h-2zM522.4 256h2v2h-2zM526.7 269.4h2v2h-2zM529.4 262.9h2v2h-2zM530.5 253.7h2v2h-2zM542.4 265.1h2v2h-2zM533.1 263.6h2v2h-2zM526.6 253.1h2v2h-2zM542.7 267.2h2v2h-2zM528.8 267.1h2v2h-2zM529 259.9h2v2h-2zM530.2 269.4h2v2h-2zM523.2 250.6h2v2h-2zM516.8 267.9h2v2h-2zM527.1 259.3h2v2h-2zM523.4 252.7h2v2h-2zM518.7 255.7h2v2h-2zM527 271.4h2v2h-2zM524.3 256.1h2v2h-2zM521 258h2v2h-2zM511.1 255.2h2v2h-2zM524.6 254h2v2h-2zM540.8 269.6h2v2h-2zM533.5 280.7h2v2h-2zM535.1 273h2v2h-2zM525.8 265.6h2v2h-2zM534.9 267.8h2v2h-2zM520.4 258h2v2h-2zM522.2 256.6h2v2h-2zM530.4 250.6h2v2h-2zM514 273.9h2v2h-2zM526.5 258h2v2h-2zM528.5 254.7h2v2h-2zM540.2 255.4h2v2h-2zM520.1 262.8h2v2h-2zM529.6 256.2h2v2h-2zM520.5 261.2h2v2h-2zM521.4 262.5h2v2h-2zM503.3 273h2v2h-2zM518.1 250h2v2h-2zM535.7 263.7h2v2h-2zM530.4 254.9h2v2h-2zM527.4 257.2h2v2h-2zM546.8 275.5h2v2h-2zM530.6 266.6h2v2h-2zM515.6 257.6h2v2h-2zM524.3 265.4h2v2h-2zM525.5 260.9h2v2h-2zM539.5 270.9h2v2h-2zM518.5 256.7h2v2h-2zM529.6 265.4h2v2h-2zM534.2 259.2h2v2h-2zM519.2 261.2h2v2h-2zM526.8 259.7h2v2h-2zM509.1 255.6h2v2h-2zM526.9 262h2v2h-2zM507.5 269.8h2v2h-2zM522.8 255.7h2v2h-2zM540.5 257.6h2v2h-2zM529.5 264.4h2v2h-2zM526.5 254.4h2v2h-2zM527.3 268.8h2v2h-2zM544.2 267.4h2v2h-2zM530.7 240.7h2v2h-2zM534.8 255.3h2v2h-2zM522.4 251.5h2v2h-2zM522.4 268.4h2v2h-2zM517.3 269.4h2v2h-2zM524.6 250.4h2v2h-2zM520.2 255h2v2h-2zM534.3 260.4h2v2h-2zM531.4 257.8h2v2h-2zM525.1 267.5h2v2h-2zM521.5 269.8h2v2h-2zM501.7 266.3h2v2h-2zM521.1 270.8h2v2h-2zM528.6 269.4h2v2h-2zM531.6 260.5h2v2h-2zM505.9 254.5h2v2h-2zM527.4 268.4h2v2h-2zM517.4 269h2v2h-2zM524.2 270.1h2v2h-2zM522.2 299h2v2h-2zM521.6 297.3h2v2h-2zM527.5 298.8h2v2h-2zM536.2 287.2h2v2h-2zM528.3 299.9h2v2h-2zM527.1 274.9h2v2h-2zM517.8 277.9h2v2h-2zM529 289.2h2v2h-2zM529.9 288.3h2v2h-2zM516.7 294.9h2v2h-2zM540.7 271.2h2v2h-2zM517 279.7h2v2h-2zM533.4 288.3h2v2h-2zM523.3 270h2v2h-2zM526.5 284.2h2v2h-2zM518.1 296.8h2v2h-2zM520.1 267.8h2v2h-2zM531.3 295.4h2v2h-2zM523.4 291.4h2v2h-2zM522.1 281.6h2v2h-2zM533 274.4h2v2h-2zM531.4 293.6h2v2h-2zM526.6 279.1h2v2h-2zM527.2 288.4h2v2h-2zM540.4 271.4h2v2h-2zM523.6 292.9h2v2h-2zM528.6 298.2h2v2h-2zM528.9 298.3h2v2h-2zM512.7 300.3h2v2h-2zM508 269.1h2v2h-2zM526.3 294.6h2v2h-2zM532.8 275.3h2v2h-2zM526.9 270.6h2v2h-2zM520.4 294h2v2h-2zM519.3 297.4h2v2h-2zM532.3 269.3h2v2h-2zM522.5 274.1h2v2h-2zM510.9 283.1h2v2h-2zM531.2 296.5h2v2h-2zM527.2 282.7h2v2h-2zM528.5 268.6h2v2h-2zM534.4 291.9h2v2h-2zM536.9 299.4h2v2h-2zM530.1 272.4h2v2h-2zM523.6 295h2v2h-2zM506.4 299.5h2v2h-2zM527.7 281.2h2v2h-2zM523.8 295.3h2v2h-2zM536.8 288.6h2v2h-2zM536.4 300.3h2v2h-2zM529.3 289.8h2v2h-2zM537.3 276.9h2v2h-2zM524.5 291h2v2h-2zM524.7 278.3h2v2h-2zM517.6 279h2v2h-2zM549.8 253h2v2h-2zM549.8 256h2v2h-2zM549.8 259.5h2v2h-2zM517 306.8h2v2h-2zM523.6 309h2v2h-2zM519.6 301.5h2v2h-2zM542.4 309.5h2v2h-2zM547.8 306.3h2v2h-2zM526.3 313.5h2v2h-2zM519.6 320.8h2v2h-2zM519.6 324.2h2v2h-2zM527.7 322.9h2v2h-2zM542.4 325.6h2v2h-2zM512.9 329h2v2h-2zM530.9 335.5h2v2h-2zM567.8 314.9h2v2h-2zM534 304h2v2h-2zM511 303h2v2h-2zM544.3 234h2v2h-2zM540 292h2v2h-2zM559.2 253.7h2v2h-2zM586.8 239.7h2v2h-2zM605.5 239h2v2h-2zM623.2 236.5h2v2h-2zM602.9 246.7h2v2h-2zM596.8 249.4h2v2h-2zM577.9 254.6h2v2h-2zM578.5 249.7h2v2h-2zM569 259h2v2h-2zM577 269h2v2h-2zM579 276h2v2h-2zM582 294h2v2h-2zM577 284h2v2h-2zM567 243h2v2h-2zM555 271h2v2h-2zM556 283h2v2h-2zM559 292h2v2h-2zM619 299h2v2h-2zM564 255h2v2h-2zM573 247h2v2h-2z" fill="#e3302b" fill-opacity="1.0"/>
<rect x="148.7" y="79.9" width="66.8" height="3.1" fill="#000"/>
<polygon points="214.9,77 223.8,81.4 214.9,85.8" fill="#000"/>
<rect x="183.9" y="261.6" width="31.4" height="3.1" fill="#000"/>
<polygon points="214.7,258.7 223.6,263.1 214.7,267.5" fill="#000"/>
<rect x="30" y="21" width="182.5" height="143.5" fill="none" stroke="#6a6a6a" stroke-width="1.2"/>
<line x1="30" y1="21" x2="30" y2="165.1" stroke="#7c7c7c" stroke-width="1.4"/>
<line x1="29.4" y1="164.5" x2="212.5" y2="164.5" stroke="#4a4a4a" stroke-width="1.3"/>
<line x1="26" y1="129.6" x2="30" y2="129.6" stroke="#333" stroke-width="1.2"/>
<text x="19.5" y="132.4" font-size="7.6" text-anchor="middle" font-weight="normal" fill="#1a1a1a" textLength="6.7" lengthAdjust="spacingAndGlyphs" stroke="#1a1a1a" stroke-width="0.45">10</text>
<text x="23.1" y="129.2" font-size="4.6" text-anchor="start" font-weight="normal" fill="#1a1a1a" stroke="#1a1a1a" stroke-width="0.3">0</text>
<line x1="26" y1="93.4" x2="30" y2="93.4" stroke="#333" stroke-width="1.2"/>
<text x="19.5" y="96.2" font-size="7.6" text-anchor="middle" font-weight="normal" fill="#1a1a1a" textLength="6.7" lengthAdjust="spacingAndGlyphs" stroke="#1a1a1a" stroke-width="0.45">10</text>
<text x="23.1" y="93" font-size="4.6" text-anchor="start" font-weight="normal" fill="#1a1a1a" stroke="#1a1a1a" stroke-width="0.3">1</text>
<line x1="26" y1="57.2" x2="30" y2="57.2" stroke="#333" stroke-width="1.2"/>
<text x="19.5" y="60" font-size="7.6" text-anchor="middle" font-weight="normal" fill="#1a1a1a" textLength="6.7" lengthAdjust="spacingAndGlyphs" stroke="#1a1a1a" stroke-width="0.45">10</text>
<text x="23.1" y="56.8" font-size="4.6" text-anchor="start" font-weight="normal" fill="#1a1a1a" stroke="#1a1a1a" stroke-width="0.3">2</text>
<line x1="26" y1="21" x2="30" y2="21" stroke="#333" stroke-width="1.2"/>
<text x="19.5" y="23.8" font-size="7.6" text-anchor="middle" font-weight="normal" fill="#1a1a1a" textLength="6.7" lengthAdjust="spacingAndGlyphs" stroke="#1a1a1a" stroke-width="0.45">10</text>
<text x="23.1" y="20.6" font-size="4.6" text-anchor="start" font-weight="normal" fill="#1a1a1a" stroke="#1a1a1a" stroke-width="0.3">3</text>
<line x1="27.7" y1="154.9" x2="30" y2="154.9" stroke="#333" stroke-width="0.9"/>
<line x1="27.7" y1="148.5" x2="30" y2="148.5" stroke="#333" stroke-width="0.9"/>
<line x1="27.7" y1="144" x2="30" y2="144" stroke="#333" stroke-width="0.9"/>
<line x1="27.7" y1="140.5" x2="30" y2="140.5" stroke="#333" stroke-width="0.9"/>
<line x1="27.7" y1="137.6" x2="30" y2="137.6" stroke="#333" stroke-width="0.9"/>
<line x1="27.7" y1="135.2" x2="30" y2="135.2" stroke="#333" stroke-width="0.9"/>
<line x1="27.7" y1="133.1" x2="30" y2="133.1" stroke="#333" stroke-width="0.9"/>
<line x1="27.7" y1="131.3" x2="30" y2="131.3" stroke="#333" stroke-width="0.9"/>
<line x1="27.7" y1="118.7" x2="30" y2="118.7" stroke="#333" stroke-width="0.9"/>
<line x1="27.7" y1="112.3" x2="30" y2="112.3" stroke="#333" stroke-width="0.9"/>
<line x1="27.7" y1="107.8" x2="30" y2="107.8" stroke="#333" stroke-width="0.9"/>
<line x1="27.7" y1="104.3" x2="30" y2="104.3" stroke="#333" stroke-width="0.9"/>
<line x1="27.7" y1="101.4" x2="30" y2="101.4" stroke="#333" stroke-width="0.9"/>
<line x1="27.7" y1="99" x2="30" y2="99" stroke="#333" stroke-width="0.9"/>
<line x1="27.7" y1="96.9" x2="30" y2="96.9" stroke="#333" stroke-width="0.9"/>
<line x1="27.7" y1="95.1" x2="30" y2="95.1" stroke="#333" stroke-width="0.9"/>
<line x1="27.7" y1="82.5" x2="30" y2="82.5" stroke="#333" stroke-width="0.9"/>
<line x1="27.7" y1="76.1" x2="30" y2="76.1" stroke="#333" stroke-width="0.9"/>
<line x1="27.7" y1="71.6" x2="30" y2="71.6" stroke="#333" stroke-width="0.9"/>
<line x1="27.7" y1="68.1" x2="30" y2="68.1" stroke="#333" stroke-width="0.9"/>
<line x1="27.7" y1="65.2" x2="30" y2="65.2" stroke="#333" stroke-width="0.9"/>
<line x1="27.7" y1="62.8" x2="30" y2="62.8" stroke="#333" stroke-width="0.9"/>
<line x1="27.7" y1="60.7" x2="30" y2="60.7" stroke="#333" stroke-width="0.9"/>
<line x1="27.7" y1="58.9" x2="30" y2="58.9" stroke="#333" stroke-width="0.9"/>
<line x1="27.7" y1="46.3" x2="30" y2="46.3" stroke="#333" stroke-width="0.9"/>
<line x1="27.7" y1="39.9" x2="30" y2="39.9" stroke="#333" stroke-width="0.9"/>
<line x1="27.7" y1="35.4" x2="30" y2="35.4" stroke="#333" stroke-width="0.9"/>
<line x1="27.7" y1="31.9" x2="30" y2="31.9" stroke="#333" stroke-width="0.9"/>
<line x1="27.7" y1="29" x2="30" y2="29" stroke="#333" stroke-width="0.9"/>
<line x1="27.7" y1="26.6" x2="30" y2="26.6" stroke="#333" stroke-width="0.9"/>
<line x1="27.7" y1="24.5" x2="30" y2="24.5" stroke="#333" stroke-width="0.9"/>
<line x1="27.7" y1="22.7" x2="30" y2="22.7" stroke="#333" stroke-width="0.9"/>
<line x1="75.4" y1="164.5" x2="75.4" y2="168.5" stroke="#333" stroke-width="1.2"/>
<text x="74.8" y="177.4" font-size="7.5" text-anchor="middle" font-weight="normal" fill="#1a1a1a" stroke="#1a1a1a" stroke-width="0.45">10</text>
<text x="78.8" y="174.4" font-size="4.6" text-anchor="start" font-weight="normal" fill="#1a1a1a" stroke="#1a1a1a" stroke-width="0.3">0</text>
<line x1="120.5" y1="164.5" x2="120.5" y2="168.5" stroke="#333" stroke-width="1.2"/>
<text x="119.8" y="177.4" font-size="7.5" text-anchor="middle" font-weight="normal" fill="#1a1a1a" stroke="#1a1a1a" stroke-width="0.45">10</text>
<text x="123.9" y="174.4" font-size="4.6" text-anchor="start" font-weight="normal" fill="#1a1a1a" stroke="#1a1a1a" stroke-width="0.3">1</text>
<line x1="166" y1="164.5" x2="166" y2="168.5" stroke="#333" stroke-width="1.2"/>
<text x="165.3" y="177.4" font-size="7.5" text-anchor="middle" font-weight="normal" fill="#1a1a1a" stroke="#1a1a1a" stroke-width="0.45">10</text>
<text x="169.4" y="174.4" font-size="4.6" text-anchor="start" font-weight="normal" fill="#1a1a1a" stroke="#1a1a1a" stroke-width="0.3">2</text>
<line x1="211.9" y1="164.5" x2="211.9" y2="168.5" stroke="#333" stroke-width="1.2"/>
<text x="211.2" y="177.4" font-size="7.5" text-anchor="middle" font-weight="normal" fill="#1a1a1a" stroke="#1a1a1a" stroke-width="0.45">10</text>
<text x="215.3" y="174.4" font-size="4.6" text-anchor="start" font-weight="normal" fill="#1a1a1a" stroke="#1a1a1a" stroke-width="0.3">3</text>
<line x1="43.7" y1="164.5" x2="43.7" y2="166.8" stroke="#333" stroke-width="0.9"/>
<line x1="51.7" y1="164.5" x2="51.7" y2="166.8" stroke="#333" stroke-width="0.9"/>
<line x1="57.3" y1="164.5" x2="57.3" y2="166.8" stroke="#333" stroke-width="0.9"/>
<line x1="61.7" y1="164.5" x2="61.7" y2="166.8" stroke="#333" stroke-width="0.9"/>
<line x1="65.3" y1="164.5" x2="65.3" y2="166.8" stroke="#333" stroke-width="0.9"/>
<line x1="68.4" y1="164.5" x2="68.4" y2="166.8" stroke="#333" stroke-width="0.9"/>
<line x1="71" y1="164.5" x2="71" y2="166.8" stroke="#333" stroke-width="0.9"/>
<line x1="73.3" y1="164.5" x2="73.3" y2="166.8" stroke="#333" stroke-width="0.9"/>
<line x1="89" y1="164.5" x2="89" y2="166.8" stroke="#333" stroke-width="0.9"/>
<line x1="96.9" y1="164.5" x2="96.9" y2="166.8" stroke="#333" stroke-width="0.9"/>
<line x1="102.6" y1="164.5" x2="102.6" y2="166.8" stroke="#333" stroke-width="0.9"/>
<line x1="106.9" y1="164.5" x2="106.9" y2="166.8" stroke="#333" stroke-width="0.9"/>
<line x1="110.5" y1="164.5" x2="110.5" y2="166.8" stroke="#333" stroke-width="0.9"/>
<line x1="113.5" y1="164.5" x2="113.5" y2="166.8" stroke="#333" stroke-width="0.9"/>
<line x1="116.1" y1="164.5" x2="116.1" y2="166.8" stroke="#333" stroke-width="0.9"/>
<line x1="118.4" y1="164.5" x2="118.4" y2="166.8" stroke="#333" stroke-width="0.9"/>
<line x1="134.2" y1="164.5" x2="134.2" y2="166.8" stroke="#333" stroke-width="0.9"/>
<line x1="142.2" y1="164.5" x2="142.2" y2="166.8" stroke="#333" stroke-width="0.9"/>
<line x1="147.9" y1="164.5" x2="147.9" y2="166.8" stroke="#333" stroke-width="0.9"/>
<line x1="152.3" y1="164.5" x2="152.3" y2="166.8" stroke="#333" stroke-width="0.9"/>
<line x1="155.9" y1="164.5" x2="155.9" y2="166.8" stroke="#333" stroke-width="0.9"/>
<line x1="159" y1="164.5" x2="159" y2="166.8" stroke="#333" stroke-width="0.9"/>
<line x1="161.6" y1="164.5" x2="161.6" y2="166.8" stroke="#333" stroke-width="0.9"/>
<line x1="163.9" y1="164.5" x2="163.9" y2="166.8" stroke="#333" stroke-width="0.9"/>
<line x1="179.8" y1="164.5" x2="179.8" y2="166.8" stroke="#333" stroke-width="0.9"/>
<line x1="187.9" y1="164.5" x2="187.9" y2="166.8" stroke="#333" stroke-width="0.9"/>
<line x1="193.6" y1="164.5" x2="193.6" y2="166.8" stroke="#333" stroke-width="0.9"/>
<line x1="198.1" y1="164.5" x2="198.1" y2="166.8" stroke="#333" stroke-width="0.9"/>
<line x1="201.7" y1="164.5" x2="201.7" y2="166.8" stroke="#333" stroke-width="0.9"/>
<line x1="204.8" y1="164.5" x2="204.8" y2="166.8" stroke="#333" stroke-width="0.9"/>
<line x1="207.5" y1="164.5" x2="207.5" y2="166.8" stroke="#333" stroke-width="0.9"/>
<line x1="209.8" y1="164.5" x2="209.8" y2="166.8" stroke="#333" stroke-width="0.9"/>
<rect x="269.2" y="21" width="173.8" height="142.4" fill="none" stroke="#6a6a6a" stroke-width="1.2"/>
<line x1="269.2" y1="21" x2="269.2" y2="164" stroke="#7c7c7c" stroke-width="1.4"/>
<line x1="268.6" y1="163.4" x2="443" y2="163.4" stroke="#4a4a4a" stroke-width="1.3"/>
<line x1="265.1" y1="150" x2="269.2" y2="150" stroke="#333" stroke-width="1.2"/>
<text x="263.5" y="152.8" font-size="7.6" text-anchor="end" font-weight="normal" fill="#1a1a1a" stroke="#1a1a1a" stroke-width="0.45">0</text>
<line x1="265.1" y1="119.7" x2="269.2" y2="119.7" stroke="#333" stroke-width="1.2"/>
<text x="256.9" y="122.5" font-size="7.6" text-anchor="middle" font-weight="normal" fill="#1a1a1a" textLength="8.4" lengthAdjust="spacingAndGlyphs" stroke="#1a1a1a" stroke-width="0.45">10</text>
<text x="261.1" y="119.3" font-size="4.6" text-anchor="start" font-weight="normal" fill="#1a1a1a" stroke="#1a1a1a" stroke-width="0.3">0</text>
<line x1="265.1" y1="85.8" x2="269.2" y2="85.8" stroke="#333" stroke-width="1.2"/>
<text x="256.9" y="88.6" font-size="7.6" text-anchor="middle" font-weight="normal" fill="#1a1a1a" textLength="8.4" lengthAdjust="spacingAndGlyphs" stroke="#1a1a1a" stroke-width="0.45">10</text>
<text x="261.1" y="85.4" font-size="4.6" text-anchor="start" font-weight="normal" fill="#1a1a1a" stroke="#1a1a1a" stroke-width="0.3">1</text>
<line x1="265.1" y1="53.4" x2="269.2" y2="53.4" stroke="#333" stroke-width="1.2"/>
<text x="256.9" y="56.2" font-size="7.6" text-anchor="middle" font-weight="normal" fill="#1a1a1a" textLength="8.4" lengthAdjust="spacingAndGlyphs" stroke="#1a1a1a" stroke-width="0.45">10</text>
<text x="261.1" y="53" font-size="4.6" text-anchor="start" font-weight="normal" fill="#1a1a1a" stroke="#1a1a1a" stroke-width="0.3">2</text>
<line x1="265.1" y1="21" x2="269.2" y2="21" stroke="#333" stroke-width="1.2"/>
<text x="256.9" y="23.8" font-size="7.6" text-anchor="middle" font-weight="normal" fill="#1a1a1a" textLength="8.4" lengthAdjust="spacingAndGlyphs" stroke="#1a1a1a" stroke-width="0.45">10</text>
<text x="261.1" y="20.6" font-size="4.6" text-anchor="start" font-weight="normal" fill="#1a1a1a" stroke="#1a1a1a" stroke-width="0.3">3</text>
<line x1="266.9" y1="109.5" x2="269.2" y2="109.5" stroke="#333" stroke-width="0.9"/>
<line x1="266.9" y1="103.5" x2="269.2" y2="103.5" stroke="#333" stroke-width="0.9"/>
<line x1="266.9" y1="99.3" x2="269.2" y2="99.3" stroke="#333" stroke-width="0.9"/>
<line x1="266.9" y1="96" x2="269.2" y2="96" stroke="#333" stroke-width="0.9"/>
<line x1="266.9" y1="93.3" x2="269.2" y2="93.3" stroke="#333" stroke-width="0.9"/>
<line x1="266.9" y1="91.1" x2="269.2" y2="91.1" stroke="#333" stroke-width="0.9"/>
<line x1="266.9" y1="89.1" x2="269.2" y2="89.1" stroke="#333" stroke-width="0.9"/>
<line x1="266.9" y1="87.4" x2="269.2" y2="87.4" stroke="#333" stroke-width="0.9"/>
<line x1="266.9" y1="76" x2="269.2" y2="76" stroke="#333" stroke-width="0.9"/>
<line x1="266.9" y1="70.3" x2="269.2" y2="70.3" stroke="#333" stroke-width="0.9"/>
<line x1="266.9" y1="66.3" x2="269.2" y2="66.3" stroke="#333" stroke-width="0.9"/>
<line x1="266.9" y1="63.2" x2="269.2" y2="63.2" stroke="#333" stroke-width="0.9"/>
<line x1="266.9" y1="60.6" x2="269.2" y2="60.6" stroke="#333" stroke-width="0.9"/>
<line x1="266.9" y1="58.4" x2="269.2" y2="58.4" stroke="#333" stroke-width="0.9"/>
<line x1="266.9" y1="56.5" x2="269.2" y2="56.5" stroke="#333" stroke-width="0.9"/>
<line x1="266.9" y1="54.9" x2="269.2" y2="54.9" stroke="#333" stroke-width="0.9"/>
<line x1="266.9" y1="43.6" x2="269.2" y2="43.6" stroke="#333" stroke-width="0.9"/>
<line x1="266.9" y1="37.9" x2="269.2" y2="37.9" stroke="#333" stroke-width="0.9"/>
<line x1="266.9" y1="33.9" x2="269.2" y2="33.9" stroke="#333" stroke-width="0.9"/>
<line x1="266.9" y1="30.8" x2="269.2" y2="30.8" stroke="#333" stroke-width="0.9"/>
<line x1="266.9" y1="28.2" x2="269.2" y2="28.2" stroke="#333" stroke-width="0.9"/>
<line x1="266.9" y1="26" x2="269.2" y2="26" stroke="#333" stroke-width="0.9"/>
<line x1="266.9" y1="24.1" x2="269.2" y2="24.1" stroke="#333" stroke-width="0.9"/>
<line x1="266.9" y1="22.5" x2="269.2" y2="22.5" stroke="#333" stroke-width="0.9"/>
<line x1="266.9" y1="158.4" x2="269.2" y2="158.4" stroke="#333" stroke-width="0.9"/>
<line x1="266.9" y1="135" x2="269.2" y2="135" stroke="#333" stroke-width="0.9"/>
<line x1="293.5" y1="163.4" x2="293.5" y2="167.4" stroke="#333" stroke-width="1.2"/>
<text x="293.5" y="176.3" font-size="7.5" text-anchor="middle" font-weight="normal" fill="#1a1a1a" stroke="#1a1a1a" stroke-width="0.45">0</text>
<line x1="318.8" y1="163.4" x2="318.8" y2="167.4" stroke="#333" stroke-width="1.2"/>
<text x="318.2" y="176.3" font-size="7.5" text-anchor="middle" font-weight="normal" fill="#1a1a1a" stroke="#1a1a1a" stroke-width="0.45">10</text>
<text x="322.2" y="173.3" font-size="4.6" text-anchor="start" font-weight="normal" fill="#1a1a1a" stroke="#1a1a1a" stroke-width="0.3">0</text>
<line x1="364.3" y1="163.4" x2="364.3" y2="167.4" stroke="#333" stroke-width="1.2"/>
<text x="363.7" y="176.3" font-size="7.5" text-anchor="middle" font-weight="normal" fill="#1a1a1a" stroke="#1a1a1a" stroke-width="0.45">10</text>
<text x="367.7" y="173.3" font-size="4.6" text-anchor="start" font-weight="normal" fill="#1a1a1a" stroke="#1a1a1a" stroke-width="0.3">1</text>
<line x1="404" y1="163.4" x2="404" y2="167.4" stroke="#333" stroke-width="1.2"/>
<text x="403.4" y="176.3" font-size="7.5" text-anchor="middle" font-weight="normal" fill="#1a1a1a" stroke="#1a1a1a" stroke-width="0.45">10</text>
<text x="407.4" y="173.3" font-size="4.6" text-anchor="start" font-weight="normal" fill="#1a1a1a" stroke="#1a1a1a" stroke-width="0.3">2</text>
<line x1="441.6" y1="163.4" x2="441.6" y2="167.4" stroke="#333" stroke-width="1.2"/>
<text x="441.6" y="176.3" font-size="7.5" text-anchor="middle" font-weight="normal" fill="#1a1a1a" stroke="#1a1a1a" stroke-width="0.45">10</text>
<line x1="332.5" y1="163.4" x2="332.5" y2="165.7" stroke="#333" stroke-width="0.9"/>
<line x1="340.5" y1="163.4" x2="340.5" y2="165.7" stroke="#333" stroke-width="0.9"/>
<line x1="346.2" y1="163.4" x2="346.2" y2="165.7" stroke="#333" stroke-width="0.9"/>
<line x1="350.6" y1="163.4" x2="350.6" y2="165.7" stroke="#333" stroke-width="0.9"/>
<line x1="354.2" y1="163.4" x2="354.2" y2="165.7" stroke="#333" stroke-width="0.9"/>
<line x1="357.3" y1="163.4" x2="357.3" y2="165.7" stroke="#333" stroke-width="0.9"/>
<line x1="359.9" y1="163.4" x2="359.9" y2="165.7" stroke="#333" stroke-width="0.9"/>
<line x1="362.2" y1="163.4" x2="362.2" y2="165.7" stroke="#333" stroke-width="0.9"/>
<line x1="376.3" y1="163.4" x2="376.3" y2="165.7" stroke="#333" stroke-width="0.9"/>
<line x1="383.2" y1="163.4" x2="383.2" y2="165.7" stroke="#333" stroke-width="0.9"/>
<line x1="388.2" y1="163.4" x2="388.2" y2="165.7" stroke="#333" stroke-width="0.9"/>
<line x1="392" y1="163.4" x2="392" y2="165.7" stroke="#333" stroke-width="0.9"/>
<line x1="395.2" y1="163.4" x2="395.2" y2="165.7" stroke="#333" stroke-width="0.9"/>
<line x1="397.9" y1="163.4" x2="397.9" y2="165.7" stroke="#333" stroke-width="0.9"/>
<line x1="400.2" y1="163.4" x2="400.2" y2="165.7" stroke="#333" stroke-width="0.9"/>
<line x1="402.2" y1="163.4" x2="402.2" y2="165.7" stroke="#333" stroke-width="0.9"/>
<line x1="415.3" y1="163.4" x2="415.3" y2="165.7" stroke="#333" stroke-width="0.9"/>
<line x1="421.9" y1="163.4" x2="421.9" y2="165.7" stroke="#333" stroke-width="0.9"/>
<line x1="426.6" y1="163.4" x2="426.6" y2="165.7" stroke="#333" stroke-width="0.9"/>
<line x1="430.3" y1="163.4" x2="430.3" y2="165.7" stroke="#333" stroke-width="0.9"/>
<line x1="433.3" y1="163.4" x2="433.3" y2="165.7" stroke="#333" stroke-width="0.9"/>
<line x1="435.8" y1="163.4" x2="435.8" y2="165.7" stroke="#333" stroke-width="0.9"/>
<line x1="438" y1="163.4" x2="438" y2="165.7" stroke="#333" stroke-width="0.9"/>
<line x1="439.9" y1="163.4" x2="439.9" y2="165.7" stroke="#333" stroke-width="0.9"/>
<line x1="279.6" y1="163.4" x2="279.6" y2="165.7" stroke="#333" stroke-width="0.9"/>
<line x1="308" y1="163.4" x2="308" y2="165.7" stroke="#333" stroke-width="0.9"/>
<rect x="498" y="20.5" width="179.8" height="142.8" fill="none" stroke="#6a6a6a" stroke-width="1.2"/>
<line x1="498" y1="20.5" x2="498" y2="163.9" stroke="#7c7c7c" stroke-width="1.4"/>
<line x1="497.4" y1="163.3" x2="677.8" y2="163.3" stroke="#4a4a4a" stroke-width="1.3"/>
<line x1="492.9" y1="163.4" x2="498" y2="163.4" stroke="#333" stroke-width="1.2"/>
<text x="491.3" y="166.2" font-size="7.6" text-anchor="end" font-weight="normal" fill="#1a1a1a" stroke="#1a1a1a" stroke-width="0.45">-1</text>
<line x1="492.9" y1="142.7" x2="498" y2="142.7" stroke="#333" stroke-width="1.2"/>
<text x="491.3" y="145.5" font-size="7.6" text-anchor="end" font-weight="normal" fill="#1a1a1a" stroke="#1a1a1a" stroke-width="0.45">0</text>
<line x1="492.9" y1="121.8" x2="498" y2="121.8" stroke="#333" stroke-width="1.2"/>
<text x="491.3" y="124.6" font-size="7.6" text-anchor="end" font-weight="normal" fill="#1a1a1a" stroke="#1a1a1a" stroke-width="0.45">1</text>
<line x1="492.9" y1="85.8" x2="498" y2="85.8" stroke="#333" stroke-width="1.2"/>
<text x="484" y="88.6" font-size="7.6" text-anchor="middle" font-weight="normal" fill="#1a1a1a" textLength="8.3" lengthAdjust="spacingAndGlyphs" stroke="#1a1a1a" stroke-width="0.45">10</text>
<text x="488.5" y="85.4" font-size="4.6" text-anchor="start" font-weight="normal" fill="#1a1a1a" stroke="#1a1a1a" stroke-width="0.3">1</text>
<line x1="492.9" y1="52.8" x2="498" y2="52.8" stroke="#333" stroke-width="1.2"/>
<text x="484" y="55.6" font-size="7.6" text-anchor="middle" font-weight="normal" fill="#1a1a1a" textLength="8.3" lengthAdjust="spacingAndGlyphs" stroke="#1a1a1a" stroke-width="0.45">10</text>
<text x="488.5" y="52.4" font-size="4.6" text-anchor="start" font-weight="normal" fill="#1a1a1a" stroke="#1a1a1a" stroke-width="0.3">2</text>
<line x1="492.9" y1="20.5" x2="498" y2="20.5" stroke="#333" stroke-width="1.2"/>
<text x="484" y="23.3" font-size="7.6" text-anchor="middle" font-weight="normal" fill="#1a1a1a" textLength="8.3" lengthAdjust="spacingAndGlyphs" stroke="#1a1a1a" stroke-width="0.45">10</text>
<text x="488.5" y="20.1" font-size="4.6" text-anchor="start" font-weight="normal" fill="#1a1a1a" stroke="#1a1a1a" stroke-width="0.3">3</text>
<line x1="495.7" y1="75.9" x2="498" y2="75.9" stroke="#333" stroke-width="0.9"/>
<line x1="495.7" y1="70.1" x2="498" y2="70.1" stroke="#333" stroke-width="0.9"/>
<line x1="495.7" y1="65.9" x2="498" y2="65.9" stroke="#333" stroke-width="0.9"/>
<line x1="495.7" y1="62.7" x2="498" y2="62.7" stroke="#333" stroke-width="0.9"/>
<line x1="495.7" y1="60.1" x2="498" y2="60.1" stroke="#333" stroke-width="0.9"/>
<line x1="495.7" y1="57.9" x2="498" y2="57.9" stroke="#333" stroke-width="0.9"/>
<line x1="495.7" y1="56" x2="498" y2="56" stroke="#333" stroke-width="0.9"/>
<line x1="495.7" y1="54.3" x2="498" y2="54.3" stroke="#333" stroke-width="0.9"/>
<line x1="495.7" y1="43.1" x2="498" y2="43.1" stroke="#333" stroke-width="0.9"/>
<line x1="495.7" y1="37.4" x2="498" y2="37.4" stroke="#333" stroke-width="0.9"/>
<line x1="495.7" y1="33.4" x2="498" y2="33.4" stroke="#333" stroke-width="0.9"/>
<line x1="495.7" y1="30.2" x2="498" y2="30.2" stroke="#333" stroke-width="0.9"/>
<line x1="495.7" y1="27.7" x2="498" y2="27.7" stroke="#333" stroke-width="0.9"/>
<line x1="495.7" y1="25.5" x2="498" y2="25.5" stroke="#333" stroke-width="0.9"/>
<line x1="495.7" y1="23.6" x2="498" y2="23.6" stroke="#333" stroke-width="0.9"/>
<line x1="495.7" y1="22" x2="498" y2="22" stroke="#333" stroke-width="0.9"/>
<line x1="495.7" y1="104" x2="498" y2="104" stroke="#333" stroke-width="0.9"/>
<line x1="495.7" y1="95" x2="498" y2="95" stroke="#333" stroke-width="0.9"/>
<line x1="495.7" y1="90" x2="498" y2="90" stroke="#333" stroke-width="0.9"/>
<line x1="524.2" y1="163.3" x2="524.2" y2="167.3" stroke="#333" stroke-width="1.2"/>
<text x="524.2" y="176.2" font-size="7.5" text-anchor="middle" font-weight="normal" fill="#1a1a1a" stroke="#1a1a1a" stroke-width="0.45">0</text>
<line x1="596" y1="163.3" x2="596" y2="167.3" stroke="#333" stroke-width="1.2"/>
<text x="595.4" y="176.2" font-size="7.5" text-anchor="middle" font-weight="normal" fill="#1a1a1a" stroke="#1a1a1a" stroke-width="0.45">10</text>
<text x="599.4" y="173.2" font-size="4.6" text-anchor="start" font-weight="normal" fill="#1a1a1a" stroke="#1a1a1a" stroke-width="0.3">1</text>
<line x1="636.8" y1="163.3" x2="636.8" y2="167.3" stroke="#333" stroke-width="1.2"/>
<text x="636.1" y="176.2" font-size="7.5" text-anchor="middle" font-weight="normal" fill="#1a1a1a" stroke="#1a1a1a" stroke-width="0.45">10</text>
<text x="640.2" y="173.2" font-size="4.6" text-anchor="start" font-weight="normal" fill="#1a1a1a" stroke="#1a1a1a" stroke-width="0.3">2</text>
<line x1="677.6" y1="163.3" x2="677.6" y2="167.3" stroke="#333" stroke-width="1.2"/>
<text x="677" y="176.2" font-size="7.5" text-anchor="middle" font-weight="normal" fill="#1a1a1a" stroke="#1a1a1a" stroke-width="0.45">10</text>
<text x="681" y="173.2" font-size="4.6" text-anchor="start" font-weight="normal" fill="#1a1a1a" stroke="#1a1a1a" stroke-width="0.3">3</text>
<line x1="608.3" y1="163.3" x2="608.3" y2="165.6" stroke="#333" stroke-width="0.9"/>
<line x1="615.5" y1="163.3" x2="615.5" y2="165.6" stroke="#333" stroke-width="0.9"/>
<line x1="620.6" y1="163.3" x2="620.6" y2="165.6" stroke="#333" stroke-width="0.9"/>
<line x1="624.5" y1="163.3" x2="624.5" y2="165.6" stroke="#333" stroke-width="0.9"/>
<line x1="627.7" y1="163.3" x2="627.7" y2="165.6" stroke="#333" stroke-width="0.9"/>
<line x1="630.5" y1="163.3" x2="630.5" y2="165.6" stroke="#333" stroke-width="0.9"/>
<line x1="632.8" y1="163.3" x2="632.8" y2="165.6" stroke="#333" stroke-width="0.9"/>
<line x1="634.9" y1="163.3" x2="634.9" y2="165.6" stroke="#333" stroke-width="0.9"/>
<line x1="649.1" y1="163.3" x2="649.1" y2="165.6" stroke="#333" stroke-width="0.9"/>
<line x1="656.3" y1="163.3" x2="656.3" y2="165.6" stroke="#333" stroke-width="0.9"/>
<line x1="661.4" y1="163.3" x2="661.4" y2="165.6" stroke="#333" stroke-width="0.9"/>
<line x1="665.3" y1="163.3" x2="665.3" y2="165.6" stroke="#333" stroke-width="0.9"/>
<line x1="668.5" y1="163.3" x2="668.5" y2="165.6" stroke="#333" stroke-width="0.9"/>
<line x1="671.3" y1="163.3" x2="671.3" y2="165.6" stroke="#333" stroke-width="0.9"/>
<line x1="673.6" y1="163.3" x2="673.6" y2="165.6" stroke="#333" stroke-width="0.9"/>
<line x1="675.7" y1="163.3" x2="675.7" y2="165.6" stroke="#333" stroke-width="0.9"/>
<line x1="505" y1="163.3" x2="505" y2="165.6" stroke="#333" stroke-width="0.9"/>
<line x1="545" y1="163.3" x2="545" y2="165.6" stroke="#333" stroke-width="0.9"/>
<line x1="560" y1="163.3" x2="560" y2="165.6" stroke="#333" stroke-width="0.9"/>
<line x1="570" y1="163.3" x2="570" y2="165.6" stroke="#333" stroke-width="0.9"/>
<line x1="578" y1="163.3" x2="578" y2="165.6" stroke="#333" stroke-width="0.9"/>
<line x1="584" y1="163.3" x2="584" y2="165.6" stroke="#333" stroke-width="0.9"/>
<line x1="589" y1="163.3" x2="589" y2="165.6" stroke="#333" stroke-width="0.9"/>
<rect x="34.2" y="210.3" width="178.3" height="135.2" fill="none" stroke="#6a6a6a" stroke-width="1.2"/>
<line x1="34.2" y1="210.3" x2="34.2" y2="346.1" stroke="#7c7c7c" stroke-width="1.4"/>
<line x1="33.6" y1="345.5" x2="212.5" y2="345.5" stroke="#4a4a4a" stroke-width="1.3"/>
<line x1="30.1" y1="332.7" x2="34.2" y2="332.7" stroke="#333" stroke-width="1.2"/>
<text x="28.5" y="335.5" font-size="7.6" text-anchor="end" font-weight="normal" fill="#1a1a1a" stroke="#1a1a1a" stroke-width="0.45">0</text>
<line x1="30.1" y1="303.9" x2="34.2" y2="303.9" stroke="#333" stroke-width="1.2"/>
<text x="23.5" y="306.7" font-size="7.6" text-anchor="middle" font-weight="normal" fill="#1a1a1a" textLength="7.7" lengthAdjust="spacingAndGlyphs" stroke="#1a1a1a" stroke-width="0.45">10</text>
<text x="27.6" y="303.5" font-size="4.6" text-anchor="start" font-weight="normal" fill="#1a1a1a" stroke="#1a1a1a" stroke-width="0.3">0</text>
<line x1="30.1" y1="272.1" x2="34.2" y2="272.1" stroke="#333" stroke-width="1.2"/>
<text x="23.5" y="274.9" font-size="7.6" text-anchor="middle" font-weight="normal" fill="#1a1a1a" textLength="7.7" lengthAdjust="spacingAndGlyphs" stroke="#1a1a1a" stroke-width="0.45">10</text>
<text x="27.6" y="271.7" font-size="4.6" text-anchor="start" font-weight="normal" fill="#1a1a1a" stroke="#1a1a1a" stroke-width="0.3">1</text>
<line x1="30.1" y1="240.4" x2="34.2" y2="240.4" stroke="#333" stroke-width="1.2"/>
<text x="23.5" y="243.2" font-size="7.6" text-anchor="middle" font-weight="normal" fill="#1a1a1a" textLength="7.7" lengthAdjust="spacingAndGlyphs" stroke="#1a1a1a" stroke-width="0.45">10</text>
<text x="27.6" y="240" font-size="4.6" text-anchor="start" font-weight="normal" fill="#1a1a1a" stroke="#1a1a1a" stroke-width="0.3">2</text>
<line x1="30.1" y1="210.3" x2="34.2" y2="210.3" stroke="#333" stroke-width="1.2"/>
<text x="23.5" y="213.1" font-size="7.6" text-anchor="middle" font-weight="normal" fill="#1a1a1a" textLength="7.7" lengthAdjust="spacingAndGlyphs" stroke="#1a1a1a" stroke-width="0.45">10</text>
<text x="27.6" y="209.9" font-size="4.6" text-anchor="start" font-weight="normal" fill="#1a1a1a" stroke="#1a1a1a" stroke-width="0.3">3</text>
<line x1="31.9" y1="294.3" x2="34.2" y2="294.3" stroke="#333" stroke-width="0.9"/>
<line x1="31.9" y1="288.7" x2="34.2" y2="288.7" stroke="#333" stroke-width="0.9"/>
<line x1="31.9" y1="284.8" x2="34.2" y2="284.8" stroke="#333" stroke-width="0.9"/>
<line x1="31.9" y1="281.7" x2="34.2" y2="281.7" stroke="#333" stroke-width="0.9"/>
<line x1="31.9" y1="279.2" x2="34.2" y2="279.2" stroke="#333" stroke-width="0.9"/>
<line x1="31.9" y1="277" x2="34.2" y2="277" stroke="#333" stroke-width="0.9"/>
<line x1="31.9" y1="275.2" x2="34.2" y2="275.2" stroke="#333" stroke-width="0.9"/>
<line x1="31.9" y1="273.6" x2="34.2" y2="273.6" stroke="#333" stroke-width="0.9"/>
<line x1="31.9" y1="262.6" x2="34.2" y2="262.6" stroke="#333" stroke-width="0.9"/>
<line x1="31.9" y1="257" x2="34.2" y2="257" stroke="#333" stroke-width="0.9"/>
<line x1="31.9" y1="253" x2="34.2" y2="253" stroke="#333" stroke-width="0.9"/>
<line x1="31.9" y1="249.9" x2="34.2" y2="249.9" stroke="#333" stroke-width="0.9"/>
<line x1="31.9" y1="247.4" x2="34.2" y2="247.4" stroke="#333" stroke-width="0.9"/>
<line x1="31.9" y1="245.3" x2="34.2" y2="245.3" stroke="#333" stroke-width="0.9"/>
<line x1="31.9" y1="243.5" x2="34.2" y2="243.5" stroke="#333" stroke-width="0.9"/>
<line x1="31.9" y1="241.9" x2="34.2" y2="241.9" stroke="#333" stroke-width="0.9"/>
<line x1="31.9" y1="231.3" x2="34.2" y2="231.3" stroke="#333" stroke-width="0.9"/>
<line x1="31.9" y1="226" x2="34.2" y2="226" stroke="#333" stroke-width="0.9"/>
<line x1="31.9" y1="222.3" x2="34.2" y2="222.3" stroke="#333" stroke-width="0.9"/>
<line x1="31.9" y1="219.4" x2="34.2" y2="219.4" stroke="#333" stroke-width="0.9"/>
<line x1="31.9" y1="217" x2="34.2" y2="217" stroke="#333" stroke-width="0.9"/>
<line x1="31.9" y1="215" x2="34.2" y2="215" stroke="#333" stroke-width="0.9"/>
<line x1="31.9" y1="213.2" x2="34.2" y2="213.2" stroke="#333" stroke-width="0.9"/>
<line x1="31.9" y1="211.7" x2="34.2" y2="211.7" stroke="#333" stroke-width="0.9"/>
<line x1="31.9" y1="341" x2="34.2" y2="341" stroke="#333" stroke-width="0.9"/>
<line x1="31.9" y1="318" x2="34.2" y2="318" stroke="#333" stroke-width="0.9"/>
<line x1="53" y1="345.5" x2="53" y2="349.5" stroke="#333" stroke-width="1.2"/>
<text x="53" y="358.4" font-size="7.5" text-anchor="middle" font-weight="normal" fill="#1a1a1a" stroke="#1a1a1a" stroke-width="0.45">0</text>
<line x1="89.4" y1="345.5" x2="89.4" y2="349.5" stroke="#333" stroke-width="1.2"/>
<text x="88.8" y="358.4" font-size="7.5" text-anchor="middle" font-weight="normal" fill="#1a1a1a" stroke="#1a1a1a" stroke-width="0.45">10</text>
<text x="92.8" y="355.4" font-size="4.6" text-anchor="start" font-weight="normal" fill="#1a1a1a" stroke="#1a1a1a" stroke-width="0.3">0</text>
<line x1="132.8" y1="345.5" x2="132.8" y2="349.5" stroke="#333" stroke-width="1.2"/>
<text x="132.2" y="358.4" font-size="7.5" text-anchor="middle" font-weight="normal" fill="#1a1a1a" stroke="#1a1a1a" stroke-width="0.45">10</text>
<text x="136.2" y="355.4" font-size="4.6" text-anchor="start" font-weight="normal" fill="#1a1a1a" stroke="#1a1a1a" stroke-width="0.3">1</text>
<line x1="172.3" y1="345.5" x2="172.3" y2="349.5" stroke="#333" stroke-width="1.2"/>
<text x="171.7" y="358.4" font-size="7.5" text-anchor="middle" font-weight="normal" fill="#1a1a1a" stroke="#1a1a1a" stroke-width="0.45">10</text>
<text x="175.7" y="355.4" font-size="4.6" text-anchor="start" font-weight="normal" fill="#1a1a1a" stroke="#1a1a1a" stroke-width="0.3">2</text>
<line x1="212.3" y1="345.5" x2="212.3" y2="349.5" stroke="#333" stroke-width="1.2"/>
<text x="211.7" y="358.4" font-size="7.5" text-anchor="middle" font-weight="normal" fill="#1a1a1a" stroke="#1a1a1a" stroke-width="0.45">10</text>
<text x="215.7" y="355.4" font-size="4.6" text-anchor="start" font-weight="normal" fill="#1a1a1a" stroke="#1a1a1a" stroke-width="0.3">3</text>
<line x1="102.5" y1="345.5" x2="102.5" y2="347.8" stroke="#333" stroke-width="0.9"/>
<line x1="110.1" y1="345.5" x2="110.1" y2="347.8" stroke="#333" stroke-width="0.9"/>
<line x1="115.5" y1="345.5" x2="115.5" y2="347.8" stroke="#333" stroke-width="0.9"/>
<line x1="119.7" y1="345.5" x2="119.7" y2="347.8" stroke="#333" stroke-width="0.9"/>
<line x1="123.2" y1="345.5" x2="123.2" y2="347.8" stroke="#333" stroke-width="0.9"/>
<line x1="126.1" y1="345.5" x2="126.1" y2="347.8" stroke="#333" stroke-width="0.9"/>
<line x1="128.6" y1="345.5" x2="128.6" y2="347.8" stroke="#333" stroke-width="0.9"/>
<line x1="130.8" y1="345.5" x2="130.8" y2="347.8" stroke="#333" stroke-width="0.9"/>
<line x1="144.7" y1="345.5" x2="144.7" y2="347.8" stroke="#333" stroke-width="0.9"/>
<line x1="151.6" y1="345.5" x2="151.6" y2="347.8" stroke="#333" stroke-width="0.9"/>
<line x1="156.6" y1="345.5" x2="156.6" y2="347.8" stroke="#333" stroke-width="0.9"/>
<line x1="160.4" y1="345.5" x2="160.4" y2="347.8" stroke="#333" stroke-width="0.9"/>
<line x1="163.5" y1="345.5" x2="163.5" y2="347.8" stroke="#333" stroke-width="0.9"/>
<line x1="166.2" y1="345.5" x2="166.2" y2="347.8" stroke="#333" stroke-width="0.9"/>
<line x1="168.5" y1="345.5" x2="168.5" y2="347.8" stroke="#333" stroke-width="0.9"/>
<line x1="170.5" y1="345.5" x2="170.5" y2="347.8" stroke="#333" stroke-width="0.9"/>
<line x1="184.3" y1="345.5" x2="184.3" y2="347.8" stroke="#333" stroke-width="0.9"/>
<line x1="191.4" y1="345.5" x2="191.4" y2="347.8" stroke="#333" stroke-width="0.9"/>
<line x1="196.4" y1="345.5" x2="196.4" y2="347.8" stroke="#333" stroke-width="0.9"/>
<line x1="200.3" y1="345.5" x2="200.3" y2="347.8" stroke="#333" stroke-width="0.9"/>
<line x1="203.4" y1="345.5" x2="203.4" y2="347.8" stroke="#333" stroke-width="0.9"/>
<line x1="206.1" y1="345.5" x2="206.1" y2="347.8" stroke="#333" stroke-width="0.9"/>
<line x1="208.4" y1="345.5" x2="208.4" y2="347.8" stroke="#333" stroke-width="0.9"/>
<line x1="210.5" y1="345.5" x2="210.5" y2="347.8" stroke="#333" stroke-width="0.9"/>
<line x1="42" y1="345.5" x2="42" y2="347.8" stroke="#333" stroke-width="0.9"/>
<line x1="71" y1="345.5" x2="71" y2="347.8" stroke="#333" stroke-width="0.9"/>
<rect x="266.5" y="210.5" width="179.7" height="134.8" fill="none" stroke="#6a6a6a" stroke-width="1.2"/>
<line x1="266.5" y1="210.5" x2="266.5" y2="345.9" stroke="#7c7c7c" stroke-width="1.4"/>
<line x1="265.9" y1="345.3" x2="446.2" y2="345.3" stroke="#4a4a4a" stroke-width="1.3"/>
<line x1="262.9" y1="332.5" x2="266.5" y2="332.5" stroke="#333" stroke-width="1.2"/>
<text x="261.3" y="335.3" font-size="7.6" text-anchor="end" font-weight="normal" fill="#1a1a1a" stroke="#1a1a1a" stroke-width="0.45">0</text>
<line x1="262.9" y1="304.3" x2="266.5" y2="304.3" stroke="#333" stroke-width="1.2"/>
<text x="255.9" y="307.1" font-size="7.6" text-anchor="middle" font-weight="normal" fill="#1a1a1a" textLength="6.5" lengthAdjust="spacingAndGlyphs" stroke="#1a1a1a" stroke-width="0.45">10</text>
<text x="259.9" y="303.9" font-size="4.6" text-anchor="start" font-weight="normal" fill="#1a1a1a" stroke="#1a1a1a" stroke-width="0.3">0</text>
<line x1="262.9" y1="272.1" x2="266.5" y2="272.1" stroke="#333" stroke-width="1.2"/>
<text x="255.9" y="274.9" font-size="7.6" text-anchor="middle" font-weight="normal" fill="#1a1a1a" textLength="6.5" lengthAdjust="spacingAndGlyphs" stroke="#1a1a1a" stroke-width="0.45">10</text>
<text x="259.9" y="271.7" font-size="4.6" text-anchor="start" font-weight="normal" fill="#1a1a1a" stroke="#1a1a1a" stroke-width="0.3">1</text>
<line x1="262.9" y1="241.3" x2="266.5" y2="241.3" stroke="#333" stroke-width="1.2"/>
<text x="255.9" y="244.1" font-size="7.6" text-anchor="middle" font-weight="normal" fill="#1a1a1a" textLength="6.5" lengthAdjust="spacingAndGlyphs" stroke="#1a1a1a" stroke-width="0.45">10</text>
<text x="259.9" y="240.9" font-size="4.6" text-anchor="start" font-weight="normal" fill="#1a1a1a" stroke="#1a1a1a" stroke-width="0.3">2</text>
<line x1="262.9" y1="210.5" x2="266.5" y2="210.5" stroke="#333" stroke-width="1.2"/>
<text x="255.9" y="213.3" font-size="7.6" text-anchor="middle" font-weight="normal" fill="#1a1a1a" textLength="6.5" lengthAdjust="spacingAndGlyphs" stroke="#1a1a1a" stroke-width="0.45">10</text>
<text x="259.9" y="210.1" font-size="4.6" text-anchor="start" font-weight="normal" fill="#1a1a1a" stroke="#1a1a1a" stroke-width="0.3">3</text>
<line x1="264.2" y1="294.6" x2="266.5" y2="294.6" stroke="#333" stroke-width="0.9"/>
<line x1="264.2" y1="288.9" x2="266.5" y2="288.9" stroke="#333" stroke-width="0.9"/>
<line x1="264.2" y1="284.9" x2="266.5" y2="284.9" stroke="#333" stroke-width="0.9"/>
<line x1="264.2" y1="281.8" x2="266.5" y2="281.8" stroke="#333" stroke-width="0.9"/>
<line x1="264.2" y1="279.2" x2="266.5" y2="279.2" stroke="#333" stroke-width="0.9"/>
<line x1="264.2" y1="277.1" x2="266.5" y2="277.1" stroke="#333" stroke-width="0.9"/>
<line x1="264.2" y1="275.2" x2="266.5" y2="275.2" stroke="#333" stroke-width="0.9"/>
<line x1="264.2" y1="273.6" x2="266.5" y2="273.6" stroke="#333" stroke-width="0.9"/>
<line x1="264.2" y1="262.8" x2="266.5" y2="262.8" stroke="#333" stroke-width="0.9"/>
<line x1="264.2" y1="257.4" x2="266.5" y2="257.4" stroke="#333" stroke-width="0.9"/>
<line x1="264.2" y1="253.6" x2="266.5" y2="253.6" stroke="#333" stroke-width="0.9"/>
<line x1="264.2" y1="250.6" x2="266.5" y2="250.6" stroke="#333" stroke-width="0.9"/>
<line x1="264.2" y1="248.1" x2="266.5" y2="248.1" stroke="#333" stroke-width="0.9"/>
<line x1="264.2" y1="246.1" x2="266.5" y2="246.1" stroke="#333" stroke-width="0.9"/>
<line x1="264.2" y1="244.3" x2="266.5" y2="244.3" stroke="#333" stroke-width="0.9"/>
<line x1="264.2" y1="242.7" x2="266.5" y2="242.7" stroke="#333" stroke-width="0.9"/>
<line x1="264.2" y1="232" x2="266.5" y2="232" stroke="#333" stroke-width="0.9"/>
<line x1="264.2" y1="226.6" x2="266.5" y2="226.6" stroke="#333" stroke-width="0.9"/>
<line x1="264.2" y1="222.8" x2="266.5" y2="222.8" stroke="#333" stroke-width="0.9"/>
<line x1="264.2" y1="219.8" x2="266.5" y2="219.8" stroke="#333" stroke-width="0.9"/>
<line x1="264.2" y1="217.3" x2="266.5" y2="217.3" stroke="#333" stroke-width="0.9"/>
<line x1="264.2" y1="215.3" x2="266.5" y2="215.3" stroke="#333" stroke-width="0.9"/>
<line x1="264.2" y1="213.5" x2="266.5" y2="213.5" stroke="#333" stroke-width="0.9"/>
<line x1="264.2" y1="211.9" x2="266.5" y2="211.9" stroke="#333" stroke-width="0.9"/>
<line x1="264.2" y1="341" x2="266.5" y2="341" stroke="#333" stroke-width="0.9"/>
<line x1="264.2" y1="318" x2="266.5" y2="318" stroke="#333" stroke-width="0.9"/>
<line x1="285.3" y1="345.3" x2="285.3" y2="349.3" stroke="#333" stroke-width="1.2"/>
<text x="285.3" y="358.2" font-size="7.5" text-anchor="middle" font-weight="normal" fill="#1a1a1a" stroke="#1a1a1a" stroke-width="0.45">0</text>
<line x1="322.8" y1="345.3" x2="322.8" y2="349.3" stroke="#333" stroke-width="1.2"/>
<text x="322.2" y="358.2" font-size="7.5" text-anchor="middle" font-weight="normal" fill="#1a1a1a" stroke="#1a1a1a" stroke-width="0.45">10</text>
<text x="326.2" y="355.2" font-size="4.6" text-anchor="start" font-weight="normal" fill="#1a1a1a" stroke="#1a1a1a" stroke-width="0.3">0</text>
<line x1="365.3" y1="345.3" x2="365.3" y2="349.3" stroke="#333" stroke-width="1.2"/>
<text x="364.7" y="358.2" font-size="7.5" text-anchor="middle" font-weight="normal" fill="#1a1a1a" stroke="#1a1a1a" stroke-width="0.45">10</text>
<text x="368.7" y="355.2" font-size="4.6" text-anchor="start" font-weight="normal" fill="#1a1a1a" stroke="#1a1a1a" stroke-width="0.3">1</text>
<line x1="405.2" y1="345.3" x2="405.2" y2="349.3" stroke="#333" stroke-width="1.2"/>
<text x="404.6" y="358.2" font-size="7.5" text-anchor="middle" font-weight="normal" fill="#1a1a1a" stroke="#1a1a1a" stroke-width="0.45">10</text>
<text x="408.6" y="355.2" font-size="4.6" text-anchor="start" font-weight="normal" fill="#1a1a1a" stroke="#1a1a1a" stroke-width="0.3">2</text>
<line x1="445.6" y1="345.3" x2="445.6" y2="349.3" stroke="#333" stroke-width="1.2"/>
<text x="445" y="358.2" font-size="7.5" text-anchor="middle" font-weight="normal" fill="#1a1a1a" stroke="#1a1a1a" stroke-width="0.45">10</text>
<text x="449" y="355.2" font-size="4.6" text-anchor="start" font-weight="normal" fill="#1a1a1a" stroke="#1a1a1a" stroke-width="0.3">3</text>
<line x1="335.6" y1="345.3" x2="335.6" y2="347.6" stroke="#333" stroke-width="0.9"/>
<line x1="343.1" y1="345.3" x2="343.1" y2="347.6" stroke="#333" stroke-width="0.9"/>
<line x1="348.4" y1="345.3" x2="348.4" y2="347.6" stroke="#333" stroke-width="0.9"/>
<line x1="352.5" y1="345.3" x2="352.5" y2="347.6" stroke="#333" stroke-width="0.9"/>
<line x1="355.9" y1="345.3" x2="355.9" y2="347.6" stroke="#333" stroke-width="0.9"/>
<line x1="358.7" y1="345.3" x2="358.7" y2="347.6" stroke="#333" stroke-width="0.9"/>
<line x1="361.2" y1="345.3" x2="361.2" y2="347.6" stroke="#333" stroke-width="0.9"/>
<line x1="363.4" y1="345.3" x2="363.4" y2="347.6" stroke="#333" stroke-width="0.9"/>
<line x1="377.3" y1="345.3" x2="377.3" y2="347.6" stroke="#333" stroke-width="0.9"/>
<line x1="384.3" y1="345.3" x2="384.3" y2="347.6" stroke="#333" stroke-width="0.9"/>
<line x1="389.3" y1="345.3" x2="389.3" y2="347.6" stroke="#333" stroke-width="0.9"/>
<line x1="393.2" y1="345.3" x2="393.2" y2="347.6" stroke="#333" stroke-width="0.9"/>
<line x1="396.3" y1="345.3" x2="396.3" y2="347.6" stroke="#333" stroke-width="0.9"/>
<line x1="399" y1="345.3" x2="399" y2="347.6" stroke="#333" stroke-width="0.9"/>
<line x1="401.3" y1="345.3" x2="401.3" y2="347.6" stroke="#333" stroke-width="0.9"/>
<line x1="403.4" y1="345.3" x2="403.4" y2="347.6" stroke="#333" stroke-width="0.9"/>
<line x1="417.4" y1="345.3" x2="417.4" y2="347.6" stroke="#333" stroke-width="0.9"/>
<line x1="424.5" y1="345.3" x2="424.5" y2="347.6" stroke="#333" stroke-width="0.9"/>
<line x1="429.5" y1="345.3" x2="429.5" y2="347.6" stroke="#333" stroke-width="0.9"/>
<line x1="433.4" y1="345.3" x2="433.4" y2="347.6" stroke="#333" stroke-width="0.9"/>
<line x1="436.6" y1="345.3" x2="436.6" y2="347.6" stroke="#333" stroke-width="0.9"/>
<line x1="439.3" y1="345.3" x2="439.3" y2="347.6" stroke="#333" stroke-width="0.9"/>
<line x1="441.7" y1="345.3" x2="441.7" y2="347.6" stroke="#333" stroke-width="0.9"/>
<line x1="443.8" y1="345.3" x2="443.8" y2="347.6" stroke="#333" stroke-width="0.9"/>
<line x1="275" y1="345.3" x2="275" y2="347.6" stroke="#333" stroke-width="0.9"/>
<line x1="304" y1="345.3" x2="304" y2="347.6" stroke="#333" stroke-width="0.9"/>
<rect x="500.8" y="210.5" width="180" height="134.8" fill="none" stroke="#6a6a6a" stroke-width="1.2"/>
<line x1="500.8" y1="210.5" x2="500.8" y2="345.9" stroke="#7c7c7c" stroke-width="1.4"/>
<line x1="500.2" y1="345.3" x2="680.8" y2="345.3" stroke="#4a4a4a" stroke-width="1.3"/>
<line x1="496.9" y1="338.6" x2="500.8" y2="338.6" stroke="#333" stroke-width="1.2"/>
<text x="495.3" y="341.4" font-size="7.6" text-anchor="end" font-weight="normal" fill="#1a1a1a" stroke="#1a1a1a" stroke-width="0.45">-1</text>
<line x1="496.9" y1="323.9" x2="500.8" y2="323.9" stroke="#333" stroke-width="1.2"/>
<text x="495.3" y="326.7" font-size="7.6" text-anchor="end" font-weight="normal" fill="#1a1a1a" stroke="#1a1a1a" stroke-width="0.45">0</text>
<line x1="496.9" y1="309.2" x2="500.8" y2="309.2" stroke="#333" stroke-width="1.2"/>
<text x="495.3" y="312" font-size="7.6" text-anchor="end" font-weight="normal" fill="#1a1a1a" stroke="#1a1a1a" stroke-width="0.45">1</text>
<line x1="496.9" y1="273.4" x2="500.8" y2="273.4" stroke="#333" stroke-width="1.2"/>
<text x="489.5" y="276.2" font-size="7.6" text-anchor="middle" font-weight="normal" fill="#1a1a1a" textLength="6.9" lengthAdjust="spacingAndGlyphs" stroke="#1a1a1a" stroke-width="0.45">10</text>
<text x="493.7" y="273" font-size="4.6" text-anchor="start" font-weight="normal" fill="#1a1a1a" stroke="#1a1a1a" stroke-width="0.3">1</text>
<line x1="496.9" y1="241.3" x2="500.8" y2="241.3" stroke="#333" stroke-width="1.2"/>
<text x="489.5" y="244.1" font-size="7.6" text-anchor="middle" font-weight="normal" fill="#1a1a1a" textLength="6.9" lengthAdjust="spacingAndGlyphs" stroke="#1a1a1a" stroke-width="0.45">10</text>
<text x="493.7" y="240.9" font-size="4.6" text-anchor="start" font-weight="normal" fill="#1a1a1a" stroke="#1a1a1a" stroke-width="0.3">2</text>
<line x1="496.9" y1="210.5" x2="500.8" y2="210.5" stroke="#333" stroke-width="1.2"/>
<text x="489.5" y="213.3" font-size="7.6" text-anchor="middle" font-weight="normal" fill="#1a1a1a" textLength="6.9" lengthAdjust="spacingAndGlyphs" stroke="#1a1a1a" stroke-width="0.45">10</text>
<text x="493.7" y="210.1" font-size="4.6" text-anchor="start" font-weight="normal" fill="#1a1a1a" stroke="#1a1a1a" stroke-width="0.3">3</text>
<line x1="498.5" y1="263.7" x2="500.8" y2="263.7" stroke="#333" stroke-width="0.9"/>
<line x1="498.5" y1="258.1" x2="500.8" y2="258.1" stroke="#333" stroke-width="0.9"/>
<line x1="498.5" y1="254.1" x2="500.8" y2="254.1" stroke="#333" stroke-width="0.9"/>
<line x1="498.5" y1="251" x2="500.8" y2="251" stroke="#333" stroke-width="0.9"/>
<line x1="498.5" y1="248.4" x2="500.8" y2="248.4" stroke="#333" stroke-width="0.9"/>
<line x1="498.5" y1="246.3" x2="500.8" y2="246.3" stroke="#333" stroke-width="0.9"/>
<line x1="498.5" y1="244.4" x2="500.8" y2="244.4" stroke="#333" stroke-width="0.9"/>
<line x1="498.5" y1="242.8" x2="500.8" y2="242.8" stroke="#333" stroke-width="0.9"/>
<line x1="498.5" y1="232" x2="500.8" y2="232" stroke="#333" stroke-width="0.9"/>
<line x1="498.5" y1="226.6" x2="500.8" y2="226.6" stroke="#333" stroke-width="0.9"/>
<line x1="498.5" y1="222.8" x2="500.8" y2="222.8" stroke="#333" stroke-width="0.9"/>
<line x1="498.5" y1="219.8" x2="500.8" y2="219.8" stroke="#333" stroke-width="0.9"/>
<line x1="498.5" y1="217.3" x2="500.8" y2="217.3" stroke="#333" stroke-width="0.9"/>
<line x1="498.5" y1="215.3" x2="500.8" y2="215.3" stroke="#333" stroke-width="0.9"/>
<line x1="498.5" y1="213.5" x2="500.8" y2="213.5" stroke="#333" stroke-width="0.9"/>
<line x1="498.5" y1="211.9" x2="500.8" y2="211.9" stroke="#333" stroke-width="0.9"/>
<line x1="498.5" y1="295" x2="500.8" y2="295" stroke="#333" stroke-width="0.9"/>
<line x1="498.5" y1="287" x2="500.8" y2="287" stroke="#333" stroke-width="0.9"/>
<line x1="498.5" y1="282" x2="500.8" y2="282" stroke="#333" stroke-width="0.9"/>
<line x1="522.5" y1="345.3" x2="522.5" y2="349.3" stroke="#333" stroke-width="1.2"/>
<text x="522.5" y="358.2" font-size="7.5" text-anchor="middle" font-weight="normal" fill="#1a1a1a" stroke="#1a1a1a" stroke-width="0.45">0</text>
<line x1="554.1" y1="345.3" x2="554.1" y2="349.3" stroke="#333" stroke-width="1.2"/>
<text x="553.5" y="358.2" font-size="7.5" text-anchor="middle" font-weight="normal" fill="#1a1a1a" stroke="#1a1a1a" stroke-width="0.45">10</text>
<text x="557.5" y="355.2" font-size="4.6" text-anchor="start" font-weight="normal" fill="#1a1a1a" stroke="#1a1a1a" stroke-width="0.3">0</text>
<line x1="599.3" y1="345.3" x2="599.3" y2="349.3" stroke="#333" stroke-width="1.2"/>
<text x="598.6" y="358.2" font-size="7.5" text-anchor="middle" font-weight="normal" fill="#1a1a1a" stroke="#1a1a1a" stroke-width="0.45">10</text>
<text x="602.7" y="355.2" font-size="4.6" text-anchor="start" font-weight="normal" fill="#1a1a1a" stroke="#1a1a1a" stroke-width="0.3">1</text>
<line x1="640.5" y1="345.3" x2="640.5" y2="349.3" stroke="#333" stroke-width="1.2"/>
<text x="639.9" y="358.2" font-size="7.5" text-anchor="middle" font-weight="normal" fill="#1a1a1a" stroke="#1a1a1a" stroke-width="0.45">10</text>
<text x="643.9" y="355.2" font-size="4.6" text-anchor="start" font-weight="normal" fill="#1a1a1a" stroke="#1a1a1a" stroke-width="0.3">2</text>
<line x1="680.7" y1="345.3" x2="680.7" y2="349.3" stroke="#333" stroke-width="1.2"/>
<text x="680.1" y="358.2" font-size="7.5" text-anchor="middle" font-weight="normal" fill="#1a1a1a" stroke="#1a1a1a" stroke-width="0.45">10</text>
<text x="684.1" y="355.2" font-size="4.6" text-anchor="start" font-weight="normal" fill="#1a1a1a" stroke="#1a1a1a" stroke-width="0.3">3</text>
<line x1="567.7" y1="345.3" x2="567.7" y2="347.6" stroke="#333" stroke-width="0.9"/>
<line x1="575.7" y1="345.3" x2="575.7" y2="347.6" stroke="#333" stroke-width="0.9"/>
<line x1="581.3" y1="345.3" x2="581.3" y2="347.6" stroke="#333" stroke-width="0.9"/>
<line x1="585.7" y1="345.3" x2="585.7" y2="347.6" stroke="#333" stroke-width="0.9"/>
<line x1="589.3" y1="345.3" x2="589.3" y2="347.6" stroke="#333" stroke-width="0.9"/>
<line x1="592.3" y1="345.3" x2="592.3" y2="347.6" stroke="#333" stroke-width="0.9"/>
<line x1="594.9" y1="345.3" x2="594.9" y2="347.6" stroke="#333" stroke-width="0.9"/>
<line x1="597.2" y1="345.3" x2="597.2" y2="347.6" stroke="#333" stroke-width="0.9"/>
<line x1="611.7" y1="345.3" x2="611.7" y2="347.6" stroke="#333" stroke-width="0.9"/>
<line x1="619" y1="345.3" x2="619" y2="347.6" stroke="#333" stroke-width="0.9"/>
<line x1="624.1" y1="345.3" x2="624.1" y2="347.6" stroke="#333" stroke-width="0.9"/>
<line x1="628.1" y1="345.3" x2="628.1" y2="347.6" stroke="#333" stroke-width="0.9"/>
<line x1="631.4" y1="345.3" x2="631.4" y2="347.6" stroke="#333" stroke-width="0.9"/>
<line x1="634.1" y1="345.3" x2="634.1" y2="347.6" stroke="#333" stroke-width="0.9"/>
<line x1="636.5" y1="345.3" x2="636.5" y2="347.6" stroke="#333" stroke-width="0.9"/>
<line x1="638.6" y1="345.3" x2="638.6" y2="347.6" stroke="#333" stroke-width="0.9"/>
<line x1="652.6" y1="345.3" x2="652.6" y2="347.6" stroke="#333" stroke-width="0.9"/>
<line x1="659.7" y1="345.3" x2="659.7" y2="347.6" stroke="#333" stroke-width="0.9"/>
<line x1="664.7" y1="345.3" x2="664.7" y2="347.6" stroke="#333" stroke-width="0.9"/>
<line x1="668.6" y1="345.3" x2="668.6" y2="347.6" stroke="#333" stroke-width="0.9"/>
<line x1="671.8" y1="345.3" x2="671.8" y2="347.6" stroke="#333" stroke-width="0.9"/>
<line x1="674.5" y1="345.3" x2="674.5" y2="347.6" stroke="#333" stroke-width="0.9"/>
<line x1="676.8" y1="345.3" x2="676.8" y2="347.6" stroke="#333" stroke-width="0.9"/>
<line x1="678.9" y1="345.3" x2="678.9" y2="347.6" stroke="#333" stroke-width="0.9"/>
<line x1="511" y1="345.3" x2="511" y2="347.6" stroke="#333" stroke-width="0.9"/>
<line x1="538" y1="345.3" x2="538" y2="347.6" stroke="#333" stroke-width="0.9"/>
<line x1="332.2" y1="21" x2="332.2" y2="163.4" stroke="#333" stroke-width="1.2"/>
<line x1="269.2" y1="127.2" x2="443" y2="127.2" stroke="#333" stroke-width="1.2"/>
<polyline points="498,113.9 547.5,113.9 547.5,163.3" fill="none" stroke="#333" stroke-width="1.2" stroke-linejoin="miter"/>
<line x1="548" y1="113" x2="641" y2="20.5" stroke="#333" stroke-width="1.2"/>
<line x1="548" y1="113" x2="677.6" y2="25.3" stroke="#333" stroke-width="1.2"/>
<polyline points="212.5,210.5 181,238.8 127.3,276.2 115.4,322.5 119.8,345.3" fill="none" stroke="#333" stroke-width="1.2" stroke-linejoin="miter"/>
<line x1="340.8" y1="210.5" x2="340.8" y2="345.3" stroke="#333" stroke-width="1.2"/>
<line x1="266.5" y1="289" x2="446.2" y2="289" stroke="#333" stroke-width="1.2"/>
<line x1="552.8" y1="210.5" x2="552.8" y2="345.3" stroke="#333" stroke-width="1.2"/>
<line x1="500.8" y1="299.8" x2="680.8" y2="299.8" stroke="#333" stroke-width="1.2"/>
<polygon points="101.8,51.4 146.8,41.2 163.8,51.3 147.2,83.2 128.3,95.5 84.2,92.6" fill="none" stroke="#333" stroke-width="1.2" stroke-linejoin="miter"/>
<text x="31.8" y="14.8" font-size="20" text-anchor="start" font-weight="normal" fill="#000" >A</text>
<text x="266.6" y="14.7" font-size="20" text-anchor="start" font-weight="normal" fill="#000" >B</text>
<text x="497" y="14.7" font-size="20" text-anchor="start" font-weight="normal" fill="#000" textLength="13.4" lengthAdjust="spacingAndGlyphs" >C</text>
<text x="33" y="204.7" font-size="20" text-anchor="start" font-weight="normal" fill="#000" >D</text>
<text x="266.6" y="205" font-size="20" text-anchor="start" font-weight="normal" fill="#000" textLength="11.8" lengthAdjust="spacingAndGlyphs" >E</text>
<text x="497.2" y="205" font-size="20" text-anchor="start" font-weight="normal" fill="#000" >F</text>
<text x="121.4" y="191.7" font-size="9.5" text-anchor="middle" font-weight="normal" fill="#2a2a2a" textLength="23.5" lengthAdjust="spacingAndGlyphs" stroke="#2a2a2a" stroke-width="0.4">SSC-A</text>
<text x="356" y="192" font-size="10" text-anchor="middle" font-weight="bold" fill="#222" textLength="25.5" lengthAdjust="spacingAndGlyphs" stroke="#222" stroke-width="0.2">CD20</text>
<text x="587.8" y="191.2" font-size="10" text-anchor="middle" font-weight="bold" fill="#222" textLength="33.2" lengthAdjust="spacingAndGlyphs" stroke="#222" stroke-width="0.2">Kappa</text>
<text x="123.7" y="373.6" font-size="10.3" text-anchor="middle" font-weight="bold" fill="#222" textLength="22.8" lengthAdjust="spacingAndGlyphs" stroke="#222" stroke-width="0.2">CD38</text>
<text x="356.5" y="373.6" font-size="10.3" text-anchor="middle" font-weight="bold" fill="#222" textLength="23.1" lengthAdjust="spacingAndGlyphs" stroke="#222" stroke-width="0.2">CD38</text>
<text x="590.5" y="373.6" font-size="10.3" text-anchor="middle" font-weight="bold" fill="#222" textLength="23.1" lengthAdjust="spacingAndGlyphs" stroke="#222" stroke-width="0.2">CD56</text>
<g transform="translate(9.6,92.8) rotate(-90)">
<text x="0" y="0" font-size="9.5" text-anchor="middle" font-weight="bold" fill="#222" textLength="22.8" lengthAdjust="spacingAndGlyphs" >CD45</text>
</g>
<g transform="translate(239.5,91.9) rotate(-90)">
<text x="0" y="0" font-size="10" text-anchor="middle" font-weight="bold" fill="#222" textLength="24.2" lengthAdjust="spacingAndGlyphs" >CD19</text>
</g>
<g transform="translate(466,91.7) rotate(-90)">
<text x="0" y="0" font-size="12.3" text-anchor="middle" font-weight="normal" fill="#222" textLength="37" lengthAdjust="spacingAndGlyphs" stroke="#222" stroke-width="0.2">Lambda</text>
</g>
<g transform="translate(8.1,278.2) rotate(-90)">
<text x="0" y="0" font-size="9.5" text-anchor="middle" font-weight="bold" fill="#222" textLength="22.5" lengthAdjust="spacingAndGlyphs" >CD45</text>
</g>
<g transform="translate(241,277.8) rotate(-90)">
<text x="0" y="0" font-size="10" text-anchor="middle" font-weight="bold" fill="#222" textLength="28" lengthAdjust="spacingAndGlyphs" >CD138</text>
</g>
<g transform="translate(475,278.2) rotate(-90)">
<text x="0" y="0" font-size="10" text-anchor="middle" font-weight="bold" fill="#222" textLength="22.5" lengthAdjust="spacingAndGlyphs" >CD19</text>
</g>
</svg>
</body></html>
